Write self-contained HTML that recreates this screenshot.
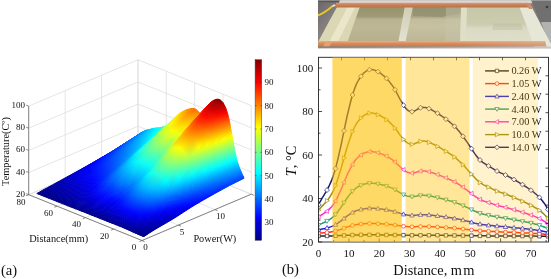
<!DOCTYPE html>
<html><head><meta charset="utf-8"><title>Figure</title>
<style>html,body{margin:0;padding:0;background:#fff;overflow:hidden}body{width:551px;height:279px;font-family:"Liberation Serif",serif}</style>
</head><body>
<svg width="551" height="279" viewBox="0 0 551 279" style="display:block;isolation:isolate;filter:blur(0.3px)"><g id="a3d">
<path d="M28.7 194.7L28.7 106.1M28.7 194.7L142 240.5M65.2 179.3L65.2 90.7M65.2 179.3L178.4 225.1M101.6 163.8L101.6 75.2M101.6 163.8L214.9 209.6M138 148.4L138 59.8M138 148.4L251.3 194.2M251.3 194.2L251.3 105.6M251.3 194.2L142 240.5M223 182.7L223 94.1M223 182.7L113.7 229.1M194.7 171.3L194.7 82.7M194.7 171.3L85.4 217.6M166.3 159.8L166.3 71.2M166.3 159.8L57 206.2M138 148.4L138 59.8M138 148.4L28.7 194.7M28.7 194.7L138 148.4M138 148.4L251.3 194.2M28.7 172.5L138 126.2M138 126.2L251.3 172M28.7 150.4L138 104.1M138 104.1L251.3 149.9M28.7 128.2L138 81.9M138 81.9L251.3 127.7M28.7 106.1L138 59.8M138 59.8L251.3 105.6" stroke="#dedede" stroke-width="0.8" fill="none"/>
<defs><linearGradient id="s99" gradientUnits="userSpaceOnUse" x1="37.7" y1="193.8" x2="137.8" y2="136.3"><stop offset="0.000" stop-color="#000084"/><stop offset="0.029" stop-color="#000089"/><stop offset="0.058" stop-color="#00008f"/><stop offset="0.106" stop-color="#000097"/><stop offset="0.155" stop-color="#00009e"/><stop offset="0.227" stop-color="#0000aa"/><stop offset="0.300" stop-color="#0000b6"/><stop offset="0.394" stop-color="#0000c6"/><stop offset="0.488" stop-color="#0000d5"/><stop offset="0.597" stop-color="#0000e9"/><stop offset="0.706" stop-color="#0000fb"/><stop offset="0.779" stop-color="#000bff"/><stop offset="0.853" stop-color="#001bff"/><stop offset="0.926" stop-color="#002aff"/><stop offset="1.000" stop-color="#0039ff"/></linearGradient><linearGradient id="s98" gradientUnits="userSpaceOnUse" x1="39.3" y1="194.5" x2="139.4" y2="134.3"><stop offset="0.000" stop-color="#000084"/><stop offset="0.029" stop-color="#00008a"/><stop offset="0.058" stop-color="#000091"/><stop offset="0.106" stop-color="#00009a"/><stop offset="0.155" stop-color="#0000a3"/><stop offset="0.227" stop-color="#0000b1"/><stop offset="0.300" stop-color="#0000c0"/><stop offset="0.394" stop-color="#0000d2"/><stop offset="0.488" stop-color="#0000e4"/><stop offset="0.597" stop-color="#0000fa"/><stop offset="0.705" stop-color="#0011ff"/><stop offset="0.779" stop-color="#0023ff"/><stop offset="0.853" stop-color="#0035ff"/><stop offset="0.926" stop-color="#0046ff"/><stop offset="1.000" stop-color="#0058ff"/></linearGradient><linearGradient id="s97" gradientUnits="userSpaceOnUse" x1="40.9" y1="195.1" x2="141" y2="132.9"><stop offset="0.000" stop-color="#000084"/><stop offset="0.029" stop-color="#00008b"/><stop offset="0.058" stop-color="#000093"/><stop offset="0.106" stop-color="#00009d"/><stop offset="0.155" stop-color="#0000a7"/><stop offset="0.227" stop-color="#0000b7"/><stop offset="0.300" stop-color="#0000c7"/><stop offset="0.394" stop-color="#0000db"/><stop offset="0.487" stop-color="#0000f0"/><stop offset="0.596" stop-color="#000aff"/><stop offset="0.705" stop-color="#0022ff"/><stop offset="0.779" stop-color="#0036ff"/><stop offset="0.853" stop-color="#0049ff"/><stop offset="0.926" stop-color="#005dff"/><stop offset="1.000" stop-color="#0071ff"/></linearGradient><linearGradient id="s96" gradientUnits="userSpaceOnUse" x1="42.5" y1="195.7" x2="142.6" y2="131.9"><stop offset="0.000" stop-color="#000085"/><stop offset="0.029" stop-color="#00008c"/><stop offset="0.058" stop-color="#000094"/><stop offset="0.106" stop-color="#00009f"/><stop offset="0.155" stop-color="#0000aa"/><stop offset="0.227" stop-color="#0000bb"/><stop offset="0.300" stop-color="#0000cd"/><stop offset="0.393" stop-color="#0000e3"/><stop offset="0.487" stop-color="#0000f9"/><stop offset="0.596" stop-color="#0015ff"/><stop offset="0.705" stop-color="#0030ff"/><stop offset="0.779" stop-color="#0045ff"/><stop offset="0.852" stop-color="#005aff"/><stop offset="0.926" stop-color="#0070ff"/><stop offset="1.000" stop-color="#0085ff"/></linearGradient><linearGradient id="s95" gradientUnits="userSpaceOnUse" x1="44.1" y1="196.4" x2="144.2" y2="131.1"><stop offset="0.000" stop-color="#000085"/><stop offset="0.029" stop-color="#00008d"/><stop offset="0.058" stop-color="#000096"/><stop offset="0.106" stop-color="#0000a1"/><stop offset="0.155" stop-color="#0000ac"/><stop offset="0.227" stop-color="#0000bf"/><stop offset="0.300" stop-color="#0000d2"/><stop offset="0.393" stop-color="#0000ea"/><stop offset="0.487" stop-color="#0002ff"/><stop offset="0.596" stop-color="#001fff"/><stop offset="0.705" stop-color="#003cff"/><stop offset="0.779" stop-color="#0052ff"/><stop offset="0.852" stop-color="#0069ff"/><stop offset="0.926" stop-color="#007fff"/><stop offset="1.000" stop-color="#0095ff"/></linearGradient><linearGradient id="s94" gradientUnits="userSpaceOnUse" x1="45.7" y1="197" x2="145.8" y2="130.5"><stop offset="0.000" stop-color="#000085"/><stop offset="0.029" stop-color="#00008d"/><stop offset="0.058" stop-color="#000097"/><stop offset="0.107" stop-color="#0000a3"/><stop offset="0.155" stop-color="#0000af"/><stop offset="0.227" stop-color="#0000c3"/><stop offset="0.300" stop-color="#0000d7"/><stop offset="0.393" stop-color="#0000f0"/><stop offset="0.487" stop-color="#000aff"/><stop offset="0.596" stop-color="#0028ff"/><stop offset="0.705" stop-color="#0047ff"/><stop offset="0.779" stop-color="#005eff"/><stop offset="0.852" stop-color="#0076ff"/><stop offset="0.926" stop-color="#008dff"/><stop offset="1.000" stop-color="#00a4ff"/></linearGradient><linearGradient id="s93" gradientUnits="userSpaceOnUse" x1="47.3" y1="197.6" x2="147.5" y2="130"><stop offset="0.000" stop-color="#000085"/><stop offset="0.029" stop-color="#00008e"/><stop offset="0.058" stop-color="#000098"/><stop offset="0.107" stop-color="#0000a5"/><stop offset="0.155" stop-color="#0000b1"/><stop offset="0.227" stop-color="#0000c6"/><stop offset="0.300" stop-color="#0000db"/><stop offset="0.393" stop-color="#0000f5"/><stop offset="0.487" stop-color="#0011ff"/><stop offset="0.596" stop-color="#0031ff"/><stop offset="0.705" stop-color="#0051ff"/><stop offset="0.779" stop-color="#0069ff"/><stop offset="0.853" stop-color="#0082ff"/><stop offset="0.926" stop-color="#009aff"/><stop offset="1.000" stop-color="#00b2ff"/></linearGradient><linearGradient id="s92" gradientUnits="userSpaceOnUse" x1="49" y1="198.3" x2="149.1" y2="129.5"><stop offset="0.000" stop-color="#000085"/><stop offset="0.029" stop-color="#00008e"/><stop offset="0.058" stop-color="#000099"/><stop offset="0.107" stop-color="#0000a6"/><stop offset="0.155" stop-color="#0000b3"/><stop offset="0.227" stop-color="#0000c9"/><stop offset="0.300" stop-color="#0000df"/><stop offset="0.393" stop-color="#0000fb"/><stop offset="0.487" stop-color="#0017ff"/><stop offset="0.596" stop-color="#0039ff"/><stop offset="0.705" stop-color="#005aff"/><stop offset="0.779" stop-color="#0074ff"/><stop offset="0.853" stop-color="#008dff"/><stop offset="0.926" stop-color="#00a7ff"/><stop offset="1.000" stop-color="#00c0ff"/></linearGradient><linearGradient id="s91" gradientUnits="userSpaceOnUse" x1="50.6" y1="198.9" x2="150.7" y2="129.1"><stop offset="0.000" stop-color="#000085"/><stop offset="0.029" stop-color="#00008f"/><stop offset="0.058" stop-color="#00009a"/><stop offset="0.107" stop-color="#0000a8"/><stop offset="0.155" stop-color="#0000b6"/><stop offset="0.227" stop-color="#0000cc"/><stop offset="0.300" stop-color="#0000e3"/><stop offset="0.393" stop-color="#0001ff"/><stop offset="0.487" stop-color="#001eff"/><stop offset="0.596" stop-color="#0041ff"/><stop offset="0.705" stop-color="#0064ff"/><stop offset="0.779" stop-color="#007eff"/><stop offset="0.853" stop-color="#0098ff"/><stop offset="0.926" stop-color="#00b2ff"/><stop offset="1.000" stop-color="#00ccff"/></linearGradient><linearGradient id="s90" gradientUnits="userSpaceOnUse" x1="52.2" y1="199.6" x2="152.3" y2="128.7"><stop offset="0.000" stop-color="#000085"/><stop offset="0.029" stop-color="#00008f"/><stop offset="0.058" stop-color="#00009b"/><stop offset="0.107" stop-color="#0000aa"/><stop offset="0.155" stop-color="#0000b8"/><stop offset="0.227" stop-color="#0000cf"/><stop offset="0.300" stop-color="#0000e7"/><stop offset="0.393" stop-color="#0006ff"/><stop offset="0.487" stop-color="#0024ff"/><stop offset="0.596" stop-color="#0049ff"/><stop offset="0.705" stop-color="#006dff"/><stop offset="0.779" stop-color="#0088ff"/><stop offset="0.853" stop-color="#00a3ff"/><stop offset="0.926" stop-color="#00beff"/><stop offset="1.000" stop-color="#00d8ff"/></linearGradient><linearGradient id="s89" gradientUnits="userSpaceOnUse" x1="53.8" y1="200.2" x2="153.9" y2="128.4"><stop offset="0.000" stop-color="#000086"/><stop offset="0.029" stop-color="#000090"/><stop offset="0.058" stop-color="#00009c"/><stop offset="0.107" stop-color="#0000ab"/><stop offset="0.155" stop-color="#0000ba"/><stop offset="0.227" stop-color="#0000d2"/><stop offset="0.300" stop-color="#0000eb"/><stop offset="0.393" stop-color="#000bff"/><stop offset="0.487" stop-color="#002aff"/><stop offset="0.596" stop-color="#0050ff"/><stop offset="0.705" stop-color="#0076ff"/><stop offset="0.779" stop-color="#0092ff"/><stop offset="0.853" stop-color="#00adff"/><stop offset="0.927" stop-color="#00c9ff"/><stop offset="1.000" stop-color="#00e4ff"/></linearGradient><linearGradient id="s88" gradientUnits="userSpaceOnUse" x1="55.4" y1="200.9" x2="155.5" y2="128.1"><stop offset="0.000" stop-color="#000086"/><stop offset="0.029" stop-color="#000090"/><stop offset="0.058" stop-color="#00009d"/><stop offset="0.107" stop-color="#0000ad"/><stop offset="0.155" stop-color="#0000bc"/><stop offset="0.227" stop-color="#0000d5"/><stop offset="0.300" stop-color="#0000ef"/><stop offset="0.394" stop-color="#0010ff"/><stop offset="0.487" stop-color="#0030ff"/><stop offset="0.597" stop-color="#0057ff"/><stop offset="0.705" stop-color="#007eff"/><stop offset="0.779" stop-color="#009bff"/><stop offset="0.853" stop-color="#00b8ff"/><stop offset="0.927" stop-color="#00d4ff"/><stop offset="1.000" stop-color="#00f0ff"/></linearGradient><linearGradient id="s87" gradientUnits="userSpaceOnUse" x1="57" y1="201.5" x2="157.1" y2="127.9"><stop offset="0.000" stop-color="#000086"/><stop offset="0.029" stop-color="#000091"/><stop offset="0.058" stop-color="#00009e"/><stop offset="0.107" stop-color="#0000ae"/><stop offset="0.155" stop-color="#0000bd"/><stop offset="0.227" stop-color="#0000d7"/><stop offset="0.300" stop-color="#0000f2"/><stop offset="0.394" stop-color="#0014ff"/><stop offset="0.487" stop-color="#0035ff"/><stop offset="0.597" stop-color="#005eff"/><stop offset="0.706" stop-color="#0086ff"/><stop offset="0.779" stop-color="#00a3ff"/><stop offset="0.853" stop-color="#00c1ff"/><stop offset="0.927" stop-color="#00deff"/><stop offset="1.000" stop-color="#00faff"/></linearGradient><linearGradient id="s86" gradientUnits="userSpaceOnUse" x1="58.6" y1="202.1" x2="158.8" y2="127.7"><stop offset="0.000" stop-color="#000086"/><stop offset="0.029" stop-color="#000091"/><stop offset="0.059" stop-color="#00009e"/><stop offset="0.107" stop-color="#0000af"/><stop offset="0.155" stop-color="#0000bf"/><stop offset="0.227" stop-color="#0000da"/><stop offset="0.300" stop-color="#0000f5"/><stop offset="0.394" stop-color="#0018ff"/><stop offset="0.488" stop-color="#003aff"/><stop offset="0.597" stop-color="#0064ff"/><stop offset="0.706" stop-color="#008dff"/><stop offset="0.780" stop-color="#00abff"/><stop offset="0.853" stop-color="#00c9ff"/><stop offset="0.927" stop-color="#00e7ff"/><stop offset="1.000" stop-color="#04fffb"/></linearGradient><linearGradient id="s85" gradientUnits="userSpaceOnUse" x1="60.3" y1="202.8" x2="160.4" y2="127.6"><stop offset="0.000" stop-color="#000086"/><stop offset="0.029" stop-color="#000092"/><stop offset="0.059" stop-color="#00009f"/><stop offset="0.107" stop-color="#0000b0"/><stop offset="0.155" stop-color="#0000c1"/><stop offset="0.227" stop-color="#0000dc"/><stop offset="0.300" stop-color="#0000f9"/><stop offset="0.394" stop-color="#001cff"/><stop offset="0.488" stop-color="#0040ff"/><stop offset="0.597" stop-color="#006bff"/><stop offset="0.706" stop-color="#0095ff"/><stop offset="0.780" stop-color="#00b4ff"/><stop offset="0.853" stop-color="#00d2ff"/><stop offset="0.927" stop-color="#00f0ff"/><stop offset="1.000" stop-color="#0efff1"/></linearGradient><linearGradient id="s84" gradientUnits="userSpaceOnUse" x1="61.9" y1="203.4" x2="162" y2="127.2"><stop offset="0.000" stop-color="#000086"/><stop offset="0.029" stop-color="#000092"/><stop offset="0.059" stop-color="#0000a0"/><stop offset="0.107" stop-color="#0000b2"/><stop offset="0.155" stop-color="#0000c3"/><stop offset="0.227" stop-color="#0000df"/><stop offset="0.300" stop-color="#0000fc"/><stop offset="0.394" stop-color="#0022ff"/><stop offset="0.488" stop-color="#0046ff"/><stop offset="0.597" stop-color="#0073ff"/><stop offset="0.706" stop-color="#009eff"/><stop offset="0.780" stop-color="#00beff"/><stop offset="0.854" stop-color="#00ddff"/><stop offset="0.927" stop-color="#00fbff"/><stop offset="1.000" stop-color="#1affe5"/></linearGradient><linearGradient id="s83" gradientUnits="userSpaceOnUse" x1="63.5" y1="204.1" x2="163.6" y2="126.8"><stop offset="0.000" stop-color="#000086"/><stop offset="0.029" stop-color="#000093"/><stop offset="0.059" stop-color="#0000a1"/><stop offset="0.107" stop-color="#0000b4"/><stop offset="0.155" stop-color="#0000c5"/><stop offset="0.228" stop-color="#0000e3"/><stop offset="0.300" stop-color="#0002ff"/><stop offset="0.394" stop-color="#0027ff"/><stop offset="0.488" stop-color="#004dff"/><stop offset="0.598" stop-color="#007bff"/><stop offset="0.707" stop-color="#00a8ff"/><stop offset="0.780" stop-color="#00c8ff"/><stop offset="0.854" stop-color="#00e8ff"/><stop offset="0.927" stop-color="#09fff6"/><stop offset="1.000" stop-color="#27ffd8"/></linearGradient><linearGradient id="s82" gradientUnits="userSpaceOnUse" x1="65.1" y1="204.7" x2="165.2" y2="126.3"><stop offset="0.000" stop-color="#000086"/><stop offset="0.029" stop-color="#000093"/><stop offset="0.059" stop-color="#0000a2"/><stop offset="0.107" stop-color="#0000b5"/><stop offset="0.155" stop-color="#0000c8"/><stop offset="0.228" stop-color="#0000e6"/><stop offset="0.300" stop-color="#0006ff"/><stop offset="0.394" stop-color="#002dff"/><stop offset="0.488" stop-color="#0053ff"/><stop offset="0.598" stop-color="#0083ff"/><stop offset="0.707" stop-color="#00b2ff"/><stop offset="0.781" stop-color="#00d3ff"/><stop offset="0.854" stop-color="#00f4ff"/><stop offset="0.927" stop-color="#15ffea"/><stop offset="1.000" stop-color="#34ffcb"/></linearGradient><linearGradient id="s81" gradientUnits="userSpaceOnUse" x1="66.7" y1="205.4" x2="166.8" y2="125.9"><stop offset="0.000" stop-color="#000087"/><stop offset="0.029" stop-color="#000094"/><stop offset="0.059" stop-color="#0000a3"/><stop offset="0.107" stop-color="#0000b7"/><stop offset="0.155" stop-color="#0000ca"/><stop offset="0.228" stop-color="#0000e9"/><stop offset="0.301" stop-color="#000aff"/><stop offset="0.394" stop-color="#0032ff"/><stop offset="0.488" stop-color="#005aff"/><stop offset="0.598" stop-color="#008cff"/><stop offset="0.707" stop-color="#00bcff"/><stop offset="0.781" stop-color="#00deff"/><stop offset="0.854" stop-color="#00ffff"/><stop offset="0.927" stop-color="#21ffde"/><stop offset="1.000" stop-color="#41ffbe"/></linearGradient><linearGradient id="s80" gradientUnits="userSpaceOnUse" x1="68.3" y1="206" x2="168.4" y2="125.1"><stop offset="0.000" stop-color="#000087"/><stop offset="0.029" stop-color="#000095"/><stop offset="0.059" stop-color="#0000a5"/><stop offset="0.107" stop-color="#0000b9"/><stop offset="0.155" stop-color="#0000cd"/><stop offset="0.228" stop-color="#0000ee"/><stop offset="0.301" stop-color="#0010ff"/><stop offset="0.395" stop-color="#0039ff"/><stop offset="0.489" stop-color="#0063ff"/><stop offset="0.598" stop-color="#0097ff"/><stop offset="0.708" stop-color="#00c9ff"/><stop offset="0.781" stop-color="#00ecff"/><stop offset="0.854" stop-color="#0ffff0"/><stop offset="0.927" stop-color="#31ffce"/><stop offset="1.000" stop-color="#52ffad"/></linearGradient><linearGradient id="s79" gradientUnits="userSpaceOnUse" x1="69.9" y1="206.6" x2="170.1" y2="123.9"><stop offset="0.000" stop-color="#000087"/><stop offset="0.029" stop-color="#000096"/><stop offset="0.059" stop-color="#0000a6"/><stop offset="0.107" stop-color="#0000bc"/><stop offset="0.155" stop-color="#0000d1"/><stop offset="0.228" stop-color="#0000f3"/><stop offset="0.301" stop-color="#0017ff"/><stop offset="0.395" stop-color="#0043ff"/><stop offset="0.489" stop-color="#006fff"/><stop offset="0.599" stop-color="#00a5ff"/><stop offset="0.708" stop-color="#00daff"/><stop offset="0.781" stop-color="#00ffff"/><stop offset="0.855" stop-color="#24ffdb"/><stop offset="0.928" stop-color="#47ffb8"/><stop offset="1.000" stop-color="#69ff96"/></linearGradient><linearGradient id="s78" gradientUnits="userSpaceOnUse" x1="71.6" y1="207.2" x2="171.7" y2="122.1"><stop offset="0.000" stop-color="#000087"/><stop offset="0.029" stop-color="#000097"/><stop offset="0.059" stop-color="#0000a9"/><stop offset="0.108" stop-color="#0000c0"/><stop offset="0.155" stop-color="#0000d6"/><stop offset="0.228" stop-color="#0000fa"/><stop offset="0.301" stop-color="#0021ff"/><stop offset="0.395" stop-color="#004fff"/><stop offset="0.489" stop-color="#007eff"/><stop offset="0.599" stop-color="#00b7ff"/><stop offset="0.708" stop-color="#00f0ff"/><stop offset="0.782" stop-color="#17ffe8"/><stop offset="0.855" stop-color="#3dffc2"/><stop offset="0.928" stop-color="#62ff9d"/><stop offset="1.000" stop-color="#86ff79"/></linearGradient><linearGradient id="s77" gradientUnits="userSpaceOnUse" x1="73.2" y1="207.9" x2="173.3" y2="120.1"><stop offset="0.000" stop-color="#000088"/><stop offset="0.029" stop-color="#000098"/><stop offset="0.059" stop-color="#0000ab"/><stop offset="0.108" stop-color="#0000c4"/><stop offset="0.156" stop-color="#0000db"/><stop offset="0.228" stop-color="#0003ff"/><stop offset="0.301" stop-color="#002bff"/><stop offset="0.395" stop-color="#005cff"/><stop offset="0.489" stop-color="#008eff"/><stop offset="0.599" stop-color="#00cbff"/><stop offset="0.709" stop-color="#08fff7"/><stop offset="0.782" stop-color="#30ffcf"/><stop offset="0.855" stop-color="#58ffa7"/><stop offset="0.928" stop-color="#7fff80"/><stop offset="1.000" stop-color="#a5ff5a"/></linearGradient><linearGradient id="s76" gradientUnits="userSpaceOnUse" x1="74.8" y1="208.5" x2="174.9" y2="118.2"><stop offset="0.000" stop-color="#000088"/><stop offset="0.029" stop-color="#000099"/><stop offset="0.060" stop-color="#0000ae"/><stop offset="0.108" stop-color="#0000c8"/><stop offset="0.156" stop-color="#0000e0"/><stop offset="0.228" stop-color="#000bff"/><stop offset="0.301" stop-color="#0035ff"/><stop offset="0.395" stop-color="#0069ff"/><stop offset="0.489" stop-color="#009eff"/><stop offset="0.600" stop-color="#00dfff"/><stop offset="0.709" stop-color="#1fffe0"/><stop offset="0.783" stop-color="#4affb5"/><stop offset="0.856" stop-color="#74ff8b"/><stop offset="0.928" stop-color="#9dff62"/><stop offset="1.000" stop-color="#c4ff3b"/></linearGradient><linearGradient id="s75" gradientUnits="userSpaceOnUse" x1="76.4" y1="209.1" x2="176.5" y2="116.3"><stop offset="0.000" stop-color="#000088"/><stop offset="0.029" stop-color="#00009b"/><stop offset="0.060" stop-color="#0000b0"/><stop offset="0.108" stop-color="#0000cb"/><stop offset="0.156" stop-color="#0000e6"/><stop offset="0.228" stop-color="#0012ff"/><stop offset="0.302" stop-color="#003eff"/><stop offset="0.396" stop-color="#0076ff"/><stop offset="0.490" stop-color="#00adff"/><stop offset="0.600" stop-color="#00f2ff"/><stop offset="0.710" stop-color="#36ffc9"/><stop offset="0.783" stop-color="#62ff9d"/><stop offset="0.856" stop-color="#8eff71"/><stop offset="0.928" stop-color="#b9ff46"/><stop offset="1.000" stop-color="#e2ff1d"/></linearGradient><linearGradient id="s74" gradientUnits="userSpaceOnUse" x1="78" y1="209.8" x2="178.1" y2="114.7"><stop offset="0.000" stop-color="#000089"/><stop offset="0.029" stop-color="#00009c"/><stop offset="0.060" stop-color="#0000b2"/><stop offset="0.108" stop-color="#0000cf"/><stop offset="0.156" stop-color="#0000ea"/><stop offset="0.229" stop-color="#0019ff"/><stop offset="0.302" stop-color="#0047ff"/><stop offset="0.396" stop-color="#0081ff"/><stop offset="0.490" stop-color="#00bbff"/><stop offset="0.601" stop-color="#04fffb"/><stop offset="0.711" stop-color="#4affb5"/><stop offset="0.784" stop-color="#79ff86"/><stop offset="0.856" stop-color="#a6ff59"/><stop offset="0.929" stop-color="#d2ff2d"/><stop offset="1.000" stop-color="#fdff02"/></linearGradient><linearGradient id="s73" gradientUnits="userSpaceOnUse" x1="79.6" y1="210.4" x2="179.7" y2="113.4"><stop offset="0.000" stop-color="#000089"/><stop offset="0.029" stop-color="#00009d"/><stop offset="0.060" stop-color="#0000b4"/><stop offset="0.108" stop-color="#0000d2"/><stop offset="0.156" stop-color="#0000ef"/><stop offset="0.229" stop-color="#001fff"/><stop offset="0.302" stop-color="#004fff"/><stop offset="0.396" stop-color="#008cff"/><stop offset="0.490" stop-color="#00c8ff"/><stop offset="0.601" stop-color="#14ffeb"/><stop offset="0.711" stop-color="#5dffa2"/><stop offset="0.784" stop-color="#8dff72"/><stop offset="0.857" stop-color="#bcff43"/><stop offset="0.929" stop-color="#e9ff16"/><stop offset="1.000" stop-color="#ffe900"/></linearGradient><linearGradient id="s72" gradientUnits="userSpaceOnUse" x1="81.2" y1="211" x2="181.4" y2="112.2"><stop offset="0.000" stop-color="#000089"/><stop offset="0.029" stop-color="#00009e"/><stop offset="0.060" stop-color="#0000b6"/><stop offset="0.108" stop-color="#0000d5"/><stop offset="0.156" stop-color="#0000f2"/><stop offset="0.229" stop-color="#0024ff"/><stop offset="0.302" stop-color="#0057ff"/><stop offset="0.397" stop-color="#0095ff"/><stop offset="0.491" stop-color="#00d4ff"/><stop offset="0.602" stop-color="#22ffdd"/><stop offset="0.712" stop-color="#6dff92"/><stop offset="0.785" stop-color="#9fff60"/><stop offset="0.857" stop-color="#cfff30"/><stop offset="0.929" stop-color="#fdff02"/><stop offset="1.000" stop-color="#ffd400"/></linearGradient><linearGradient id="s71" gradientUnits="userSpaceOnUse" x1="82.9" y1="211.7" x2="183" y2="111.4"><stop offset="0.000" stop-color="#000089"/><stop offset="0.029" stop-color="#00009f"/><stop offset="0.060" stop-color="#0000b7"/><stop offset="0.109" stop-color="#0000d7"/><stop offset="0.156" stop-color="#0000f6"/><stop offset="0.229" stop-color="#0029ff"/><stop offset="0.303" stop-color="#005dff"/><stop offset="0.397" stop-color="#009dff"/><stop offset="0.491" stop-color="#00deff"/><stop offset="0.602" stop-color="#2effd1"/><stop offset="0.713" stop-color="#7cff83"/><stop offset="0.785" stop-color="#aeff51"/><stop offset="0.858" stop-color="#dfff20"/><stop offset="0.929" stop-color="#fff000"/><stop offset="1.000" stop-color="#ffc200"/></linearGradient><linearGradient id="s70" gradientUnits="userSpaceOnUse" x1="84.5" y1="212.3" x2="184.6" y2="110.7"><stop offset="0.000" stop-color="#000089"/><stop offset="0.029" stop-color="#00009f"/><stop offset="0.060" stop-color="#0000b9"/><stop offset="0.109" stop-color="#0000d9"/><stop offset="0.156" stop-color="#0000f9"/><stop offset="0.229" stop-color="#002eff"/><stop offset="0.303" stop-color="#0063ff"/><stop offset="0.397" stop-color="#00a5ff"/><stop offset="0.492" stop-color="#00e7ff"/><stop offset="0.603" stop-color="#3affc5"/><stop offset="0.713" stop-color="#89ff76"/><stop offset="0.786" stop-color="#bcff43"/><stop offset="0.858" stop-color="#eeff11"/><stop offset="0.929" stop-color="#ffe000"/><stop offset="1.000" stop-color="#ffb200"/></linearGradient><linearGradient id="s69" gradientUnits="userSpaceOnUse" x1="86.1" y1="212.9" x2="186.2" y2="110"><stop offset="0.000" stop-color="#00008a"/><stop offset="0.030" stop-color="#0000a0"/><stop offset="0.061" stop-color="#0000ba"/><stop offset="0.109" stop-color="#0000dc"/><stop offset="0.157" stop-color="#0000fc"/><stop offset="0.230" stop-color="#0032ff"/><stop offset="0.303" stop-color="#0068ff"/><stop offset="0.398" stop-color="#00acff"/><stop offset="0.492" stop-color="#00efff"/><stop offset="0.603" stop-color="#44ffbb"/><stop offset="0.714" stop-color="#96ff69"/><stop offset="0.787" stop-color="#caff35"/><stop offset="0.859" stop-color="#fcff03"/><stop offset="0.930" stop-color="#ffd100"/><stop offset="1.000" stop-color="#ffa300"/></linearGradient><linearGradient id="s68" gradientUnits="userSpaceOnUse" x1="87.7" y1="213.6" x2="187.8" y2="109.5"><stop offset="0.000" stop-color="#00008a"/><stop offset="0.030" stop-color="#0000a1"/><stop offset="0.061" stop-color="#0000bb"/><stop offset="0.109" stop-color="#0000de"/><stop offset="0.157" stop-color="#0000fe"/><stop offset="0.230" stop-color="#0036ff"/><stop offset="0.304" stop-color="#006dff"/><stop offset="0.398" stop-color="#00b2ff"/><stop offset="0.493" stop-color="#00f8ff"/><stop offset="0.604" stop-color="#4effb1"/><stop offset="0.715" stop-color="#a2ff5d"/><stop offset="0.787" stop-color="#d6ff29"/><stop offset="0.859" stop-color="#fff400"/><stop offset="0.930" stop-color="#ffc300"/><stop offset="1.000" stop-color="#ff9500"/></linearGradient><linearGradient id="s67" gradientUnits="userSpaceOnUse" x1="89.3" y1="214.2" x2="189.4" y2="109"><stop offset="0.000" stop-color="#00008a"/><stop offset="0.030" stop-color="#0000a1"/><stop offset="0.061" stop-color="#0000bd"/><stop offset="0.109" stop-color="#0000df"/><stop offset="0.157" stop-color="#0002ff"/><stop offset="0.230" stop-color="#0039ff"/><stop offset="0.304" stop-color="#0072ff"/><stop offset="0.398" stop-color="#00b8ff"/><stop offset="0.493" stop-color="#00ffff"/><stop offset="0.605" stop-color="#58ffa7"/><stop offset="0.715" stop-color="#adff52"/><stop offset="0.788" stop-color="#e2ff1d"/><stop offset="0.859" stop-color="#ffe800"/><stop offset="0.930" stop-color="#ffb700"/><stop offset="1.000" stop-color="#ff8700"/></linearGradient><linearGradient id="s66" gradientUnits="userSpaceOnUse" x1="90.9" y1="214.8" x2="191" y2="108.7"><stop offset="0.000" stop-color="#00008a"/><stop offset="0.030" stop-color="#0000a2"/><stop offset="0.061" stop-color="#0000be"/><stop offset="0.109" stop-color="#0000e1"/><stop offset="0.157" stop-color="#0004ff"/><stop offset="0.230" stop-color="#003dff"/><stop offset="0.304" stop-color="#0076ff"/><stop offset="0.399" stop-color="#00beff"/><stop offset="0.494" stop-color="#07fff8"/><stop offset="0.605" stop-color="#60ff9f"/><stop offset="0.716" stop-color="#b7ff48"/><stop offset="0.788" stop-color="#edff12"/><stop offset="0.860" stop-color="#ffdd00"/><stop offset="0.931" stop-color="#ffab00"/><stop offset="1.000" stop-color="#ff7c00"/></linearGradient><linearGradient id="s65" gradientUnits="userSpaceOnUse" x1="92.5" y1="215.5" x2="192.7" y2="108.6"><stop offset="0.000" stop-color="#00008a"/><stop offset="0.030" stop-color="#0000a3"/><stop offset="0.061" stop-color="#0000bf"/><stop offset="0.109" stop-color="#0000e3"/><stop offset="0.157" stop-color="#0006ff"/><stop offset="0.231" stop-color="#0040ff"/><stop offset="0.305" stop-color="#007aff"/><stop offset="0.399" stop-color="#00c3ff"/><stop offset="0.494" stop-color="#0dfff2"/><stop offset="0.606" stop-color="#67ff98"/><stop offset="0.717" stop-color="#c0ff3f"/><stop offset="0.789" stop-color="#f6ff09"/><stop offset="0.860" stop-color="#ffd400"/><stop offset="0.931" stop-color="#ffa200"/><stop offset="1.000" stop-color="#ff7200"/></linearGradient><linearGradient id="s64" gradientUnits="userSpaceOnUse" x1="94.2" y1="216.1" x2="194.3" y2="108.7"><stop offset="0.000" stop-color="#00008a"/><stop offset="0.030" stop-color="#0000a3"/><stop offset="0.061" stop-color="#0000bf"/><stop offset="0.109" stop-color="#0000e4"/><stop offset="0.157" stop-color="#0007ff"/><stop offset="0.231" stop-color="#0041ff"/><stop offset="0.305" stop-color="#007cff"/><stop offset="0.400" stop-color="#00c6ff"/><stop offset="0.495" stop-color="#11ffee"/><stop offset="0.607" stop-color="#6cff93"/><stop offset="0.718" stop-color="#c5ff3a"/><stop offset="0.790" stop-color="#fcff03"/><stop offset="0.861" stop-color="#ffce00"/><stop offset="0.931" stop-color="#ff9c00"/><stop offset="1.000" stop-color="#ff6d00"/></linearGradient><linearGradient id="s63" gradientUnits="userSpaceOnUse" x1="95.8" y1="216.8" x2="195.9" y2="109.4"><stop offset="0.000" stop-color="#00008a"/><stop offset="0.030" stop-color="#0000a3"/><stop offset="0.061" stop-color="#0000bf"/><stop offset="0.110" stop-color="#0000e4"/><stop offset="0.157" stop-color="#0008ff"/><stop offset="0.231" stop-color="#0041ff"/><stop offset="0.305" stop-color="#007dff"/><stop offset="0.400" stop-color="#00c6ff"/><stop offset="0.495" stop-color="#11ffee"/><stop offset="0.607" stop-color="#6cff93"/><stop offset="0.718" stop-color="#c5ff3a"/><stop offset="0.790" stop-color="#fcff03"/><stop offset="0.861" stop-color="#ffce00"/><stop offset="0.931" stop-color="#ff9c00"/><stop offset="1.000" stop-color="#ff6d00"/></linearGradient><linearGradient id="s62" gradientUnits="userSpaceOnUse" x1="97.4" y1="217.4" x2="197.5" y2="110.7"><stop offset="0.000" stop-color="#00008a"/><stop offset="0.030" stop-color="#0000a3"/><stop offset="0.061" stop-color="#0000bf"/><stop offset="0.109" stop-color="#0000e3"/><stop offset="0.157" stop-color="#0006ff"/><stop offset="0.231" stop-color="#0040ff"/><stop offset="0.305" stop-color="#007aff"/><stop offset="0.400" stop-color="#00c3ff"/><stop offset="0.495" stop-color="#0dfff2"/><stop offset="0.607" stop-color="#68ff97"/><stop offset="0.718" stop-color="#c0ff3f"/><stop offset="0.790" stop-color="#f5ff0a"/><stop offset="0.861" stop-color="#ffd500"/><stop offset="0.931" stop-color="#ffa300"/><stop offset="1.000" stop-color="#ff7500"/></linearGradient><linearGradient id="s61" gradientUnits="userSpaceOnUse" x1="99" y1="218.1" x2="199.1" y2="112.3"><stop offset="0.000" stop-color="#00008a"/><stop offset="0.030" stop-color="#0000a2"/><stop offset="0.061" stop-color="#0000be"/><stop offset="0.109" stop-color="#0000e1"/><stop offset="0.157" stop-color="#0004ff"/><stop offset="0.231" stop-color="#003dff"/><stop offset="0.305" stop-color="#0077ff"/><stop offset="0.400" stop-color="#00bfff"/><stop offset="0.495" stop-color="#08fff7"/><stop offset="0.607" stop-color="#61ff9e"/><stop offset="0.718" stop-color="#b8ff47"/><stop offset="0.790" stop-color="#edff12"/><stop offset="0.861" stop-color="#ffde00"/><stop offset="0.931" stop-color="#ffae00"/><stop offset="1.000" stop-color="#ff8000"/></linearGradient><linearGradient id="s60" gradientUnits="userSpaceOnUse" x1="100.6" y1="218.8" x2="200.7" y2="113.3"><stop offset="0.000" stop-color="#00008a"/><stop offset="0.030" stop-color="#0000a2"/><stop offset="0.061" stop-color="#0000bd"/><stop offset="0.109" stop-color="#0000e1"/><stop offset="0.157" stop-color="#0004ff"/><stop offset="0.231" stop-color="#003cff"/><stop offset="0.305" stop-color="#0075ff"/><stop offset="0.400" stop-color="#00bdff"/><stop offset="0.495" stop-color="#06fff9"/><stop offset="0.607" stop-color="#5effa1"/><stop offset="0.718" stop-color="#b5ff4a"/><stop offset="0.790" stop-color="#eaff15"/><stop offset="0.861" stop-color="#ffe200"/><stop offset="0.931" stop-color="#ffb100"/><stop offset="1.000" stop-color="#ff8400"/></linearGradient><linearGradient id="s59" gradientUnits="userSpaceOnUse" x1="101.9" y1="219.3" x2="202.1" y2="113.4"><stop offset="0.000" stop-color="#00008a"/><stop offset="0.030" stop-color="#0000a2"/><stop offset="0.061" stop-color="#0000be"/><stop offset="0.109" stop-color="#0000e1"/><stop offset="0.157" stop-color="#0005ff"/><stop offset="0.231" stop-color="#003dff"/><stop offset="0.305" stop-color="#0077ff"/><stop offset="0.400" stop-color="#00bfff"/><stop offset="0.495" stop-color="#09fff6"/><stop offset="0.607" stop-color="#62ff9d"/><stop offset="0.718" stop-color="#b9ff46"/><stop offset="0.790" stop-color="#eeff11"/><stop offset="0.861" stop-color="#ffdd00"/><stop offset="0.931" stop-color="#ffac00"/><stop offset="1.000" stop-color="#ff7e00"/></linearGradient><linearGradient id="s58" gradientUnits="userSpaceOnUse" x1="103" y1="219.7" x2="203.1" y2="112.8"><stop offset="0.000" stop-color="#00008a"/><stop offset="0.030" stop-color="#0000a3"/><stop offset="0.061" stop-color="#0000bf"/><stop offset="0.110" stop-color="#0000e3"/><stop offset="0.157" stop-color="#0007ff"/><stop offset="0.231" stop-color="#0040ff"/><stop offset="0.305" stop-color="#007bff"/><stop offset="0.400" stop-color="#00c4ff"/><stop offset="0.495" stop-color="#0ffff0"/><stop offset="0.607" stop-color="#69ff96"/><stop offset="0.718" stop-color="#c2ff3d"/><stop offset="0.790" stop-color="#f8ff07"/><stop offset="0.861" stop-color="#ffd200"/><stop offset="0.931" stop-color="#ffa100"/><stop offset="1.000" stop-color="#ff7200"/></linearGradient><linearGradient id="s57" gradientUnits="userSpaceOnUse" x1="104.1" y1="220.1" x2="204.2" y2="111.8"><stop offset="0.000" stop-color="#00008a"/><stop offset="0.030" stop-color="#0000a3"/><stop offset="0.061" stop-color="#0000c0"/><stop offset="0.110" stop-color="#0000e5"/><stop offset="0.157" stop-color="#000aff"/><stop offset="0.231" stop-color="#0044ff"/><stop offset="0.305" stop-color="#0081ff"/><stop offset="0.400" stop-color="#00cbff"/><stop offset="0.495" stop-color="#17ffe8"/><stop offset="0.607" stop-color="#74ff8b"/><stop offset="0.718" stop-color="#ceff31"/><stop offset="0.790" stop-color="#fff800"/><stop offset="0.861" stop-color="#ffc300"/><stop offset="0.931" stop-color="#ff9100"/><stop offset="1.000" stop-color="#ff6100"/></linearGradient><linearGradient id="s56" gradientUnits="userSpaceOnUse" x1="105.1" y1="220.5" x2="205.3" y2="110.3"><stop offset="0.000" stop-color="#00008b"/><stop offset="0.030" stop-color="#0000a4"/><stop offset="0.061" stop-color="#0000c2"/><stop offset="0.110" stop-color="#0000e8"/><stop offset="0.157" stop-color="#000dff"/><stop offset="0.231" stop-color="#004aff"/><stop offset="0.305" stop-color="#0088ff"/><stop offset="0.400" stop-color="#00d4ff"/><stop offset="0.495" stop-color="#23ffdc"/><stop offset="0.607" stop-color="#82ff7d"/><stop offset="0.718" stop-color="#dfff20"/><stop offset="0.790" stop-color="#ffe600"/><stop offset="0.861" stop-color="#ffb000"/><stop offset="0.931" stop-color="#ff7c00"/><stop offset="1.000" stop-color="#ff4a00"/></linearGradient><linearGradient id="s55" gradientUnits="userSpaceOnUse" x1="106.2" y1="220.9" x2="206.3" y2="108.6"><stop offset="0.000" stop-color="#00008b"/><stop offset="0.030" stop-color="#0000a5"/><stop offset="0.061" stop-color="#0000c4"/><stop offset="0.110" stop-color="#0000eb"/><stop offset="0.157" stop-color="#0012ff"/><stop offset="0.231" stop-color="#0050ff"/><stop offset="0.305" stop-color="#0090ff"/><stop offset="0.400" stop-color="#00dfff"/><stop offset="0.495" stop-color="#30ffcf"/><stop offset="0.607" stop-color="#92ff6d"/><stop offset="0.718" stop-color="#f2ff0d"/><stop offset="0.790" stop-color="#ffd200"/><stop offset="0.861" stop-color="#ff9a00"/><stop offset="0.931" stop-color="#ff6400"/><stop offset="1.000" stop-color="#ff3100"/></linearGradient><linearGradient id="s54" gradientUnits="userSpaceOnUse" x1="107.3" y1="221.4" x2="207.4" y2="106.9"><stop offset="0.000" stop-color="#00008b"/><stop offset="0.030" stop-color="#0000a6"/><stop offset="0.061" stop-color="#0000c6"/><stop offset="0.110" stop-color="#0000ee"/><stop offset="0.158" stop-color="#0016ff"/><stop offset="0.231" stop-color="#0056ff"/><stop offset="0.305" stop-color="#0098ff"/><stop offset="0.400" stop-color="#00eaff"/><stop offset="0.495" stop-color="#3dffc2"/><stop offset="0.607" stop-color="#a2ff5d"/><stop offset="0.719" stop-color="#fff900"/><stop offset="0.791" stop-color="#ffbd00"/><stop offset="0.862" stop-color="#ff8300"/><stop offset="0.931" stop-color="#ff4b00"/><stop offset="1.000" stop-color="#ff1700"/></linearGradient><linearGradient id="s53" gradientUnits="userSpaceOnUse" x1="108.3" y1="221.8" x2="208.4" y2="105.2"><stop offset="0.000" stop-color="#00008b"/><stop offset="0.030" stop-color="#0000a7"/><stop offset="0.062" stop-color="#0000c8"/><stop offset="0.110" stop-color="#0000f1"/><stop offset="0.158" stop-color="#001aff"/><stop offset="0.231" stop-color="#005cff"/><stop offset="0.305" stop-color="#00a0ff"/><stop offset="0.400" stop-color="#00f4ff"/><stop offset="0.495" stop-color="#49ffb6"/><stop offset="0.608" stop-color="#b2ff4d"/><stop offset="0.719" stop-color="#ffe700"/><stop offset="0.791" stop-color="#ffa900"/><stop offset="0.862" stop-color="#ff6d00"/><stop offset="0.932" stop-color="#ff3400"/><stop offset="1.000" stop-color="#fd0000"/></linearGradient><linearGradient id="s52" gradientUnits="userSpaceOnUse" x1="109.4" y1="222.2" x2="209.5" y2="103.8"><stop offset="0.000" stop-color="#00008c"/><stop offset="0.030" stop-color="#0000a8"/><stop offset="0.062" stop-color="#0000ca"/><stop offset="0.110" stop-color="#0000f4"/><stop offset="0.158" stop-color="#001eff"/><stop offset="0.231" stop-color="#0062ff"/><stop offset="0.305" stop-color="#00a7ff"/><stop offset="0.400" stop-color="#00fdff"/><stop offset="0.495" stop-color="#55ffaa"/><stop offset="0.608" stop-color="#bfff40"/><stop offset="0.719" stop-color="#ffd700"/><stop offset="0.791" stop-color="#ff9700"/><stop offset="0.862" stop-color="#ff5a00"/><stop offset="0.932" stop-color="#ff2000"/><stop offset="1.000" stop-color="#e80000"/></linearGradient><linearGradient id="s51" gradientUnits="userSpaceOnUse" x1="110.4" y1="222.6" x2="210.6" y2="102.6"><stop offset="0.000" stop-color="#00008c"/><stop offset="0.030" stop-color="#0000a9"/><stop offset="0.062" stop-color="#0000cb"/><stop offset="0.110" stop-color="#0000f6"/><stop offset="0.158" stop-color="#0021ff"/><stop offset="0.231" stop-color="#0066ff"/><stop offset="0.305" stop-color="#00adff"/><stop offset="0.400" stop-color="#06fff9"/><stop offset="0.495" stop-color="#5effa1"/><stop offset="0.608" stop-color="#cbff34"/><stop offset="0.719" stop-color="#ffc900"/><stop offset="0.791" stop-color="#ff8800"/><stop offset="0.862" stop-color="#ff4900"/><stop offset="0.932" stop-color="#ff0e00"/><stop offset="1.000" stop-color="#d50000"/></linearGradient><linearGradient id="s50" gradientUnits="userSpaceOnUse" x1="111.5" y1="223" x2="211.6" y2="101.7"><stop offset="0.000" stop-color="#00008c"/><stop offset="0.030" stop-color="#0000aa"/><stop offset="0.062" stop-color="#0000cc"/><stop offset="0.110" stop-color="#0000f9"/><stop offset="0.158" stop-color="#0024ff"/><stop offset="0.231" stop-color="#006aff"/><stop offset="0.306" stop-color="#00b2ff"/><stop offset="0.400" stop-color="#0dfff2"/><stop offset="0.495" stop-color="#67ff98"/><stop offset="0.608" stop-color="#d5ff2a"/><stop offset="0.720" stop-color="#ffbd00"/><stop offset="0.791" stop-color="#ff7b00"/><stop offset="0.862" stop-color="#ff3b00"/><stop offset="0.932" stop-color="#fe0000"/><stop offset="1.000" stop-color="#c40000"/></linearGradient><linearGradient id="s49" gradientUnits="userSpaceOnUse" x1="112.6" y1="223.4" x2="212.7" y2="100.9"><stop offset="0.000" stop-color="#00008c"/><stop offset="0.030" stop-color="#0000aa"/><stop offset="0.062" stop-color="#0000cd"/><stop offset="0.110" stop-color="#0000fa"/><stop offset="0.158" stop-color="#0026ff"/><stop offset="0.231" stop-color="#006eff"/><stop offset="0.306" stop-color="#00b7ff"/><stop offset="0.400" stop-color="#13ffec"/><stop offset="0.496" stop-color="#6eff91"/><stop offset="0.608" stop-color="#deff21"/><stop offset="0.720" stop-color="#ffb200"/><stop offset="0.792" stop-color="#ff6f00"/><stop offset="0.862" stop-color="#ff2f00"/><stop offset="0.932" stop-color="#f00000"/><stop offset="1.000" stop-color="#b60000"/></linearGradient><linearGradient id="s48" gradientUnits="userSpaceOnUse" x1="113.6" y1="223.8" x2="213.8" y2="100.3"><stop offset="0.000" stop-color="#00008c"/><stop offset="0.030" stop-color="#0000ab"/><stop offset="0.062" stop-color="#0000ce"/><stop offset="0.110" stop-color="#0000fc"/><stop offset="0.158" stop-color="#0029ff"/><stop offset="0.231" stop-color="#0071ff"/><stop offset="0.306" stop-color="#00bbff"/><stop offset="0.401" stop-color="#18ffe7"/><stop offset="0.496" stop-color="#74ff8b"/><stop offset="0.608" stop-color="#e6ff19"/><stop offset="0.720" stop-color="#ffa900"/><stop offset="0.792" stop-color="#ff6500"/><stop offset="0.862" stop-color="#ff2300"/><stop offset="0.932" stop-color="#e40000"/><stop offset="1.000" stop-color="#a90000"/></linearGradient><linearGradient id="s47" gradientUnits="userSpaceOnUse" x1="114.7" y1="224.3" x2="214.8" y2="99.8"><stop offset="0.000" stop-color="#00008c"/><stop offset="0.030" stop-color="#0000ab"/><stop offset="0.062" stop-color="#0000cf"/><stop offset="0.110" stop-color="#0000fd"/><stop offset="0.158" stop-color="#002aff"/><stop offset="0.231" stop-color="#0074ff"/><stop offset="0.306" stop-color="#00beff"/><stop offset="0.401" stop-color="#1cffe3"/><stop offset="0.496" stop-color="#7aff85"/><stop offset="0.608" stop-color="#edff12"/><stop offset="0.720" stop-color="#ffa100"/><stop offset="0.792" stop-color="#ff5c00"/><stop offset="0.862" stop-color="#ff1a00"/><stop offset="0.932" stop-color="#da0000"/><stop offset="1.000" stop-color="#9e0000"/></linearGradient><linearGradient id="s46" gradientUnits="userSpaceOnUse" x1="115.8" y1="224.7" x2="215.9" y2="99.5"><stop offset="0.000" stop-color="#00008d"/><stop offset="0.030" stop-color="#0000ac"/><stop offset="0.062" stop-color="#0000d0"/><stop offset="0.110" stop-color="#0000fe"/><stop offset="0.158" stop-color="#002cff"/><stop offset="0.231" stop-color="#0076ff"/><stop offset="0.306" stop-color="#00c1ff"/><stop offset="0.401" stop-color="#20ffdf"/><stop offset="0.496" stop-color="#7fff80"/><stop offset="0.608" stop-color="#f3ff0c"/><stop offset="0.720" stop-color="#ff9a00"/><stop offset="0.792" stop-color="#ff5400"/><stop offset="0.863" stop-color="#ff1200"/><stop offset="0.932" stop-color="#d10000"/><stop offset="1.000" stop-color="#950000"/></linearGradient><linearGradient id="s45" gradientUnits="userSpaceOnUse" x1="116.8" y1="225.1" x2="216.9" y2="99.3"><stop offset="0.000" stop-color="#00008d"/><stop offset="0.030" stop-color="#0000ac"/><stop offset="0.062" stop-color="#0000d1"/><stop offset="0.110" stop-color="#0000ff"/><stop offset="0.158" stop-color="#002dff"/><stop offset="0.231" stop-color="#0078ff"/><stop offset="0.306" stop-color="#00c4ff"/><stop offset="0.401" stop-color="#23ffdc"/><stop offset="0.496" stop-color="#82ff7d"/><stop offset="0.609" stop-color="#f8ff07"/><stop offset="0.720" stop-color="#ff9400"/><stop offset="0.792" stop-color="#ff4e00"/><stop offset="0.863" stop-color="#ff0b00"/><stop offset="0.932" stop-color="#ca0000"/><stop offset="1.000" stop-color="#8e0000"/></linearGradient><linearGradient id="s44" gradientUnits="userSpaceOnUse" x1="117.9" y1="225.5" x2="218" y2="99.2"><stop offset="0.000" stop-color="#00008d"/><stop offset="0.030" stop-color="#0000ac"/><stop offset="0.062" stop-color="#0000d1"/><stop offset="0.110" stop-color="#0001ff"/><stop offset="0.158" stop-color="#002eff"/><stop offset="0.231" stop-color="#0079ff"/><stop offset="0.306" stop-color="#00c5ff"/><stop offset="0.401" stop-color="#26ffd9"/><stop offset="0.496" stop-color="#85ff7a"/><stop offset="0.609" stop-color="#fbff04"/><stop offset="0.720" stop-color="#ff9000"/><stop offset="0.792" stop-color="#ff4a00"/><stop offset="0.863" stop-color="#ff0600"/><stop offset="0.932" stop-color="#c50000"/><stop offset="1.000" stop-color="#880000"/></linearGradient><linearGradient id="s43" gradientUnits="userSpaceOnUse" x1="118.9" y1="225.9" x2="219.1" y2="99.4"><stop offset="0.000" stop-color="#00008d"/><stop offset="0.030" stop-color="#0000ad"/><stop offset="0.062" stop-color="#0000d1"/><stop offset="0.110" stop-color="#0001ff"/><stop offset="0.158" stop-color="#002fff"/><stop offset="0.232" stop-color="#007aff"/><stop offset="0.306" stop-color="#00c6ff"/><stop offset="0.401" stop-color="#27ffd8"/><stop offset="0.496" stop-color="#87ff78"/><stop offset="0.609" stop-color="#fdff02"/><stop offset="0.720" stop-color="#ff8e00"/><stop offset="0.792" stop-color="#ff4800"/><stop offset="0.863" stop-color="#ff0400"/><stop offset="0.932" stop-color="#c30000"/><stop offset="1.000" stop-color="#860000"/></linearGradient><linearGradient id="s42" gradientUnits="userSpaceOnUse" x1="120" y1="226.4" x2="220.1" y2="99.9"><stop offset="0.000" stop-color="#00008d"/><stop offset="0.030" stop-color="#0000ad"/><stop offset="0.062" stop-color="#0000d1"/><stop offset="0.110" stop-color="#0001ff"/><stop offset="0.158" stop-color="#002fff"/><stop offset="0.232" stop-color="#007aff"/><stop offset="0.306" stop-color="#00c6ff"/><stop offset="0.401" stop-color="#26ffd9"/><stop offset="0.496" stop-color="#86ff79"/><stop offset="0.609" stop-color="#fcff03"/><stop offset="0.720" stop-color="#ff8f00"/><stop offset="0.792" stop-color="#ff4800"/><stop offset="0.863" stop-color="#ff0500"/><stop offset="0.932" stop-color="#c30000"/><stop offset="1.000" stop-color="#860000"/></linearGradient><linearGradient id="s41" gradientUnits="userSpaceOnUse" x1="121.1" y1="226.8" x2="221.2" y2="100.7"><stop offset="0.000" stop-color="#00008d"/><stop offset="0.030" stop-color="#0000ac"/><stop offset="0.062" stop-color="#0000d1"/><stop offset="0.110" stop-color="#0001ff"/><stop offset="0.158" stop-color="#002eff"/><stop offset="0.232" stop-color="#0078ff"/><stop offset="0.306" stop-color="#00c5ff"/><stop offset="0.401" stop-color="#25ffda"/><stop offset="0.496" stop-color="#84ff7b"/><stop offset="0.609" stop-color="#faff05"/><stop offset="0.720" stop-color="#ff9200"/><stop offset="0.792" stop-color="#ff4c00"/><stop offset="0.863" stop-color="#ff0900"/><stop offset="0.932" stop-color="#c70000"/><stop offset="1.000" stop-color="#8b0000"/></linearGradient><linearGradient id="s40" gradientUnits="userSpaceOnUse" x1="122.1" y1="227.2" x2="222.2" y2="101.9"><stop offset="0.000" stop-color="#00008d"/><stop offset="0.030" stop-color="#0000ac"/><stop offset="0.062" stop-color="#0000d0"/><stop offset="0.110" stop-color="#0000ff"/><stop offset="0.158" stop-color="#002cff"/><stop offset="0.232" stop-color="#0076ff"/><stop offset="0.306" stop-color="#00c2ff"/><stop offset="0.401" stop-color="#21ffde"/><stop offset="0.496" stop-color="#80ff7f"/><stop offset="0.609" stop-color="#f4ff0b"/><stop offset="0.720" stop-color="#ff9800"/><stop offset="0.792" stop-color="#ff5300"/><stop offset="0.863" stop-color="#ff1000"/><stop offset="0.932" stop-color="#cf0000"/><stop offset="1.000" stop-color="#930000"/></linearGradient><linearGradient id="s39" gradientUnits="userSpaceOnUse" x1="122.9" y1="227.6" x2="223" y2="102.9"><stop offset="0.000" stop-color="#00008c"/><stop offset="0.030" stop-color="#0000ac"/><stop offset="0.062" stop-color="#0000d0"/><stop offset="0.110" stop-color="#0000fe"/><stop offset="0.158" stop-color="#002bff"/><stop offset="0.231" stop-color="#0074ff"/><stop offset="0.306" stop-color="#00bfff"/><stop offset="0.401" stop-color="#1effe1"/><stop offset="0.496" stop-color="#7bff84"/><stop offset="0.609" stop-color="#efff10"/><stop offset="0.720" stop-color="#ff9f00"/><stop offset="0.792" stop-color="#ff5a00"/><stop offset="0.863" stop-color="#ff1800"/><stop offset="0.932" stop-color="#d80000"/><stop offset="1.000" stop-color="#9c0000"/></linearGradient><linearGradient id="s38" gradientUnits="userSpaceOnUse" x1="123.5" y1="227.8" x2="223.6" y2="103.8"><stop offset="0.000" stop-color="#00008c"/><stop offset="0.030" stop-color="#0000ab"/><stop offset="0.062" stop-color="#0000cf"/><stop offset="0.110" stop-color="#0000fd"/><stop offset="0.158" stop-color="#002aff"/><stop offset="0.231" stop-color="#0072ff"/><stop offset="0.306" stop-color="#00bdff"/><stop offset="0.401" stop-color="#1affe5"/><stop offset="0.496" stop-color="#78ff87"/><stop offset="0.609" stop-color="#eaff15"/><stop offset="0.720" stop-color="#ffa400"/><stop offset="0.792" stop-color="#ff6000"/><stop offset="0.863" stop-color="#ff1e00"/><stop offset="0.932" stop-color="#df0000"/><stop offset="1.000" stop-color="#a40000"/></linearGradient><linearGradient id="s37" gradientUnits="userSpaceOnUse" x1="124" y1="228" x2="224.1" y2="104.7"><stop offset="0.000" stop-color="#00008c"/><stop offset="0.030" stop-color="#0000ab"/><stop offset="0.062" stop-color="#0000ce"/><stop offset="0.110" stop-color="#0000fc"/><stop offset="0.158" stop-color="#0028ff"/><stop offset="0.231" stop-color="#0070ff"/><stop offset="0.306" stop-color="#00baff"/><stop offset="0.401" stop-color="#17ffe8"/><stop offset="0.496" stop-color="#73ff8c"/><stop offset="0.608" stop-color="#e5ff1a"/><stop offset="0.720" stop-color="#ffaa00"/><stop offset="0.792" stop-color="#ff6700"/><stop offset="0.862" stop-color="#ff2600"/><stop offset="0.932" stop-color="#e70000"/><stop offset="1.000" stop-color="#ac0000"/></linearGradient><linearGradient id="s36" gradientUnits="userSpaceOnUse" x1="124.5" y1="228.2" x2="224.6" y2="105.8"><stop offset="0.000" stop-color="#00008c"/><stop offset="0.030" stop-color="#0000ab"/><stop offset="0.062" stop-color="#0000ce"/><stop offset="0.110" stop-color="#0000fb"/><stop offset="0.158" stop-color="#0027ff"/><stop offset="0.231" stop-color="#006eff"/><stop offset="0.306" stop-color="#00b7ff"/><stop offset="0.401" stop-color="#13ffec"/><stop offset="0.496" stop-color="#6eff91"/><stop offset="0.608" stop-color="#dfff20"/><stop offset="0.720" stop-color="#ffb100"/><stop offset="0.792" stop-color="#ff6f00"/><stop offset="0.862" stop-color="#ff2e00"/><stop offset="0.932" stop-color="#f00000"/><stop offset="1.000" stop-color="#b60000"/></linearGradient><linearGradient id="s35" gradientUnits="userSpaceOnUse" x1="125" y1="228.5" x2="225.2" y2="106.9"><stop offset="0.000" stop-color="#00008c"/><stop offset="0.030" stop-color="#0000aa"/><stop offset="0.062" stop-color="#0000cd"/><stop offset="0.110" stop-color="#0000f9"/><stop offset="0.158" stop-color="#0025ff"/><stop offset="0.231" stop-color="#006bff"/><stop offset="0.306" stop-color="#00b3ff"/><stop offset="0.401" stop-color="#0efff1"/><stop offset="0.496" stop-color="#69ff96"/><stop offset="0.608" stop-color="#d8ff27"/><stop offset="0.720" stop-color="#ffba00"/><stop offset="0.792" stop-color="#ff7700"/><stop offset="0.862" stop-color="#ff3800"/><stop offset="0.932" stop-color="#fa0000"/><stop offset="1.000" stop-color="#c10000"/></linearGradient><linearGradient id="s34" gradientUnits="userSpaceOnUse" x1="125.6" y1="228.7" x2="225.7" y2="108.2"><stop offset="0.000" stop-color="#00008c"/><stop offset="0.030" stop-color="#0000aa"/><stop offset="0.062" stop-color="#0000cc"/><stop offset="0.110" stop-color="#0000f8"/><stop offset="0.158" stop-color="#0023ff"/><stop offset="0.231" stop-color="#0068ff"/><stop offset="0.306" stop-color="#00b0ff"/><stop offset="0.401" stop-color="#09fff6"/><stop offset="0.496" stop-color="#63ff9c"/><stop offset="0.608" stop-color="#d0ff2f"/><stop offset="0.720" stop-color="#ffc300"/><stop offset="0.792" stop-color="#ff8100"/><stop offset="0.862" stop-color="#ff4300"/><stop offset="0.932" stop-color="#ff0700"/><stop offset="1.000" stop-color="#cd0000"/></linearGradient><linearGradient id="s33" gradientUnits="userSpaceOnUse" x1="126.1" y1="228.9" x2="226.2" y2="109.6"><stop offset="0.000" stop-color="#00008c"/><stop offset="0.030" stop-color="#0000a9"/><stop offset="0.062" stop-color="#0000cb"/><stop offset="0.110" stop-color="#0000f6"/><stop offset="0.158" stop-color="#0020ff"/><stop offset="0.231" stop-color="#0065ff"/><stop offset="0.306" stop-color="#00abff"/><stop offset="0.401" stop-color="#04fffb"/><stop offset="0.496" stop-color="#5cffa3"/><stop offset="0.608" stop-color="#c8ff37"/><stop offset="0.720" stop-color="#ffcd00"/><stop offset="0.791" stop-color="#ff8d00"/><stop offset="0.862" stop-color="#ff4f00"/><stop offset="0.932" stop-color="#ff1400"/><stop offset="1.000" stop-color="#dc0000"/></linearGradient><linearGradient id="s32" gradientUnits="userSpaceOnUse" x1="126.6" y1="229.1" x2="226.8" y2="111.1"><stop offset="0.000" stop-color="#00008c"/><stop offset="0.030" stop-color="#0000a8"/><stop offset="0.062" stop-color="#0000ca"/><stop offset="0.110" stop-color="#0000f4"/><stop offset="0.158" stop-color="#001eff"/><stop offset="0.231" stop-color="#0061ff"/><stop offset="0.306" stop-color="#00a6ff"/><stop offset="0.400" stop-color="#00fcff"/><stop offset="0.496" stop-color="#54ffab"/><stop offset="0.608" stop-color="#beff41"/><stop offset="0.719" stop-color="#ffd900"/><stop offset="0.791" stop-color="#ff9a00"/><stop offset="0.862" stop-color="#ff5d00"/><stop offset="0.932" stop-color="#ff2300"/><stop offset="1.000" stop-color="#eb0000"/></linearGradient><linearGradient id="s31" gradientUnits="userSpaceOnUse" x1="127.2" y1="229.4" x2="227.3" y2="112.8"><stop offset="0.000" stop-color="#00008c"/><stop offset="0.030" stop-color="#0000a8"/><stop offset="0.062" stop-color="#0000c8"/><stop offset="0.110" stop-color="#0000f2"/><stop offset="0.158" stop-color="#001bff"/><stop offset="0.231" stop-color="#005dff"/><stop offset="0.305" stop-color="#00a0ff"/><stop offset="0.400" stop-color="#00f5ff"/><stop offset="0.496" stop-color="#4bffb4"/><stop offset="0.608" stop-color="#b3ff4c"/><stop offset="0.719" stop-color="#ffe600"/><stop offset="0.791" stop-color="#ffa800"/><stop offset="0.862" stop-color="#ff6d00"/><stop offset="0.932" stop-color="#ff3400"/><stop offset="1.000" stop-color="#fd0000"/></linearGradient><linearGradient id="s30" gradientUnits="userSpaceOnUse" x1="127.7" y1="229.6" x2="227.8" y2="114.7"><stop offset="0.000" stop-color="#00008b"/><stop offset="0.030" stop-color="#0000a7"/><stop offset="0.062" stop-color="#0000c7"/><stop offset="0.110" stop-color="#0000ef"/><stop offset="0.158" stop-color="#0017ff"/><stop offset="0.231" stop-color="#0058ff"/><stop offset="0.305" stop-color="#009aff"/><stop offset="0.400" stop-color="#00ecff"/><stop offset="0.496" stop-color="#40ffbf"/><stop offset="0.608" stop-color="#a6ff59"/><stop offset="0.719" stop-color="#fff500"/><stop offset="0.791" stop-color="#ffb800"/><stop offset="0.862" stop-color="#ff7e00"/><stop offset="0.932" stop-color="#ff4700"/><stop offset="1.000" stop-color="#ff1200"/></linearGradient><linearGradient id="s29" gradientUnits="userSpaceOnUse" x1="128.2" y1="229.8" x2="228.4" y2="116.8"><stop offset="0.000" stop-color="#00008b"/><stop offset="0.030" stop-color="#0000a6"/><stop offset="0.061" stop-color="#0000c5"/><stop offset="0.110" stop-color="#0000ed"/><stop offset="0.158" stop-color="#0014ff"/><stop offset="0.231" stop-color="#0053ff"/><stop offset="0.305" stop-color="#0093ff"/><stop offset="0.400" stop-color="#00e3ff"/><stop offset="0.496" stop-color="#35ffca"/><stop offset="0.608" stop-color="#98ff67"/><stop offset="0.719" stop-color="#f9ff06"/><stop offset="0.791" stop-color="#ffca00"/><stop offset="0.862" stop-color="#ff9200"/><stop offset="0.931" stop-color="#ff5c00"/><stop offset="1.000" stop-color="#ff2900"/></linearGradient><linearGradient id="s28" gradientUnits="userSpaceOnUse" x1="128.8" y1="230.1" x2="228.9" y2="119.1"><stop offset="0.000" stop-color="#00008b"/><stop offset="0.030" stop-color="#0000a5"/><stop offset="0.061" stop-color="#0000c3"/><stop offset="0.110" stop-color="#0000ea"/><stop offset="0.158" stop-color="#0010ff"/><stop offset="0.231" stop-color="#004dff"/><stop offset="0.305" stop-color="#008bff"/><stop offset="0.400" stop-color="#00d9ff"/><stop offset="0.495" stop-color="#29ffd6"/><stop offset="0.608" stop-color="#89ff76"/><stop offset="0.719" stop-color="#e7ff18"/><stop offset="0.791" stop-color="#ffde00"/><stop offset="0.862" stop-color="#ffa700"/><stop offset="0.931" stop-color="#ff7300"/><stop offset="1.000" stop-color="#ff4100"/></linearGradient><linearGradient id="s27" gradientUnits="userSpaceOnUse" x1="129.3" y1="230.3" x2="229.4" y2="121.6"><stop offset="0.000" stop-color="#00008b"/><stop offset="0.030" stop-color="#0000a4"/><stop offset="0.061" stop-color="#0000c1"/><stop offset="0.110" stop-color="#0000e6"/><stop offset="0.158" stop-color="#000bff"/><stop offset="0.231" stop-color="#0046ff"/><stop offset="0.305" stop-color="#0083ff"/><stop offset="0.400" stop-color="#00ceff"/><stop offset="0.495" stop-color="#1bffe4"/><stop offset="0.607" stop-color="#79ff86"/><stop offset="0.719" stop-color="#d3ff2c"/><stop offset="0.790" stop-color="#fff300"/><stop offset="0.861" stop-color="#ffbe00"/><stop offset="0.931" stop-color="#ff8c00"/><stop offset="1.000" stop-color="#ff5c00"/></linearGradient><linearGradient id="s26" gradientUnits="userSpaceOnUse" x1="129.8" y1="230.6" x2="229.9" y2="124.2"><stop offset="0.000" stop-color="#00008a"/><stop offset="0.030" stop-color="#0000a3"/><stop offset="0.061" stop-color="#0000bf"/><stop offset="0.110" stop-color="#0000e3"/><stop offset="0.158" stop-color="#0006ff"/><stop offset="0.231" stop-color="#003fff"/><stop offset="0.305" stop-color="#007aff"/><stop offset="0.400" stop-color="#00c3ff"/><stop offset="0.495" stop-color="#0dfff2"/><stop offset="0.607" stop-color="#67ff98"/><stop offset="0.718" stop-color="#beff41"/><stop offset="0.790" stop-color="#f4ff0b"/><stop offset="0.861" stop-color="#ffd700"/><stop offset="0.931" stop-color="#ffa600"/><stop offset="1.000" stop-color="#ff7800"/></linearGradient><linearGradient id="s25" gradientUnits="userSpaceOnUse" x1="130.4" y1="230.8" x2="230.5" y2="126.9"><stop offset="0.000" stop-color="#00008a"/><stop offset="0.030" stop-color="#0000a1"/><stop offset="0.061" stop-color="#0000bc"/><stop offset="0.110" stop-color="#0000df"/><stop offset="0.158" stop-color="#0001ff"/><stop offset="0.231" stop-color="#0038ff"/><stop offset="0.305" stop-color="#0070ff"/><stop offset="0.400" stop-color="#00b6ff"/><stop offset="0.495" stop-color="#00fdff"/><stop offset="0.607" stop-color="#54ffab"/><stop offset="0.718" stop-color="#a8ff57"/><stop offset="0.790" stop-color="#dcff23"/><stop offset="0.861" stop-color="#fff100"/><stop offset="0.931" stop-color="#ffc300"/><stop offset="1.000" stop-color="#ff9600"/></linearGradient><linearGradient id="s24" gradientUnits="userSpaceOnUse" x1="130.9" y1="231" x2="231" y2="129.7"><stop offset="0.000" stop-color="#00008a"/><stop offset="0.030" stop-color="#0000a0"/><stop offset="0.061" stop-color="#0000ba"/><stop offset="0.110" stop-color="#0000db"/><stop offset="0.158" stop-color="#0000fb"/><stop offset="0.231" stop-color="#0031ff"/><stop offset="0.305" stop-color="#0066ff"/><stop offset="0.400" stop-color="#00aaff"/><stop offset="0.495" stop-color="#00edff"/><stop offset="0.607" stop-color="#41ffbe"/><stop offset="0.718" stop-color="#92ff6d"/><stop offset="0.790" stop-color="#c3ff3c"/><stop offset="0.861" stop-color="#f2ff0d"/><stop offset="0.931" stop-color="#ffe000"/><stop offset="1.000" stop-color="#ffb600"/></linearGradient><linearGradient id="s23" gradientUnits="userSpaceOnUse" x1="131.4" y1="231.3" x2="231.5" y2="132.6"><stop offset="0.000" stop-color="#000089"/><stop offset="0.030" stop-color="#00009f"/><stop offset="0.061" stop-color="#0000b8"/><stop offset="0.109" stop-color="#0000d7"/><stop offset="0.158" stop-color="#0000f6"/><stop offset="0.231" stop-color="#0029ff"/><stop offset="0.305" stop-color="#005cff"/><stop offset="0.400" stop-color="#009dff"/><stop offset="0.495" stop-color="#00ddff"/><stop offset="0.607" stop-color="#2dffd2"/><stop offset="0.717" stop-color="#7aff85"/><stop offset="0.789" stop-color="#a9ff56"/><stop offset="0.861" stop-color="#d6ff29"/><stop offset="0.931" stop-color="#fffe00"/><stop offset="1.000" stop-color="#ffd600"/></linearGradient><linearGradient id="s22" gradientUnits="userSpaceOnUse" x1="131.9" y1="231.5" x2="232.1" y2="135.6"><stop offset="0.000" stop-color="#000089"/><stop offset="0.030" stop-color="#00009e"/><stop offset="0.061" stop-color="#0000b5"/><stop offset="0.109" stop-color="#0000d3"/><stop offset="0.157" stop-color="#0000f0"/><stop offset="0.231" stop-color="#0021ff"/><stop offset="0.305" stop-color="#0052ff"/><stop offset="0.400" stop-color="#008fff"/><stop offset="0.495" stop-color="#00cdff"/><stop offset="0.606" stop-color="#19ffe6"/><stop offset="0.717" stop-color="#62ff9d"/><stop offset="0.789" stop-color="#8fff70"/><stop offset="0.860" stop-color="#b9ff46"/><stop offset="0.931" stop-color="#e2ff1d"/><stop offset="1.000" stop-color="#fff600"/></linearGradient><linearGradient id="s21" gradientUnits="userSpaceOnUse" x1="132.5" y1="231.8" x2="232.6" y2="138.6"><stop offset="0.000" stop-color="#000089"/><stop offset="0.030" stop-color="#00009c"/><stop offset="0.060" stop-color="#0000b3"/><stop offset="0.109" stop-color="#0000cf"/><stop offset="0.157" stop-color="#0000eb"/><stop offset="0.231" stop-color="#0019ff"/><stop offset="0.304" stop-color="#0047ff"/><stop offset="0.400" stop-color="#0082ff"/><stop offset="0.495" stop-color="#00bdff"/><stop offset="0.606" stop-color="#05fffa"/><stop offset="0.717" stop-color="#4affb5"/><stop offset="0.789" stop-color="#74ff8b"/><stop offset="0.860" stop-color="#9cff63"/><stop offset="0.931" stop-color="#c3ff3c"/><stop offset="1.000" stop-color="#e7ff18"/></linearGradient><linearGradient id="s20" gradientUnits="userSpaceOnUse" x1="133" y1="232" x2="233.1" y2="141.5"><stop offset="0.000" stop-color="#000088"/><stop offset="0.030" stop-color="#00009b"/><stop offset="0.060" stop-color="#0000b0"/><stop offset="0.109" stop-color="#0000cb"/><stop offset="0.157" stop-color="#0000e5"/><stop offset="0.231" stop-color="#0011ff"/><stop offset="0.304" stop-color="#003dff"/><stop offset="0.400" stop-color="#0074ff"/><stop offset="0.495" stop-color="#00acff"/><stop offset="0.606" stop-color="#00efff"/><stop offset="0.716" stop-color="#32ffcd"/><stop offset="0.789" stop-color="#5affa5"/><stop offset="0.860" stop-color="#80ff7f"/><stop offset="0.930" stop-color="#a4ff5b"/><stop offset="1.000" stop-color="#c6ff39"/></linearGradient><linearGradient id="s19" gradientUnits="userSpaceOnUse" x1="133.5" y1="232.2" x2="233.7" y2="144.5"><stop offset="0.000" stop-color="#000088"/><stop offset="0.030" stop-color="#00009a"/><stop offset="0.060" stop-color="#0000ae"/><stop offset="0.109" stop-color="#0000c7"/><stop offset="0.157" stop-color="#0000e0"/><stop offset="0.231" stop-color="#0009ff"/><stop offset="0.304" stop-color="#0033ff"/><stop offset="0.399" stop-color="#0067ff"/><stop offset="0.495" stop-color="#009cff"/><stop offset="0.606" stop-color="#00dbff"/><stop offset="0.716" stop-color="#1affe5"/><stop offset="0.788" stop-color="#40ffbf"/><stop offset="0.860" stop-color="#63ff9c"/><stop offset="0.930" stop-color="#86ff79"/><stop offset="1.000" stop-color="#a6ff59"/></linearGradient><linearGradient id="s18" gradientUnits="userSpaceOnUse" x1="134.1" y1="232.5" x2="234.2" y2="147.4"><stop offset="0.000" stop-color="#000088"/><stop offset="0.030" stop-color="#000098"/><stop offset="0.060" stop-color="#0000ab"/><stop offset="0.109" stop-color="#0000c4"/><stop offset="0.157" stop-color="#0000db"/><stop offset="0.231" stop-color="#0002ff"/><stop offset="0.304" stop-color="#0029ff"/><stop offset="0.399" stop-color="#005aff"/><stop offset="0.495" stop-color="#008cff"/><stop offset="0.606" stop-color="#00c8ff"/><stop offset="0.716" stop-color="#03fffc"/><stop offset="0.788" stop-color="#26ffd9"/><stop offset="0.859" stop-color="#48ffb7"/><stop offset="0.930" stop-color="#68ff97"/><stop offset="1.000" stop-color="#86ff79"/></linearGradient><linearGradient id="s17" gradientUnits="userSpaceOnUse" x1="134.6" y1="232.7" x2="234.7" y2="150.2"><stop offset="0.000" stop-color="#000088"/><stop offset="0.029" stop-color="#000097"/><stop offset="0.060" stop-color="#0000a9"/><stop offset="0.109" stop-color="#0000c0"/><stop offset="0.157" stop-color="#0000d6"/><stop offset="0.231" stop-color="#0000fa"/><stop offset="0.304" stop-color="#001fff"/><stop offset="0.399" stop-color="#004eff"/><stop offset="0.495" stop-color="#007dff"/><stop offset="0.605" stop-color="#00b5ff"/><stop offset="0.716" stop-color="#00ecff"/><stop offset="0.788" stop-color="#0efff1"/><stop offset="0.859" stop-color="#2dffd2"/><stop offset="0.930" stop-color="#4bffb4"/><stop offset="1.000" stop-color="#67ff98"/></linearGradient><linearGradient id="s16" gradientUnits="userSpaceOnUse" x1="135.1" y1="233" x2="235.3" y2="152.8"><stop offset="0.000" stop-color="#000087"/><stop offset="0.029" stop-color="#000096"/><stop offset="0.060" stop-color="#0000a7"/><stop offset="0.109" stop-color="#0000bc"/><stop offset="0.157" stop-color="#0000d1"/><stop offset="0.230" stop-color="#0000f3"/><stop offset="0.304" stop-color="#0016ff"/><stop offset="0.399" stop-color="#0042ff"/><stop offset="0.495" stop-color="#006fff"/><stop offset="0.605" stop-color="#00a3ff"/><stop offset="0.715" stop-color="#00d7ff"/><stop offset="0.788" stop-color="#00f6ff"/><stop offset="0.859" stop-color="#14ffeb"/><stop offset="0.930" stop-color="#30ffcf"/><stop offset="1.000" stop-color="#4affb5"/></linearGradient><linearGradient id="s15" gradientUnits="userSpaceOnUse" x1="135.7" y1="233.2" x2="235.8" y2="155.3"><stop offset="0.000" stop-color="#000087"/><stop offset="0.029" stop-color="#000095"/><stop offset="0.060" stop-color="#0000a5"/><stop offset="0.109" stop-color="#0000b9"/><stop offset="0.157" stop-color="#0000cd"/><stop offset="0.230" stop-color="#0000ec"/><stop offset="0.304" stop-color="#000dff"/><stop offset="0.399" stop-color="#0037ff"/><stop offset="0.495" stop-color="#0061ff"/><stop offset="0.605" stop-color="#0093ff"/><stop offset="0.715" stop-color="#00c3ff"/><stop offset="0.787" stop-color="#00e0ff"/><stop offset="0.859" stop-color="#00fcff"/><stop offset="0.930" stop-color="#17ffe8"/><stop offset="1.000" stop-color="#2fffd0"/></linearGradient><linearGradient id="s14" gradientUnits="userSpaceOnUse" x1="136.2" y1="233.4" x2="236.3" y2="157.6"><stop offset="0.000" stop-color="#000087"/><stop offset="0.029" stop-color="#000094"/><stop offset="0.060" stop-color="#0000a3"/><stop offset="0.109" stop-color="#0000b6"/><stop offset="0.157" stop-color="#0000c9"/><stop offset="0.230" stop-color="#0000e6"/><stop offset="0.304" stop-color="#0006ff"/><stop offset="0.399" stop-color="#002dff"/><stop offset="0.495" stop-color="#0055ff"/><stop offset="0.605" stop-color="#0084ff"/><stop offset="0.715" stop-color="#00b1ff"/><stop offset="0.787" stop-color="#00ccff"/><stop offset="0.859" stop-color="#00e6ff"/><stop offset="0.930" stop-color="#00ffff"/><stop offset="1.000" stop-color="#16ffe9"/></linearGradient><linearGradient id="s13" gradientUnits="userSpaceOnUse" x1="136.7" y1="233.7" x2="236.8" y2="159.7"><stop offset="0.000" stop-color="#000087"/><stop offset="0.029" stop-color="#000093"/><stop offset="0.060" stop-color="#0000a1"/><stop offset="0.109" stop-color="#0000b4"/><stop offset="0.157" stop-color="#0000c5"/><stop offset="0.230" stop-color="#0000e1"/><stop offset="0.304" stop-color="#0000fe"/><stop offset="0.399" stop-color="#0024ff"/><stop offset="0.495" stop-color="#004aff"/><stop offset="0.605" stop-color="#0076ff"/><stop offset="0.715" stop-color="#00a1ff"/><stop offset="0.787" stop-color="#00bbff"/><stop offset="0.859" stop-color="#00d3ff"/><stop offset="0.930" stop-color="#00eaff"/><stop offset="1.000" stop-color="#00ffff"/></linearGradient><linearGradient id="s12" gradientUnits="userSpaceOnUse" x1="137.3" y1="233.9" x2="237.4" y2="161.6"><stop offset="0.000" stop-color="#000086"/><stop offset="0.029" stop-color="#000092"/><stop offset="0.059" stop-color="#0000a0"/><stop offset="0.109" stop-color="#0000b1"/><stop offset="0.157" stop-color="#0000c2"/><stop offset="0.230" stop-color="#0000dc"/><stop offset="0.304" stop-color="#0000f7"/><stop offset="0.399" stop-color="#001cff"/><stop offset="0.495" stop-color="#0041ff"/><stop offset="0.605" stop-color="#006aff"/><stop offset="0.715" stop-color="#0092ff"/><stop offset="0.787" stop-color="#00abff"/><stop offset="0.859" stop-color="#00c1ff"/><stop offset="0.930" stop-color="#00d7ff"/><stop offset="1.000" stop-color="#00ebff"/></linearGradient><linearGradient id="s11" gradientUnits="userSpaceOnUse" x1="137.8" y1="234.1" x2="237.9" y2="163.4"><stop offset="0.000" stop-color="#000086"/><stop offset="0.029" stop-color="#000092"/><stop offset="0.059" stop-color="#00009f"/><stop offset="0.109" stop-color="#0000af"/><stop offset="0.157" stop-color="#0000bf"/><stop offset="0.230" stop-color="#0000d8"/><stop offset="0.304" stop-color="#0000f2"/><stop offset="0.399" stop-color="#0015ff"/><stop offset="0.495" stop-color="#0038ff"/><stop offset="0.605" stop-color="#005fff"/><stop offset="0.715" stop-color="#0085ff"/><stop offset="0.787" stop-color="#009cff"/><stop offset="0.859" stop-color="#00b2ff"/><stop offset="0.930" stop-color="#00c6ff"/><stop offset="1.000" stop-color="#00d8ff"/></linearGradient><linearGradient id="s10" gradientUnits="userSpaceOnUse" x1="138.3" y1="234.3" x2="238.4" y2="165"><stop offset="0.000" stop-color="#000086"/><stop offset="0.029" stop-color="#000091"/><stop offset="0.059" stop-color="#00009e"/><stop offset="0.109" stop-color="#0000ae"/><stop offset="0.157" stop-color="#0000bd"/><stop offset="0.230" stop-color="#0000d4"/><stop offset="0.304" stop-color="#0000ed"/><stop offset="0.399" stop-color="#000fff"/><stop offset="0.495" stop-color="#0030ff"/><stop offset="0.605" stop-color="#0056ff"/><stop offset="0.715" stop-color="#007aff"/><stop offset="0.787" stop-color="#008fff"/><stop offset="0.858" stop-color="#00a3ff"/><stop offset="0.930" stop-color="#00b6ff"/><stop offset="1.000" stop-color="#00c8ff"/></linearGradient><linearGradient id="s9" gradientUnits="userSpaceOnUse" x1="138.9" y1="234.5" x2="239" y2="166.5"><stop offset="0.000" stop-color="#000086"/><stop offset="0.029" stop-color="#000091"/><stop offset="0.059" stop-color="#00009d"/><stop offset="0.109" stop-color="#0000ac"/><stop offset="0.158" stop-color="#0000ba"/><stop offset="0.231" stop-color="#0000d1"/><stop offset="0.304" stop-color="#0000e8"/><stop offset="0.399" stop-color="#0009ff"/><stop offset="0.495" stop-color="#0029ff"/><stop offset="0.605" stop-color="#004dff"/><stop offset="0.715" stop-color="#006fff"/><stop offset="0.787" stop-color="#0083ff"/><stop offset="0.858" stop-color="#0097ff"/><stop offset="0.930" stop-color="#00a8ff"/><stop offset="1.000" stop-color="#00b9ff"/></linearGradient><linearGradient id="s8" gradientUnits="userSpaceOnUse" x1="139.4" y1="234.8" x2="239.5" y2="167.9"><stop offset="0.000" stop-color="#000086"/><stop offset="0.029" stop-color="#000090"/><stop offset="0.059" stop-color="#00009c"/><stop offset="0.109" stop-color="#0000ab"/><stop offset="0.158" stop-color="#0000b8"/><stop offset="0.231" stop-color="#0000ce"/><stop offset="0.304" stop-color="#0000e4"/><stop offset="0.400" stop-color="#0004ff"/><stop offset="0.495" stop-color="#0023ff"/><stop offset="0.605" stop-color="#0045ff"/><stop offset="0.715" stop-color="#0065ff"/><stop offset="0.787" stop-color="#0079ff"/><stop offset="0.859" stop-color="#008bff"/><stop offset="0.930" stop-color="#009bff"/><stop offset="1.000" stop-color="#00abff"/></linearGradient><linearGradient id="s7" gradientUnits="userSpaceOnUse" x1="139.9" y1="235" x2="240" y2="169.2"><stop offset="0.000" stop-color="#000086"/><stop offset="0.029" stop-color="#000090"/><stop offset="0.059" stop-color="#00009b"/><stop offset="0.109" stop-color="#0000a9"/><stop offset="0.158" stop-color="#0000b7"/><stop offset="0.231" stop-color="#0000cb"/><stop offset="0.304" stop-color="#0000e0"/><stop offset="0.400" stop-color="#0000fe"/><stop offset="0.496" stop-color="#001dff"/><stop offset="0.606" stop-color="#003eff"/><stop offset="0.715" stop-color="#005cff"/><stop offset="0.787" stop-color="#006fff"/><stop offset="0.859" stop-color="#0080ff"/><stop offset="0.930" stop-color="#008fff"/><stop offset="1.000" stop-color="#009eff"/></linearGradient><linearGradient id="s6" gradientUnits="userSpaceOnUse" x1="140.4" y1="235.2" x2="240.6" y2="170.4"><stop offset="0.000" stop-color="#000086"/><stop offset="0.029" stop-color="#000090"/><stop offset="0.059" stop-color="#00009a"/><stop offset="0.109" stop-color="#0000a8"/><stop offset="0.158" stop-color="#0000b5"/><stop offset="0.231" stop-color="#0000c9"/><stop offset="0.304" stop-color="#0000dd"/><stop offset="0.400" stop-color="#0000fa"/><stop offset="0.496" stop-color="#0018ff"/><stop offset="0.606" stop-color="#0037ff"/><stop offset="0.715" stop-color="#0054ff"/><stop offset="0.787" stop-color="#0066ff"/><stop offset="0.859" stop-color="#0076ff"/><stop offset="0.930" stop-color="#0084ff"/><stop offset="1.000" stop-color="#0091ff"/></linearGradient><linearGradient id="s5" gradientUnits="userSpaceOnUse" x1="141" y1="235.4" x2="241.1" y2="171.6"><stop offset="0.000" stop-color="#000086"/><stop offset="0.029" stop-color="#00008f"/><stop offset="0.059" stop-color="#00009a"/><stop offset="0.109" stop-color="#0000a7"/><stop offset="0.158" stop-color="#0000b3"/><stop offset="0.231" stop-color="#0000c6"/><stop offset="0.304" stop-color="#0000d9"/><stop offset="0.400" stop-color="#0000f6"/><stop offset="0.496" stop-color="#0013ff"/><stop offset="0.606" stop-color="#0031ff"/><stop offset="0.715" stop-color="#004dff"/><stop offset="0.787" stop-color="#005dff"/><stop offset="0.859" stop-color="#006cff"/><stop offset="0.930" stop-color="#0079ff"/><stop offset="1.000" stop-color="#0086ff"/></linearGradient><linearGradient id="s4" gradientUnits="userSpaceOnUse" x1="141.5" y1="235.6" x2="241.6" y2="172.8"><stop offset="0.000" stop-color="#000086"/><stop offset="0.030" stop-color="#00008f"/><stop offset="0.059" stop-color="#000099"/><stop offset="0.109" stop-color="#0000a6"/><stop offset="0.158" stop-color="#0000b2"/><stop offset="0.231" stop-color="#0000c4"/><stop offset="0.304" stop-color="#0000d6"/><stop offset="0.400" stop-color="#0000f2"/><stop offset="0.497" stop-color="#000fff"/><stop offset="0.606" stop-color="#002bff"/><stop offset="0.716" stop-color="#0045ff"/><stop offset="0.787" stop-color="#0054ff"/><stop offset="0.859" stop-color="#0062ff"/><stop offset="0.930" stop-color="#006fff"/><stop offset="1.000" stop-color="#007aff"/></linearGradient><linearGradient id="s3" gradientUnits="userSpaceOnUse" x1="142" y1="235.9" x2="242.2" y2="174"><stop offset="0.000" stop-color="#000086"/><stop offset="0.030" stop-color="#00008f"/><stop offset="0.059" stop-color="#000098"/><stop offset="0.109" stop-color="#0000a5"/><stop offset="0.158" stop-color="#0000b1"/><stop offset="0.231" stop-color="#0000c2"/><stop offset="0.304" stop-color="#0000d3"/><stop offset="0.401" stop-color="#0000ee"/><stop offset="0.497" stop-color="#000aff"/><stop offset="0.607" stop-color="#0025ff"/><stop offset="0.716" stop-color="#003eff"/><stop offset="0.788" stop-color="#004cff"/><stop offset="0.859" stop-color="#0059ff"/><stop offset="0.930" stop-color="#0065ff"/><stop offset="1.000" stop-color="#006fff"/></linearGradient><linearGradient id="s2" gradientUnits="userSpaceOnUse" x1="142.6" y1="236.1" x2="242.7" y2="175.2"><stop offset="0.000" stop-color="#000086"/><stop offset="0.030" stop-color="#00008f"/><stop offset="0.059" stop-color="#000098"/><stop offset="0.109" stop-color="#0000a4"/><stop offset="0.158" stop-color="#0000af"/><stop offset="0.231" stop-color="#0000bf"/><stop offset="0.304" stop-color="#0000d0"/><stop offset="0.401" stop-color="#0000ea"/><stop offset="0.498" stop-color="#0006ff"/><stop offset="0.607" stop-color="#001fff"/><stop offset="0.716" stop-color="#0036ff"/><stop offset="0.788" stop-color="#0044ff"/><stop offset="0.859" stop-color="#0050ff"/><stop offset="0.930" stop-color="#005aff"/><stop offset="1.000" stop-color="#0063ff"/></linearGradient><linearGradient id="s1" gradientUnits="userSpaceOnUse" x1="143.1" y1="236.3" x2="243.2" y2="176.4"><stop offset="0.000" stop-color="#000086"/><stop offset="0.030" stop-color="#00008e"/><stop offset="0.059" stop-color="#000097"/><stop offset="0.109" stop-color="#0000a3"/><stop offset="0.159" stop-color="#0000ae"/><stop offset="0.231" stop-color="#0000bd"/><stop offset="0.304" stop-color="#0000cd"/><stop offset="0.401" stop-color="#0000e6"/><stop offset="0.498" stop-color="#0001ff"/><stop offset="0.608" stop-color="#0019ff"/><stop offset="0.716" stop-color="#002fff"/><stop offset="0.788" stop-color="#003bff"/><stop offset="0.859" stop-color="#0046ff"/><stop offset="0.930" stop-color="#004fff"/><stop offset="1.000" stop-color="#0057ff"/></linearGradient><linearGradient id="s0" gradientUnits="userSpaceOnUse" x1="143.6" y1="236.5" x2="243.8" y2="177.7"><stop offset="0.000" stop-color="#000086"/><stop offset="0.030" stop-color="#00008e"/><stop offset="0.059" stop-color="#000097"/><stop offset="0.109" stop-color="#0000a2"/><stop offset="0.159" stop-color="#0000ad"/><stop offset="0.232" stop-color="#0000bb"/><stop offset="0.304" stop-color="#0000c9"/><stop offset="0.401" stop-color="#0000e2"/><stop offset="0.498" stop-color="#0000fb"/><stop offset="0.608" stop-color="#0013ff"/><stop offset="0.717" stop-color="#0027ff"/><stop offset="0.788" stop-color="#0032ff"/><stop offset="0.859" stop-color="#003cff"/><stop offset="0.930" stop-color="#0044ff"/><stop offset="1.000" stop-color="#004aff"/></linearGradient></defs>
<g stroke-width="1" stroke-linejoin="round">
<path d="M38.5 194.1L41.3 192.4L44.2 190.7L49.1 187.9L54.1 185.1L61.3 180.9L68.6 176.7L78.1 171.3L87.6 165.8L98.5 159.4L109.4 153.1L116.7 148.6L124 144.1L131.3 139.6L138.6 135.1L137 137.4L129.7 141.6L122.4 145.9L115.1 150.1L107.8 154.4L96.9 160.4L86 166.5L76.5 171.7L67 176.9L59.7 180.9L52.4 184.9L47.5 187.6L42.6 190.2L39.7 191.9L36.8 193.5z" fill="url(#s99)" stroke="url(#s99)"/>
<path d="M40.1 194.8L43 193L45.8 191.2L50.7 188.3L55.7 185.4L63 181.1L70.2 176.7L79.7 171L89.2 165.4L100.1 158.7L111 152.2L118.3 147.5L125.6 142.8L132.9 138.2L140.2 133.5L138.6 135.1L131.3 139.6L124 144.1L116.7 148.6L109.4 153.1L98.5 159.4L87.6 165.8L78.1 171.3L68.6 176.7L61.3 180.9L54.1 185.1L49.1 187.9L44.2 190.7L41.3 192.4L38.5 194.1z" fill="url(#s98)" stroke="url(#s98)"/>
<path d="M41.7 195.4L44.6 193.6L47.4 191.7L52.4 188.7L57.3 185.8L64.6 181.3L71.9 176.8L81.3 171L90.8 165.2L101.7 158.3L112.7 151.5L120 146.7L127.2 141.9L134.5 137.1L141.8 132.3L140.2 133.5L132.9 138.2L125.6 142.8L118.3 147.5L111 152.2L100.1 158.7L89.2 165.4L79.7 171L70.2 176.7L63 181.1L55.7 185.4L50.7 188.3L45.8 191.2L43 193L40.1 194.8z" fill="url(#s97)" stroke="url(#s97)"/>
<path d="M43.3 196L46.2 194.2L49.1 192.2L54 189.2L58.9 186.2L66.2 181.6L73.5 177L82.9 171L92.4 165.1L103.3 158.1L114.3 151.1L121.6 146.2L128.9 141.3L136.1 136.4L143.4 131.5L141.8 132.3L134.5 137.1L127.2 141.9L120 146.7L112.7 151.5L101.7 158.3L90.8 165.2L81.3 171L71.9 176.8L64.6 181.3L57.3 185.8L52.4 188.7L47.4 191.7L44.6 193.6L41.7 195.4z" fill="url(#s96)" stroke="url(#s96)"/>
<path d="M44.9 196.7L47.8 194.8L50.7 192.8L55.6 189.7L60.5 186.6L67.8 181.9L75.1 177.2L84.6 171.2L94 165.1L105 157.9L115.9 150.9L123.2 145.8L130.5 140.8L137.8 135.8L145 130.8L143.4 131.5L136.1 136.4L128.9 141.3L121.6 146.2L114.3 151.1L103.3 158.1L92.4 165.1L82.9 171L73.5 177L66.2 181.6L58.9 186.2L54 189.2L49.1 192.2L46.2 194.2L43.3 196z" fill="url(#s95)" stroke="url(#s95)"/>
<path d="M46.5 197.3L49.4 195.4L52.3 193.3L57.2 190.2L62.1 187.1L69.4 182.3L76.7 177.5L86.2 171.3L95.6 165.2L106.6 157.9L117.5 150.6L124.8 145.5L132.1 140.4L139.4 135.3L146.7 130.2L145 130.8L137.8 135.8L130.5 140.8L123.2 145.8L115.9 150.9L105 157.9L94 165.1L84.6 171.2L75.1 177.2L67.8 181.9L60.5 186.6L55.6 189.7L50.7 192.8L47.8 194.8L44.9 196.7z" fill="url(#s94)" stroke="url(#s94)"/>
<path d="M48.1 198L51 196L53.9 193.9L58.8 190.7L63.7 187.6L71 182.7L78.3 177.8L87.8 171.5L97.3 165.2L108.2 157.8L119.1 150.5L126.4 145.3L133.7 140.1L141 134.9L148.3 129.7L146.7 130.2L139.4 135.3L132.1 140.4L124.8 145.5L117.5 150.6L106.6 157.9L95.6 165.2L86.2 171.3L76.7 177.5L69.4 182.3L62.1 187.1L57.2 190.2L52.3 193.3L49.4 195.4L46.5 197.3z" fill="url(#s93)" stroke="url(#s93)"/>
<path d="M49.8 198.6L52.6 196.6L55.5 194.5L60.4 191.2L65.4 188L72.6 183.1L79.9 178.1L89.4 171.7L98.9 165.3L109.8 157.8L120.7 150.3L128 145.1L135.3 139.8L142.6 134.5L149.9 129.3L148.3 129.7L141 134.9L133.7 140.1L126.4 145.3L119.1 150.5L108.2 157.8L97.3 165.2L87.8 171.5L78.3 177.8L71 182.7L63.7 187.6L58.8 190.7L53.9 193.9L51 196L48.1 198z" fill="url(#s92)" stroke="url(#s92)"/>
<path d="M51.4 199.2L54.3 197.2L57.1 195L62 191.7L67 188.5L74.3 183.5L81.5 178.4L91 172L100.5 165.5L111.4 157.8L122.3 150.2L129.6 144.9L136.9 139.5L144.2 134.2L151.5 128.9L149.9 129.3L142.6 134.5L135.3 139.8L128 145.1L120.7 150.3L109.8 157.8L98.9 165.3L89.4 171.7L79.9 178.1L72.6 183.1L65.4 188L60.4 191.2L55.5 194.5L52.6 196.6L49.8 198.6z" fill="url(#s91)" stroke="url(#s91)"/>
<path d="M53 199.9L55.9 197.8L58.7 195.6L63.7 192.3L68.6 189L75.9 183.9L83.2 178.7L92.6 172.2L102.1 165.6L113 157.8L124 150.1L131.2 144.7L138.5 139.3L145.8 133.9L153.1 128.6L151.5 128.9L144.2 134.2L136.9 139.5L129.6 144.9L122.3 150.2L111.4 157.8L100.5 165.5L91 172L81.5 178.4L74.3 183.5L67 188.5L62 191.7L57.1 195L54.3 197.2L51.4 199.2z" fill="url(#s90)" stroke="url(#s90)"/>
<path d="M54.6 200.5L57.5 198.4L60.4 196.2L65.3 192.8L70.2 189.5L77.5 184.3L84.8 179.1L94.2 172.4L103.7 165.7L114.6 157.8L125.6 150L132.9 144.5L140.2 139.1L147.4 133.6L154.7 128.2L153.1 128.6L145.8 133.9L138.5 139.3L131.2 144.7L124 150.1L113 157.8L102.1 165.6L92.6 172.2L83.2 178.7L75.9 183.9L68.6 189L63.7 192.3L58.7 195.6L55.9 197.8L53 199.9z" fill="url(#s89)" stroke="url(#s89)"/>
<path d="M56.2 201.2L59.1 199L62 196.8L66.9 193.3L71.8 190L79.1 184.7L86.4 179.4L95.9 172.7L105.3 165.9L116.3 157.9L127.2 150L134.5 144.4L141.8 138.9L149.1 133.4L156.3 128L154.7 128.2L147.4 133.6L140.2 139.1L132.9 144.5L125.6 150L114.6 157.8L103.7 165.7L94.2 172.4L84.8 179.1L77.5 184.3L70.2 189.5L65.3 192.8L60.4 196.2L57.5 198.4L54.6 200.5z" fill="url(#s88)" stroke="url(#s88)"/>
<path d="M57.8 201.8L60.7 199.7L63.6 197.4L68.5 193.9L73.4 190.5L80.7 185.2L88 179.8L97.5 173L106.9 166.1L117.9 158L128.8 150L136.1 144.4L143.4 138.8L150.7 133.3L158 127.8L156.3 128L149.1 133.4L141.8 138.9L134.5 144.4L127.2 150L116.3 157.9L105.3 165.9L95.9 172.7L86.4 179.4L79.1 184.7L71.8 190L66.9 193.3L62 196.8L59.1 199L56.2 201.2z" fill="url(#s87)" stroke="url(#s87)"/>
<path d="M59.4 202.5L62.3 200.3L65.2 197.9L70.1 194.4L75 191L82.3 185.6L89.6 180.2L99.1 173.3L108.6 166.4L119.5 158.2L130.4 150L137.7 144.4L145 138.8L152.3 133.2L159.6 127.7L158 127.8L150.7 133.3L143.4 138.8L136.1 144.4L128.8 150L117.9 158L106.9 166.1L97.5 173L88 179.8L80.7 185.2L73.4 190.5L68.5 193.9L63.6 197.4L60.7 199.7L57.8 201.8z" fill="url(#s86)" stroke="url(#s86)"/>
<path d="M61.1 203.1L63.9 200.9L66.8 198.5L71.7 195L76.7 191.5L83.9 186L91.2 180.6L100.7 173.6L110.2 166.6L121.1 158.2L132 150L139.3 144.3L146.6 138.6L153.9 133L161.2 127.4L159.6 127.7L152.3 133.2L145 138.8L137.7 144.4L130.4 150L119.5 158.2L108.6 166.4L99.1 173.3L89.6 180.2L82.3 185.6L75 191L70.1 194.4L65.2 197.9L62.3 200.3L59.4 202.5z" fill="url(#s85)" stroke="url(#s85)"/>
<path d="M62.7 203.7L65.6 201.5L68.4 199.1L73.3 195.5L78.3 191.9L85.6 186.4L92.8 180.9L102.3 173.8L111.8 166.6L122.7 158.2L133.6 149.8L140.9 144.1L148.2 138.3L155.5 132.6L162.8 127L161.2 127.4L153.9 133L146.6 138.6L139.3 144.3L132 150L121.1 158.2L110.2 166.6L100.7 173.6L91.2 180.6L83.9 186L76.7 191.5L71.7 195L66.8 198.5L63.9 200.9L61.1 203.1z" fill="url(#s84)" stroke="url(#s84)"/>
<path d="M64.3 204.4L67.2 202.1L70 199.7L75 196L79.9 192.4L87.2 186.8L94.5 181.1L103.9 173.9L113.4 166.7L124.3 158.1L135.3 149.6L142.5 143.8L149.8 138L157.1 132.2L164.4 126.5L162.8 127L155.5 132.6L148.2 138.3L140.9 144.1L133.6 149.8L122.7 158.2L111.8 166.6L102.3 173.8L92.8 180.9L85.6 186.4L78.3 191.9L73.3 195.5L68.4 199.1L65.6 201.5L62.7 203.7z" fill="url(#s83)" stroke="url(#s83)"/>
<path d="M65.9 205L68.8 202.7L71.7 200.2L76.6 196.5L81.5 192.9L88.8 187.2L96.1 181.4L105.5 174.1L115 166.8L125.9 158.1L136.9 149.5L144.2 143.6L151.5 137.7L158.7 131.9L166 126.2L164.4 126.5L157.1 132.2L149.8 138L142.5 143.8L135.3 149.6L124.3 158.1L113.4 166.7L103.9 173.9L94.5 181.1L87.2 186.8L79.9 192.4L75 196L70 199.7L67.2 202.1L64.3 204.4z" fill="url(#s82)" stroke="url(#s82)"/>
<path d="M67.5 205.7L70.4 203.3L73.3 200.8L78.2 197L83.1 193.3L90.4 187.5L97.7 181.7L107.2 174.3L116.6 166.8L127.6 158L138.5 149.2L145.8 143.3L153.1 137.3L160.4 131.4L167.6 125.6L166 126.2L158.7 131.9L151.5 137.7L144.2 143.6L136.9 149.5L125.9 158.1L115 166.8L105.5 174.1L96.1 181.4L88.8 187.2L81.5 192.9L76.6 196.5L71.7 200.2L68.8 202.7L65.9 205z" fill="url(#s81)" stroke="url(#s81)"/>
<path d="M69.1 206.3L72 203.9L74.9 201.3L79.8 197.5L84.7 193.7L92 187.8L99.3 181.8L108.8 174.2L118.2 166.6L129.2 157.6L140.1 148.6L147.4 142.6L154.7 136.5L162 130.5L169.3 124.6L167.6 125.6L160.4 131.4L153.1 137.3L145.8 143.3L138.5 149.2L127.6 158L116.6 166.8L107.2 174.3L97.7 181.7L90.4 187.5L83.1 193.3L78.2 197L73.3 200.8L70.4 203.3L67.5 205.7z" fill="url(#s80)" stroke="url(#s80)"/>
<path d="M70.7 206.9L73.6 204.5L76.5 201.8L81.4 197.8L86.3 193.9L93.6 187.9L100.9 181.8L110.4 174L119.9 166.1L130.8 156.8L141.7 147.6L149 141.4L156.3 135.2L163.6 129.1L170.9 123.1L169.3 124.6L162 130.5L154.7 136.5L147.4 142.6L140.1 148.6L129.2 157.6L118.2 166.6L108.8 174.2L99.3 181.8L92 187.8L84.7 193.7L79.8 197.5L74.9 201.3L72 203.9L69.1 206.3z" fill="url(#s79)" stroke="url(#s79)"/>
<path d="M72.4 207.6L75.2 205L78.1 202.2L83 198.1L88 194.2L95.2 187.9L102.5 181.6L112 173.5L121.5 165.5L132.4 155.8L143.3 146.3L150.6 139.9L157.9 133.6L165.2 127.3L172.5 121.1L170.9 123.1L163.6 129.1L156.3 135.2L149 141.4L141.7 147.6L130.8 156.8L119.9 166.1L110.4 174L100.9 181.8L93.6 187.9L86.3 193.9L81.4 197.8L76.5 201.8L73.6 204.5L70.7 206.9z" fill="url(#s78)" stroke="url(#s78)"/>
<path d="M74 208.2L76.9 205.5L79.7 202.7L84.6 198.5L89.6 194.4L96.9 187.9L104.1 181.4L113.6 173.1L123.1 164.8L134 154.8L144.9 145L152.2 138.4L159.5 131.9L166.8 125.5L174.1 119.1L172.5 121.1L165.2 127.3L157.9 133.6L150.6 139.9L143.3 146.3L132.4 155.8L121.5 165.5L112 173.5L102.5 181.6L95.2 187.9L88 194.2L83 198.1L78.1 202.2L75.2 205L72.4 207.6z" fill="url(#s77)" stroke="url(#s77)"/>
<path d="M75.6 208.8L78.5 206.1L81.3 203.1L86.3 198.8L91.2 194.6L98.5 187.9L105.8 181.2L115.2 172.6L124.7 164.1L135.6 153.8L146.6 143.7L153.8 137L161.1 130.3L168.4 123.7L175.7 117.2L174.1 119.1L166.8 125.5L159.5 131.9L152.2 138.4L144.9 145L134 154.8L123.1 164.8L113.6 173.1L104.1 181.4L96.9 187.9L89.6 194.4L84.6 198.5L79.7 202.7L76.9 205.5L74 208.2z" fill="url(#s76)" stroke="url(#s76)"/>
<path d="M77.2 209.4L80.1 206.6L83 203.6L87.9 199.1L92.8 194.8L100.1 188L107.4 181.1L116.8 172.3L126.3 163.5L137.2 152.9L148.2 142.6L155.5 135.6L162.8 128.8L170 122.1L177.3 115.5L175.7 117.2L168.4 123.7L161.1 130.3L153.8 137L146.6 143.7L135.6 153.8L124.7 164.1L115.2 172.6L105.8 181.2L98.5 187.9L91.2 194.6L86.3 198.8L81.3 203.1L78.5 206.1L75.6 208.8z" fill="url(#s75)" stroke="url(#s75)"/>
<path d="M78.8 210.1L81.7 207.2L84.6 204.1L89.5 199.5L94.4 195.1L101.7 188.1L109 181L118.5 172L127.9 163L138.9 152.2L149.8 141.6L157.1 134.5L164.4 127.5L171.7 120.7L178.9 114L177.3 115.5L170 122.1L162.8 128.8L155.5 135.6L148.2 142.6L137.2 152.9L126.3 163.5L116.8 172.3L107.4 181.1L100.1 188L92.8 194.8L87.9 199.1L83 203.6L80.1 206.6L77.2 209.4z" fill="url(#s74)" stroke="url(#s74)"/>
<path d="M80.4 210.7L83.3 207.8L86.2 204.5L91.1 199.9L96 195.4L103.3 188.2L110.6 181L120.1 171.8L129.5 162.6L140.5 151.6L151.4 140.7L158.7 133.6L166 126.5L173.3 119.5L180.6 112.7L178.9 114L171.7 120.7L164.4 127.5L157.1 134.5L149.8 141.6L138.9 152.2L127.9 163L118.5 172L109 181L101.7 188.1L94.4 195.1L89.5 199.5L84.6 204.1L81.7 207.2L78.8 210.1z" fill="url(#s73)" stroke="url(#s73)"/>
<path d="M82 211.3L84.9 208.3L87.8 205.1L92.7 200.3L97.6 195.7L104.9 188.5L112.2 181.1L121.7 171.8L131.2 162.4L142.1 151.2L153 140.1L160.3 132.8L167.6 125.7L174.9 118.6L182.2 111.8L180.6 112.7L173.3 119.5L166 126.5L158.7 133.6L151.4 140.7L140.5 151.6L129.5 162.6L120.1 171.8L110.6 181L103.3 188.2L96 195.4L91.1 199.9L86.2 204.5L83.3 207.8L80.4 210.7z" fill="url(#s72)" stroke="url(#s72)"/>
<path d="M83.7 212L86.5 208.9L89.4 205.6L94.3 200.8L99.3 196.1L106.5 188.7L113.8 181.2L123.3 171.8L132.8 162.2L143.7 150.8L154.6 139.6L161.9 132.2L169.2 125L176.5 117.9L183.8 111L182.2 111.8L174.9 118.6L167.6 125.7L160.3 132.8L153 140.1L142.1 151.2L131.2 162.4L121.7 171.8L112.2 181.1L104.9 188.5L97.6 195.7L92.7 200.3L87.8 205.1L84.9 208.3L82 211.3z" fill="url(#s71)" stroke="url(#s71)"/>
<path d="M85.3 212.6L88.2 209.5L91 206.1L95.9 201.3L100.9 196.5L108.2 189L115.4 181.4L124.9 171.8L134.4 162.2L145.3 150.6L156.2 139.2L163.5 131.7L170.8 124.4L178.1 117.3L185.4 110.3L183.8 111L176.5 117.9L169.2 125L161.9 132.2L154.6 139.6L143.7 150.8L132.8 162.2L123.3 171.8L113.8 181.2L106.5 188.7L99.3 196.1L94.3 200.8L89.4 205.6L86.5 208.9L83.7 212z" fill="url(#s70)" stroke="url(#s70)"/>
<path d="M86.9 213.2L89.8 210.1L92.6 206.7L97.6 201.8L102.5 196.9L109.8 189.3L117.1 181.6L126.5 171.9L136 162.1L146.9 150.4L157.9 138.8L165.1 131.3L172.4 123.9L179.7 116.7L187 109.7L185.4 110.3L178.1 117.3L170.8 124.4L163.5 131.7L156.2 139.2L145.3 150.6L134.4 162.2L124.9 171.8L115.4 181.4L108.2 189L100.9 196.5L95.9 201.3L91 206.1L88.2 209.5L85.3 212.6z" fill="url(#s69)" stroke="url(#s69)"/>
<path d="M88.5 213.9L91.4 210.7L94.3 207.2L99.2 202.2L104.1 197.4L111.4 189.7L118.7 181.9L128.1 172L137.6 162.1L148.5 150.2L159.5 138.5L166.8 130.9L174.1 123.5L181.3 116.3L188.6 109.2L187 109.7L179.7 116.7L172.4 123.9L165.1 131.3L157.9 138.8L146.9 150.4L136 162.1L126.5 171.9L117.1 181.6L109.8 189.3L102.5 196.9L97.6 201.8L92.6 206.7L89.8 210.1L86.9 213.2z" fill="url(#s68)" stroke="url(#s68)"/>
<path d="M90.1 214.5L93 211.3L95.9 207.8L100.8 202.7L105.7 197.8L113 190L120.3 182.1L129.8 172.1L139.2 162.1L150.2 150.1L161.1 138.2L168.4 130.6L175.7 123.2L183 115.9L190.2 108.8L188.6 109.2L181.3 116.3L174.1 123.5L166.8 130.9L159.5 138.5L148.5 150.2L137.6 162.1L128.1 172L118.7 181.9L111.4 189.7L104.1 197.4L99.2 202.2L94.3 207.2L91.4 210.7L88.5 213.9z" fill="url(#s67)" stroke="url(#s67)"/>
<path d="M91.7 215.2L94.6 211.9L97.5 208.4L102.4 203.3L107.3 198.3L114.6 190.4L121.9 182.4L131.4 172.4L140.8 162.2L151.8 150.1L162.7 138.1L170 130.4L177.3 123L184.6 115.7L191.9 108.6L190.2 108.8L183 115.9L175.7 123.2L168.4 130.6L161.1 138.2L150.2 150.1L139.2 162.1L129.8 172.1L120.3 182.1L113 190L105.7 197.8L100.8 202.7L95.9 207.8L93 211.3L90.1 214.5z" fill="url(#s66)" stroke="url(#s66)"/>
<path d="M93.3 215.8L96.2 212.5L99.1 208.9L104 203.8L108.9 198.8L116.2 190.9L123.5 182.8L133 172.6L142.5 162.4L153.4 150.2L164.3 138.1L171.6 130.4L178.9 122.9L186.2 115.6L193.5 108.6L191.9 108.6L184.6 115.7L177.3 123L170 130.4L162.7 138.1L151.8 150.1L140.8 162.2L131.4 172.4L121.9 182.4L114.6 190.4L107.3 198.3L102.4 203.3L97.5 208.4L94.6 211.9L91.7 215.2z" fill="url(#s65)" stroke="url(#s65)"/>
<path d="M95 216.5L97.8 213.2L100.7 209.6L105.6 204.4L110.6 199.4L117.8 191.4L125.1 183.3L134.6 173.1L144.1 162.9L155 150.6L165.9 138.4L173.2 130.8L180.5 123.3L187.8 116L195.1 108.9L193.5 108.6L186.2 115.6L178.9 122.9L171.6 130.4L164.3 138.1L153.4 150.2L142.5 162.4L133 172.6L123.5 182.8L116.2 190.9L108.9 198.8L104 203.8L99.1 208.9L96.2 212.5L93.3 215.8z" fill="url(#s64)" stroke="url(#s64)"/>
<path d="M96.6 217.1L99.5 213.8L102.3 210.2L107.2 205.1L112.2 200.1L119.5 192.2L126.7 184.1L136.2 173.9L145.7 163.7L156.6 151.4L167.5 139.3L174.8 131.7L182.1 124.2L189.4 117L196.7 109.9L195.1 108.9L187.8 116L180.5 123.3L173.2 130.8L165.9 138.4L155 150.6L144.1 162.9L134.6 173.1L125.1 183.3L117.8 191.4L110.6 199.4L105.6 204.4L100.7 209.6L97.8 213.2L95 216.5z" fill="url(#s63)" stroke="url(#s63)"/>
<path d="M98.2 217.8L101.1 214.5L103.9 211L108.9 205.9L113.8 200.9L121.1 193L128.4 185.1L137.8 175L147.3 164.9L158.2 152.7L169.2 140.7L176.4 133.1L183.7 125.7L191 118.5L198.3 111.6L196.7 109.9L189.4 117L182.1 124.2L174.8 131.7L167.5 139.3L156.6 151.4L145.7 163.7L136.2 173.9L126.7 184.1L119.5 192.2L112.2 200.1L107.2 205.1L102.3 210.2L99.5 213.8L96.6 217.1z" fill="url(#s62)" stroke="url(#s62)"/>
<path d="M99.8 218.4L102.7 215.2L105.6 211.7L110.5 206.6L115.4 201.7L122.7 193.9L130 186L139.4 176L148.9 165.9L159.8 153.9L170.8 142L178.1 134.5L185.3 127.1L192.6 120L199.9 113L198.3 111.6L191 118.5L183.7 125.7L176.4 133.1L169.2 140.7L158.2 152.7L147.3 164.9L137.8 175L128.4 185.1L121.1 193L113.8 200.9L108.9 205.9L103.9 211L101.1 214.5L98.2 217.8z" fill="url(#s61)" stroke="url(#s61)"/>
<path d="M101.4 219.1L104.3 215.9L107.2 212.3L112.1 207.3L117 202.3L124.3 194.5L131.6 186.6L141.1 176.6L150.5 166.5L161.5 154.4L172.4 142.5L179.7 135L187 127.6L194.3 120.5L201.5 113.5L199.9 113L192.6 120L185.3 127.1L178.1 134.5L170.8 142L159.8 153.9L148.9 165.9L139.4 176L130 186L122.7 193.9L115.4 201.7L110.5 206.6L105.6 211.7L102.7 215.2L99.8 218.4z" fill="url(#s60)" stroke="url(#s60)"/>
<path d="M102.5 219.5L105.4 216.3L108.2 212.7L113.2 207.6L118.1 202.6L125.4 194.8L132.6 186.8L142.1 176.7L151.6 166.5L162.5 154.4L173.5 142.4L180.7 134.8L188 127.4L195.3 120.2L202.6 113.2L201.5 113.5L194.3 120.5L187 127.6L179.7 135L172.4 142.5L161.5 154.4L150.5 166.5L141.1 176.6L131.6 186.6L124.3 194.5L117 202.3L112.1 207.3L107.2 212.3L104.3 215.9L101.4 219.1z" fill="url(#s59)" stroke="url(#s59)"/>
<path d="M103.5 219.9L106.4 216.6L109.3 213L114.2 207.9L119.1 202.9L126.4 194.9L133.7 186.8L143.2 176.6L152.7 166.3L163.6 154L174.5 141.9L181.8 134.2L189.1 126.7L196.4 119.4L203.7 112.4L202.6 113.2L195.3 120.2L188 127.4L180.7 134.8L173.5 142.4L162.5 154.4L151.6 166.5L142.1 176.7L132.6 186.8L125.4 194.8L118.1 202.6L113.2 207.6L108.2 212.7L105.4 216.3L102.5 219.5z" fill="url(#s58)" stroke="url(#s58)"/>
<path d="M104.6 220.3L107.5 217L110.4 213.3L115.3 208.1L120.2 203L127.5 194.9L134.8 186.7L144.2 176.3L153.7 165.9L164.6 153.4L175.6 141.1L182.9 133.3L190.2 125.7L197.4 118.3L204.7 111.1L203.7 112.4L196.4 119.4L189.1 126.7L181.8 134.2L174.5 141.9L163.6 154L152.7 166.3L143.2 176.6L133.7 186.8L126.4 194.9L119.1 202.9L114.2 207.9L109.3 213L106.4 216.6L103.5 219.9z" fill="url(#s57)" stroke="url(#s57)"/>
<path d="M105.7 220.7L108.5 217.3L111.4 213.6L116.3 208.3L121.3 203.1L128.5 194.8L135.8 186.5L145.3 175.9L154.8 165.3L165.7 152.5L176.6 140L183.9 132.1L191.2 124.3L198.5 116.8L205.8 109.5L204.7 111.1L197.4 118.3L190.2 125.7L182.9 133.3L175.6 141.1L164.6 153.4L153.7 165.9L144.2 176.3L134.8 186.7L127.5 194.9L120.2 203L115.3 208.1L110.4 213.3L107.5 217L104.6 220.3z" fill="url(#s56)" stroke="url(#s56)"/>
<path d="M106.7 221.2L109.6 217.7L112.5 213.8L117.4 208.4L122.3 203.1L129.6 194.7L136.9 186.2L146.4 175.4L155.8 164.6L166.8 151.6L177.7 138.8L185 130.7L192.3 122.8L199.6 115.1L206.8 107.7L205.8 109.5L198.5 116.8L191.2 124.3L183.9 132.1L176.6 140L165.7 152.5L154.8 165.3L145.3 175.9L135.8 186.5L128.5 194.8L121.3 203.1L116.3 208.3L111.4 213.6L108.5 217.3L105.7 220.7z" fill="url(#s55)" stroke="url(#s55)"/>
<path d="M107.8 221.6L110.7 218L113.5 214.1L118.5 208.6L123.4 203.2L130.7 194.6L138 185.9L147.4 174.9L156.9 163.9L167.8 150.7L178.8 137.6L186 129.4L193.3 121.3L200.6 113.5L207.9 106L206.8 107.7L199.6 115.1L192.3 122.8L185 130.7L177.7 138.8L166.8 151.6L155.8 164.6L146.4 175.4L136.9 186.2L129.6 194.7L122.3 203.1L117.4 208.4L112.5 213.8L109.6 217.7L106.7 221.2z" fill="url(#s54)" stroke="url(#s54)"/>
<path d="M108.8 222L111.7 218.4L114.6 214.4L119.5 208.8L124.4 203.3L131.7 194.6L139 185.7L148.5 174.6L158 163.4L168.9 149.9L179.8 136.6L187.1 128.2L194.4 120L201.7 112.1L209 104.4L207.9 106L200.6 113.5L193.3 121.3L186 129.4L178.8 137.6L167.8 150.7L156.9 163.9L147.4 174.9L138 185.9L130.7 194.6L123.4 203.2L118.5 208.6L113.5 214.1L110.7 218L107.8 221.6z" fill="url(#s53)" stroke="url(#s53)"/>
<path d="M109.9 222.4L112.8 218.7L115.7 214.7L120.6 209L125.5 203.4L132.8 194.6L140.1 185.6L149.6 174.3L159 162.9L170 149.2L180.9 135.7L188.2 127.3L195.5 119L202.7 110.9L210 103.2L209 104.4L201.7 112.1L194.4 120L187.1 128.2L179.8 136.6L168.9 149.9L158 163.4L148.5 174.6L139 185.7L131.7 194.6L124.4 203.3L119.5 208.8L114.6 214.4L111.7 218.4L108.8 222z" fill="url(#s52)" stroke="url(#s52)"/>
<path d="M111 222.8L113.9 219.1L116.7 215L121.6 209.2L126.6 203.6L133.9 194.7L141.1 185.6L150.6 174.1L160.1 162.6L171 148.7L181.9 135.1L189.2 126.5L196.5 118.1L203.8 110L211.1 102.1L210 103.2L202.7 110.9L195.5 119L188.2 127.3L180.9 135.7L170 149.2L159 162.9L149.6 174.3L140.1 185.6L132.8 194.6L125.5 203.4L120.6 209L115.7 214.7L112.8 218.7L109.9 222.4z" fill="url(#s51)" stroke="url(#s51)"/>
<path d="M112 223.2L114.9 219.5L117.8 215.3L122.7 209.5L127.6 203.8L134.9 194.8L142.2 185.6L151.7 174L161.1 162.4L172.1 148.4L183 134.6L190.3 125.9L197.6 117.4L204.9 109.2L212.2 101.3L211.1 102.1L203.8 110L196.5 118.1L189.2 126.5L181.9 135.1L171 148.7L160.1 162.6L150.6 174.1L141.1 185.6L133.9 194.7L126.6 203.6L121.6 209.2L116.7 215L113.9 219.1L111 222.8z" fill="url(#s50)" stroke="url(#s50)"/>
<path d="M113.1 223.6L116 219.8L118.9 215.7L123.8 209.8L128.7 204.1L136 194.9L143.3 185.7L152.7 174L162.2 162.2L173.1 148.1L184.1 134.2L191.4 125.4L198.6 116.9L205.9 108.6L213.2 100.6L212.2 101.3L204.9 109.2L197.6 117.4L190.3 125.9L183 134.6L172.1 148.4L161.1 162.4L151.7 174L142.2 185.6L134.9 194.8L127.6 203.8L122.7 209.5L117.8 215.3L114.9 219.5L112 223.2z" fill="url(#s49)" stroke="url(#s49)"/>
<path d="M114.2 224L117 220.2L119.9 216L124.8 210.1L129.8 204.3L137 195.1L144.3 185.8L153.8 174L163.3 162.2L174.2 147.9L185.1 133.9L192.4 125L199.7 116.4L207 108.1L214.3 100L213.2 100.6L205.9 108.6L198.6 116.9L191.4 125.4L184.1 134.2L173.1 148.1L162.2 162.2L152.7 174L143.3 185.7L136 194.9L128.7 204.1L123.8 209.8L118.9 215.7L116 219.8L113.1 223.6z" fill="url(#s48)" stroke="url(#s48)"/>
<path d="M115.2 224.5L118.1 220.6L121 216.4L125.9 210.4L130.8 204.6L138.1 195.3L145.4 185.9L154.9 174.1L164.3 162.1L175.3 147.8L186.2 133.7L193.5 124.8L200.8 116.1L208.1 107.7L215.3 99.6L214.3 100L207 108.1L199.7 116.4L192.4 125L185.1 133.9L174.2 147.9L163.3 162.2L153.8 174L144.3 185.8L137 195.1L129.8 204.3L124.8 210.1L119.9 216L117 220.2L114.2 224z" fill="url(#s47)" stroke="url(#s47)"/>
<path d="M116.3 224.9L119.2 221L122 216.7L127 210.8L131.9 204.9L139.2 195.6L146.5 186.1L155.9 174.2L165.4 162.2L176.3 147.8L187.3 133.6L194.5 124.6L201.8 115.9L209.1 107.5L216.4 99.3L215.3 99.6L208.1 107.7L200.8 116.1L193.5 124.8L186.2 133.7L175.3 147.8L164.3 162.1L154.9 174.1L145.4 185.9L138.1 195.3L130.8 204.6L125.9 210.4L121 216.4L118.1 220.6L115.2 224.5z" fill="url(#s46)" stroke="url(#s46)"/>
<path d="M117.3 225.3L120.2 221.4L123.1 217.1L128 211.1L132.9 205.2L140.2 195.9L147.5 186.4L157 174.4L166.5 162.4L177.4 147.9L188.3 133.6L195.6 124.6L202.9 115.9L210.2 107.4L217.5 99.2L216.4 99.3L209.1 107.5L201.8 115.9L194.5 124.6L187.3 133.6L176.3 147.8L165.4 162.2L155.9 174.2L146.5 186.1L139.2 195.6L131.9 204.9L127 210.8L122 216.7L119.2 221L116.3 224.9z" fill="url(#s45)" stroke="url(#s45)"/>
<path d="M118.4 225.7L121.3 221.8L124.2 217.5L129.1 211.5L134 205.6L141.3 196.2L148.6 186.7L158 174.7L167.5 162.6L178.5 148.1L189.4 133.8L196.7 124.8L204 116L211.2 107.5L218.5 99.3L217.5 99.2L210.2 107.4L202.9 115.9L195.6 124.6L188.3 133.6L177.4 147.9L166.5 162.4L157 174.4L147.5 186.4L140.2 195.9L132.9 205.2L128 211.1L123.1 217.1L120.2 221.4L117.3 225.3z" fill="url(#s44)" stroke="url(#s44)"/>
<path d="M119.5 226.2L122.3 222.3L125.2 218L130.1 211.9L135.1 206L142.3 196.6L149.6 187.1L159.1 175.1L168.6 163L179.5 148.4L190.4 134.1L197.7 125.1L205 116.3L212.3 107.8L219.6 99.6L218.5 99.3L211.2 107.5L204 116L196.7 124.8L189.4 133.8L178.5 148.1L167.5 162.6L158 174.7L148.6 186.7L141.3 196.2L134 205.6L129.1 211.5L124.2 217.5L121.3 221.8L118.4 225.7z" fill="url(#s43)" stroke="url(#s43)"/>
<path d="M120.5 226.6L123.4 222.7L126.3 218.4L131.2 212.4L136.1 206.5L143.4 197.1L150.7 187.6L160.2 175.6L169.6 163.5L180.6 149L191.5 134.7L198.8 125.7L206.1 116.9L213.4 108.4L220.7 100.2L219.6 99.6L212.3 107.8L205 116.3L197.7 125.1L190.4 134.1L179.5 148.4L168.6 163L159.1 175.1L149.6 187.1L142.3 196.6L135.1 206L130.1 211.9L125.2 218L122.3 222.3L119.5 226.2z" fill="url(#s42)" stroke="url(#s42)"/>
<path d="M121.6 227L124.5 223.2L127.3 218.9L132.3 212.9L137.2 207L144.5 197.7L151.8 188.2L161.2 176.2L170.7 164.2L181.6 149.7L192.6 135.5L199.9 126.6L207.1 117.8L214.4 109.4L221.7 101.2L220.7 100.2L213.4 108.4L206.1 116.9L198.8 125.7L191.5 134.7L180.6 149L169.6 163.5L160.2 175.6L150.7 187.6L143.4 197.1L136.1 206.5L131.2 212.4L126.3 218.4L123.4 222.7L120.5 226.6z" fill="url(#s41)" stroke="url(#s41)"/>
<path d="M122.7 227.5L125.5 223.6L128.4 219.4L133.3 213.4L138.2 207.6L145.5 198.3L152.8 188.9L162.3 177L171.8 165.1L182.7 150.7L193.6 136.6L200.9 127.7L208.2 119.1L215.5 110.7L222.8 102.5L221.7 101.2L214.4 109.4L207.1 117.8L199.9 126.6L192.6 135.5L181.6 149.7L170.7 164.2L161.2 176.2L151.8 188.2L144.5 197.7L137.2 207L132.3 212.9L127.3 218.9L124.5 223.2L121.6 227z" fill="url(#s40)" stroke="url(#s40)"/>
<path d="M123.2 227.7L126.1 223.9L128.9 219.6L133.9 213.7L138.8 207.9L146.1 198.7L153.4 189.3L162.8 177.5L172.3 165.6L183.2 151.3L194.2 137.2L201.4 128.4L208.7 119.8L216 111.4L223.3 103.3L222.8 102.5L215.5 110.7L208.2 119.1L200.9 127.7L193.6 136.6L182.7 150.7L171.8 165.1L162.3 177L152.8 188.9L145.5 198.3L138.2 207.6L133.3 213.4L128.4 219.4L125.5 223.6L122.7 227.5z" fill="url(#s39)" stroke="url(#s39)"/>
<path d="M123.7 227.9L126.6 224.1L129.5 219.9L134.4 214L139.3 208.2L146.6 199L153.9 189.7L163.4 178L172.8 166.2L183.8 151.9L194.7 138L202 129.2L209.3 120.6L216.6 112.3L223.8 104.2L223.3 103.3L216 111.4L208.7 119.8L201.4 128.4L194.2 137.2L183.2 151.3L172.3 165.6L162.8 177.5L153.4 189.3L146.1 198.7L138.8 207.9L133.9 213.7L128.9 219.6L126.1 223.9L123.2 227.7z" fill="url(#s38)" stroke="url(#s38)"/>
<path d="M124.2 228.1L127.1 224.3L130 220.2L134.9 214.3L139.8 208.6L147.1 199.4L154.4 190.2L163.9 178.5L173.4 166.8L184.3 152.6L195.2 138.7L202.5 130L209.8 121.5L217.1 113.2L224.4 105.2L223.8 104.2L216.6 112.3L209.3 120.6L202 129.2L194.7 138L183.8 151.9L172.8 166.2L163.4 178L153.9 189.7L146.6 199L139.3 208.2L134.4 214L129.5 219.9L126.6 224.1L123.7 227.9z" fill="url(#s37)" stroke="url(#s37)"/>
<path d="M124.8 228.4L127.7 224.6L130.5 220.4L135.5 214.6L140.4 208.9L147.7 199.9L154.9 190.7L164.4 179.1L173.9 167.4L184.8 153.4L195.8 139.6L203 130.9L210.3 122.4L217.6 114.2L224.9 106.3L224.4 105.2L217.1 113.2L209.8 121.5L202.5 130L195.2 138.7L184.3 152.6L173.4 166.8L163.9 178.5L154.4 190.2L147.1 199.4L139.8 208.6L134.9 214.3L130 220.2L127.1 224.3L124.2 228.1z" fill="url(#s36)" stroke="url(#s36)"/>
<path d="M125.3 228.6L128.2 224.9L131.1 220.7L136 214.9L140.9 209.3L148.2 200.3L155.5 191.2L165 179.7L174.4 168.1L185.4 154.2L196.3 140.5L203.6 131.9L210.9 123.5L218.1 115.4L225.4 107.5L224.9 106.3L217.6 114.2L210.3 122.4L203 130.9L195.8 139.6L184.8 153.4L173.9 167.4L164.4 179.1L154.9 190.7L147.7 199.9L140.4 208.9L135.5 214.6L130.5 220.4L127.7 224.6L124.8 228.4z" fill="url(#s35)" stroke="url(#s35)"/>
<path d="M125.8 228.8L128.7 225.1L131.6 221L136.5 215.3L141.4 209.7L148.7 200.8L156 191.8L165.5 180.4L175 168.9L185.9 155.1L196.8 141.6L204.1 133L211.4 124.7L218.7 116.6L226 108.8L225.4 107.5L218.1 115.4L210.9 123.5L203.6 131.9L196.3 140.5L185.4 154.2L174.4 168.1L165 179.7L155.5 191.2L148.2 200.3L140.9 209.3L136 214.9L131.1 220.7L128.2 224.9L125.3 228.6z" fill="url(#s34)" stroke="url(#s34)"/>
<path d="M126.4 229L129.2 225.4L132.1 221.4L137 215.7L142 210.1L149.3 201.3L156.5 192.4L166 181.1L175.5 169.7L186.4 156.1L197.3 142.7L204.6 134.2L211.9 126L219.2 118L226.5 110.3L226 108.8L218.7 116.6L211.4 124.7L204.1 133L196.8 141.6L185.9 155.1L175 168.9L165.5 180.4L156 191.8L148.7 200.8L141.4 209.7L136.5 215.3L131.6 221L128.7 225.1L125.8 228.8z" fill="url(#s33)" stroke="url(#s33)"/>
<path d="M126.9 229.3L129.8 225.7L132.7 221.7L137.6 216.1L142.5 210.6L149.8 201.9L157.1 193.1L166.5 181.9L176 170.7L186.9 157.2L197.9 143.9L205.2 135.6L212.5 127.5L219.7 119.6L227 111.9L226.5 110.3L219.2 118L211.9 126L204.6 134.2L197.3 142.7L186.4 156.1L175.5 169.7L166 181.1L156.5 192.4L149.3 201.3L142 210.1L137 215.7L132.1 221.4L129.2 225.4L126.4 229z" fill="url(#s32)" stroke="url(#s32)"/>
<path d="M127.4 229.5L130.3 225.9L133.2 222L138.1 216.5L143 211.1L150.3 202.5L157.6 193.8L167.1 182.7L176.5 171.7L187.5 158.4L198.4 145.3L205.7 137.1L213 129.1L220.3 121.3L227.6 113.7L227 111.9L219.7 119.6L212.5 127.5L205.2 135.6L197.9 143.9L186.9 157.2L176 170.7L166.5 181.9L157.1 193.1L149.8 201.9L142.5 210.6L137.6 216.1L132.7 221.7L129.8 225.7L126.9 229.3z" fill="url(#s31)" stroke="url(#s31)"/>
<path d="M128 229.7L130.8 226.2L133.7 222.4L138.6 216.9L143.6 211.6L150.8 203.1L158.1 194.6L167.6 183.7L177.1 172.8L188 159.7L198.9 146.8L206.2 138.7L213.5 130.8L220.8 123.1L228.1 115.7L227.6 113.7L220.3 121.3L213 129.1L205.7 137.1L198.4 145.3L187.5 158.4L176.5 171.7L167.1 182.7L157.6 193.8L150.3 202.5L143 211.1L138.1 216.5L133.2 222L130.3 225.9L127.4 229.5z" fill="url(#s30)" stroke="url(#s30)"/>
<path d="M128.5 230L131.4 226.5L134.3 222.7L139.2 217.4L144.1 212.1L151.4 203.8L158.7 195.4L168.1 184.7L177.6 174L188.5 161.2L199.5 148.5L206.8 140.5L214 132.8L221.3 125.2L228.6 117.9L228.1 115.7L220.8 123.1L213.5 130.8L206.2 138.7L198.9 146.8L188 159.7L177.1 172.8L167.6 183.7L158.1 194.6L150.8 203.1L143.6 211.6L138.6 216.9L133.7 222.4L130.8 226.2L128 229.7z" fill="url(#s29)" stroke="url(#s29)"/>
<path d="M129 230.2L131.9 226.8L134.8 223.1L139.7 217.8L144.6 212.7L151.9 204.5L159.2 196.3L168.7 185.8L178.1 175.3L189.1 162.7L200 150.3L207.3 142.5L214.6 134.9L221.9 127.5L229.2 120.3L228.6 117.9L221.3 125.2L214 132.8L206.8 140.5L199.5 148.5L188.5 161.2L177.6 174L168.1 184.7L158.7 195.4L151.4 203.8L144.1 212.1L139.2 217.4L134.3 222.7L131.4 226.5L128.5 230z" fill="url(#s28)" stroke="url(#s28)"/>
<path d="M129.6 230.4L132.4 227.1L135.3 223.5L140.2 218.3L145.2 213.3L152.4 205.3L159.7 197.3L169.2 187L178.7 176.7L189.6 164.4L200.5 152.2L207.8 144.6L215.1 137.1L222.4 129.9L229.7 122.8L229.2 120.3L221.9 127.5L214.6 134.9L207.3 142.5L200 150.3L189.1 162.7L178.1 175.3L168.7 185.8L159.2 196.3L151.9 204.5L144.6 212.7L139.7 217.8L134.8 223.1L131.9 226.8L129 230.2z" fill="url(#s27)" stroke="url(#s27)"/>
<path d="M130.1 230.7L133 227.4L135.8 223.9L140.8 218.9L145.7 213.9L153 206.1L160.3 198.2L169.7 188.2L179.2 178.1L190.1 166.1L201.1 154.3L208.4 146.8L215.6 139.5L222.9 132.4L230.2 125.5L229.7 122.8L222.4 129.9L215.1 137.1L207.8 144.6L200.5 152.2L189.6 164.4L178.7 176.7L169.2 187L159.7 197.3L152.4 205.3L145.2 213.3L140.2 218.3L135.3 223.5L132.4 227.1L129.6 230.4z" fill="url(#s26)" stroke="url(#s26)"/>
<path d="M130.6 230.9L133.5 227.8L136.4 224.3L141.3 219.4L146.2 214.6L153.5 207L160.8 199.3L170.3 189.5L179.7 179.6L190.7 167.9L201.6 156.4L208.9 149.1L216.2 141.9L223.5 135L230.7 128.3L230.2 125.5L222.9 132.4L215.6 139.5L208.4 146.8L201.1 154.3L190.1 166.1L179.2 178.1L169.7 188.2L160.3 198.2L153 206.1L145.7 213.9L140.8 218.9L135.8 223.9L133 227.4L130.1 230.7z" fill="url(#s25)" stroke="url(#s25)"/>
<path d="M131.2 231.2L134 228.1L136.9 224.7L141.8 219.9L146.7 215.2L154 207.8L161.3 200.3L170.8 190.8L180.3 181.2L191.2 169.8L202.1 158.5L209.4 151.4L216.7 144.5L224 137.7L231.3 131.2L230.7 128.3L223.5 135L216.2 141.9L208.9 149.1L201.6 156.4L190.7 167.9L179.7 179.6L170.3 189.5L160.8 199.3L153.5 207L146.2 214.6L141.3 219.4L136.4 224.3L133.5 227.8L130.6 230.9z" fill="url(#s24)" stroke="url(#s24)"/>
<path d="M131.7 231.4L134.6 228.4L137.4 225.2L142.4 220.5L147.3 215.9L154.6 208.7L161.8 201.4L171.3 192.1L180.8 182.8L191.7 171.7L202.7 160.7L209.9 153.8L217.2 147.1L224.5 140.5L231.8 134.1L231.3 131.2L224 137.7L216.7 144.5L209.4 151.4L202.1 158.5L191.2 169.8L180.3 181.2L170.8 190.8L161.3 200.3L154 207.8L146.7 215.2L141.8 219.9L136.9 224.7L134 228.1L131.2 231.2z" fill="url(#s23)" stroke="url(#s23)"/>
<path d="M132.2 231.6L135.1 228.7L138 225.6L142.9 221L147.8 216.6L155.1 209.6L162.4 202.5L171.9 193.4L181.3 184.4L192.3 173.6L203.2 163L210.5 156.3L217.8 149.7L225 143.3L232.3 137.1L231.8 134.1L224.5 140.5L217.2 147.1L209.9 153.8L202.7 160.7L191.7 171.7L180.8 182.8L171.3 192.1L161.8 201.4L154.6 208.7L147.3 215.9L142.4 220.5L137.4 225.2L134.6 228.4L131.7 231.4z" fill="url(#s22)" stroke="url(#s22)"/>
<path d="M132.7 231.9L135.6 229.1L138.5 226L143.4 221.6L148.3 217.2L155.6 210.5L162.9 203.6L172.4 194.8L181.9 186L192.8 175.5L203.7 165.2L211 158.7L218.3 152.3L225.6 146.1L232.9 140.1L232.3 137.1L225 143.3L217.8 149.7L210.5 156.3L203.2 163L192.3 173.6L181.3 184.4L171.9 193.4L162.4 202.5L155.1 209.6L147.8 216.6L142.9 221L138 225.6L135.1 228.7L132.2 231.6z" fill="url(#s21)" stroke="url(#s21)"/>
<path d="M133.3 232.1L136.2 229.4L139 226.4L144 222.1L148.9 217.9L156.2 211.3L163.4 204.7L172.9 196.1L182.4 187.6L193.3 177.4L204.2 167.5L211.5 161.1L218.8 154.9L226.1 148.9L233.4 143L232.9 140.1L225.6 146.1L218.3 152.3L211 158.7L203.7 165.2L192.8 175.5L181.9 186L172.4 194.8L162.9 203.6L155.6 210.5L148.3 217.2L143.4 221.6L138.5 226L135.6 229.1L132.7 231.9z" fill="url(#s20)" stroke="url(#s20)"/>
<path d="M133.8 232.4L136.7 229.7L139.6 226.9L144.5 222.7L149.4 218.6L156.7 212.2L164 205.7L173.4 197.5L182.9 189.1L193.9 179.3L204.8 169.7L212.1 163.5L219.4 157.5L226.6 151.6L233.9 146L233.4 143L226.1 148.9L218.8 154.9L211.5 161.1L204.2 167.5L193.3 177.4L182.4 187.6L172.9 196.1L163.4 204.7L156.2 211.3L148.9 217.9L144 222.1L139 226.4L136.2 229.4L133.3 232.1z" fill="url(#s19)" stroke="url(#s19)"/>
<path d="M134.3 232.6L137.2 230L140.1 227.3L145 223.2L149.9 219.2L157.2 213L164.5 206.8L174 198.7L183.5 190.6L194.4 181.1L205.3 171.8L212.6 165.8L219.9 160L227.2 154.3L234.5 148.8L233.9 146L226.6 151.6L219.4 157.5L212.1 163.5L204.8 169.7L193.9 179.3L182.9 189.1L173.4 197.5L164 205.7L156.7 212.2L149.4 218.6L144.5 222.7L139.6 226.9L136.7 229.7L133.8 232.4z" fill="url(#s18)" stroke="url(#s18)"/>
<path d="M134.9 232.8L137.7 230.3L140.6 227.7L145.5 223.7L150.5 219.8L157.7 213.8L165 207.8L174.5 200L184 192.1L194.9 182.9L205.8 173.8L213.1 168L220.4 162.4L227.7 156.9L235 151.5L234.5 148.8L227.2 154.3L219.9 160L212.6 165.8L205.3 171.8L194.4 181.1L183.5 190.6L174 198.7L164.5 206.8L157.2 213L149.9 219.2L145 223.2L140.1 227.3L137.2 230L134.3 232.6z" fill="url(#s17)" stroke="url(#s17)"/>
<path d="M135.4 233.1L138.3 230.7L141.2 228.1L146.1 224.2L151 220.4L158.3 214.6L165.6 208.8L175 201.1L184.5 193.5L195.4 184.6L206.4 175.8L213.7 170.1L220.9 164.7L228.2 159.3L235.5 154.1L235 151.5L227.7 156.9L220.4 162.4L213.1 168L205.8 173.8L194.9 182.9L184 192.1L174.5 200L165 207.8L157.7 213.8L150.5 219.8L145.5 223.7L140.6 227.7L137.7 230.3L134.9 232.8z" fill="url(#s16)" stroke="url(#s16)"/>
<path d="M135.9 233.3L138.8 231L141.7 228.4L146.6 224.7L151.5 221L158.8 215.4L166.1 209.6L175.6 202.2L185 194.8L196 186.1L206.9 177.6L214.2 172.1L221.5 166.8L228.8 161.6L236.1 156.5L235.5 154.1L228.2 159.3L220.9 164.7L213.7 170.1L206.4 175.8L195.4 184.6L184.5 193.5L175 201.1L165.6 208.8L158.3 214.6L151 220.4L146.1 224.2L141.2 228.1L138.3 230.7L135.4 233.1z" fill="url(#s15)" stroke="url(#s15)"/>
<path d="M136.5 233.5L139.3 231.2L142.2 228.8L147.1 225.1L152.1 221.5L159.3 216L166.6 210.5L176.1 203.2L185.6 196L196.5 187.5L207.4 179.2L214.7 173.9L222 168.7L229.3 163.6L236.6 158.7L236.1 156.5L228.8 161.6L221.5 166.8L214.2 172.1L206.9 177.6L196 186.1L185 194.8L175.6 202.2L166.1 209.6L158.8 215.4L151.5 221L146.6 224.7L141.7 228.4L138.8 231L135.9 233.3z" fill="url(#s14)" stroke="url(#s14)"/>
<path d="M137 233.8L139.9 231.5L142.7 229.1L147.7 225.5L152.6 222L159.9 216.7L167.2 211.2L176.6 204.1L186.1 197L197 188.8L208 180.7L215.3 175.5L222.5 170.5L229.8 165.5L237.1 160.7L236.6 158.7L229.3 163.6L222 168.7L214.7 173.9L207.4 179.2L196.5 187.5L185.6 196L176.1 203.2L166.6 210.5L159.3 216L152.1 221.5L147.1 225.1L142.2 228.8L139.3 231.2L136.5 233.5z" fill="url(#s13)" stroke="url(#s13)"/>
<path d="M137.5 234L140.4 231.8L143.3 229.5L148.2 225.9L153.1 222.5L160.4 217.3L167.7 212L177.2 205L186.6 198L197.6 190L208.5 182.1L215.8 177L223.1 172.1L230.4 167.2L237.6 162.5L237.1 160.7L229.8 165.5L222.5 170.5L215.3 175.5L208 180.7L197 188.8L186.1 197L176.6 204.1L167.2 211.2L159.9 216.7L152.6 222L147.7 225.5L142.7 229.1L139.9 231.5L137 233.8z" fill="url(#s12)" stroke="url(#s12)"/>
<path d="M138.1 234.2L140.9 232.1L143.8 229.8L148.7 226.3L153.6 222.9L160.9 217.8L168.2 212.6L177.7 205.8L187.2 198.9L198.1 191.1L209 183.3L216.3 178.4L223.6 173.5L230.9 168.8L238.2 164.2L237.6 162.5L230.4 167.2L223.1 172.1L215.8 177L208.5 182.1L197.6 190L186.6 198L177.2 205L167.7 212L160.4 217.3L153.1 222.5L148.2 225.9L143.3 229.5L140.4 231.8L137.5 234z" fill="url(#s11)" stroke="url(#s11)"/>
<path d="M138.6 234.4L141.5 232.3L144.3 230.1L149.3 226.7L154.2 223.4L161.5 218.3L168.8 213.2L178.2 206.5L187.7 199.7L198.6 192L209.6 184.5L216.8 179.6L224.1 174.9L231.4 170.3L238.7 165.7L238.2 164.2L230.9 168.8L223.6 173.5L216.3 178.4L209 183.3L198.1 191.1L187.2 198.9L177.7 205.8L168.2 212.6L160.9 217.8L153.6 222.9L148.7 226.3L143.8 229.8L140.9 232.1L138.1 234.2z" fill="url(#s10)" stroke="url(#s10)"/>
<path d="M139.1 234.7L142 232.6L144.9 230.4L149.8 227L154.7 223.8L162 218.8L169.3 213.8L178.8 207.2L188.2 200.5L199.2 193L210.1 185.5L217.4 180.8L224.7 176.1L232 171.6L239.2 167.2L238.7 165.7L231.4 170.3L224.1 174.9L216.8 179.6L209.6 184.5L198.6 192L187.7 199.7L178.2 206.5L168.8 213.2L161.5 218.3L154.2 223.4L149.3 226.7L144.3 230.1L141.5 232.3L138.6 234.4z" fill="url(#s9)" stroke="url(#s9)"/>
<path d="M139.6 234.9L142.5 232.8L145.4 230.7L150.3 227.3L155.2 224.1L162.5 219.3L169.8 214.4L179.3 207.8L188.8 201.2L199.7 193.8L210.6 186.5L217.9 181.9L225.2 177.3L232.5 172.9L239.8 168.5L239.2 167.2L232 171.6L224.7 176.1L217.4 180.8L210.1 185.5L199.2 193L188.2 200.5L178.8 207.2L169.3 213.8L162 218.8L154.7 223.8L149.8 227L144.9 230.4L142 232.6L139.1 234.7z" fill="url(#s8)" stroke="url(#s8)"/>
<path d="M140.2 235.1L143.1 233.1L145.9 230.9L150.9 227.7L155.8 224.5L163.1 219.7L170.3 214.9L179.8 208.4L189.3 201.9L200.2 194.6L211.2 187.4L218.4 182.9L225.7 178.4L233 174L240.3 169.8L239.8 168.5L232.5 172.9L225.2 177.3L217.9 181.9L210.6 186.5L199.7 193.8L188.8 201.2L179.3 207.8L169.8 214.4L162.5 219.3L155.2 224.1L150.3 227.3L145.4 230.7L142.5 232.8L139.6 234.9z" fill="url(#s7)" stroke="url(#s7)"/>
<path d="M140.7 235.3L143.6 233.3L146.5 231.2L151.4 228L156.3 224.8L163.6 220.1L170.9 215.4L180.3 209L189.8 202.5L200.8 195.4L211.7 188.3L219 183.8L226.3 179.4L233.5 175.2L240.8 171L240.3 169.8L233 174L225.7 178.4L218.4 182.9L211.2 187.4L200.2 194.6L189.3 201.9L179.8 208.4L170.3 214.9L163.1 219.7L155.8 224.5L150.9 227.7L145.9 230.9L143.1 233.1L140.2 235.1z" fill="url(#s6)" stroke="url(#s6)"/>
<path d="M141.2 235.5L144.1 233.5L147 231.5L151.9 228.3L156.8 225.2L164.1 220.5L171.4 215.9L180.9 209.5L190.4 203.1L201.3 196.1L212.2 189.2L219.5 184.8L226.8 180.5L234.1 176.3L241.4 172.2L240.8 171L233.5 175.2L226.3 179.4L219 183.8L211.7 188.3L200.8 195.4L189.8 202.5L180.3 209L170.9 215.4L163.6 220.1L156.3 224.8L151.4 228L146.5 231.2L143.6 233.3L140.7 235.3z" fill="url(#s5)" stroke="url(#s5)"/>
<path d="M141.8 235.7L144.6 233.8L147.5 231.7L152.4 228.6L157.4 225.5L164.7 220.9L171.9 216.4L181.4 210L190.9 203.7L201.8 196.8L212.7 190L220 185.7L227.3 181.5L234.6 177.4L241.9 173.4L241.4 172.2L234.1 176.3L226.8 180.5L219.5 184.8L212.2 189.2L201.3 196.1L190.4 203.1L180.9 209.5L171.4 215.9L164.1 220.5L156.8 225.2L151.9 228.3L147 231.5L144.1 233.5L141.2 235.5z" fill="url(#s4)" stroke="url(#s4)"/>
<path d="M142.3 236L145.2 234L148.1 232L153 228.9L157.9 225.8L165.2 221.3L172.5 216.8L181.9 210.6L191.4 204.3L202.3 197.5L213.3 190.8L220.6 186.6L227.9 182.5L235.1 178.4L242.4 174.6L241.9 173.4L234.6 177.4L227.3 181.5L220 185.7L212.7 190L201.8 196.8L190.9 203.7L181.4 210L171.9 216.4L164.7 220.9L157.4 225.5L152.4 228.6L147.5 231.7L144.6 233.8L141.8 235.7z" fill="url(#s3)" stroke="url(#s3)"/>
<path d="M142.8 236.2L145.7 234.2L148.6 232.3L153.5 229.1L158.4 226.1L165.7 221.7L173 217.3L182.5 211.1L191.9 204.9L202.9 198.2L213.8 191.7L221.1 187.5L228.4 183.5L235.7 179.6L243 175.8L242.4 174.6L235.1 178.4L227.9 182.5L220.6 186.6L213.3 190.8L202.3 197.5L191.4 204.3L181.9 210.6L172.5 216.8L165.2 221.3L157.9 225.8L153 228.9L148.1 232L145.2 234L142.3 236z" fill="url(#s2)" stroke="url(#s2)"/>
<path d="M143.4 236.4L146.2 234.5L149.1 232.5L154 229.4L159 226.5L166.2 222.2L173.5 217.8L183 211.7L192.5 205.5L203.4 199L214.3 192.6L221.6 188.5L228.9 184.5L236.2 180.7L243.5 177L243 175.8L235.7 179.6L228.4 183.5L221.1 187.5L213.8 191.7L202.9 198.2L191.9 204.9L182.5 211.1L173 217.3L165.7 221.7L158.4 226.1L153.5 229.1L148.6 232.3L145.7 234.2L142.8 236.2z" fill="url(#s1)" stroke="url(#s1)"/>
<path d="M143.9 236.6L146.8 234.7L149.7 232.8L154.6 229.7L159.5 226.8L166.8 222.6L174.1 218.3L183.5 212.2L193 206.1L203.9 199.7L214.9 193.5L222.2 189.5L229.4 185.6L236.7 181.9L244 178.3L243.5 177L236.2 180.7L228.9 184.5L221.6 188.5L214.3 192.6L203.4 199L192.5 205.5L183 211.7L173.5 217.8L166.2 222.2L159 226.5L154 229.4L149.1 232.5L146.2 234.5L143.4 236.4z" fill="url(#s0)" stroke="url(#s0)"/>
</g>
<path d="M28.7 194.7L28.7 106.1M28.7 194.7L142 240.5M142 240.5L251.3 194.2" stroke="#6a6a6a" stroke-width="0.8" fill="none"/>
<path d="M28.7 194.7L26.2 193.7M28.7 172.5L26.2 171.5M28.7 150.4L26.2 149.4M28.7 128.2L26.2 127.2M28.7 106.1L26.2 105.1M142 240.5L139.4 241.6M113.7 229.1L111.1 230.2M85.4 217.6L82.8 218.7M57 206.2L54.4 207.2M28.7 194.7L26.1 195.8M142 240.5L144.6 241.6M178.4 225.1L181 226.2M214.9 209.6L217.5 210.7M251.3 194.2L253.9 195.3" stroke="#6a6a6a" stroke-width="0.8" fill="none"/>
<g font-family='"Liberation Serif", serif' font-size="9" fill="#111">
<text x="25.1" y="196.7" text-anchor="end">20</text>
<text x="25.1" y="174.5" text-anchor="end">40</text>
<text x="25.1" y="152.4" text-anchor="end">60</text>
<text x="25.1" y="130.2" text-anchor="end">80</text>
<text x="25.1" y="108.1" text-anchor="end">100</text>
<text x="21" y="205" text-anchor="middle">80</text>
<text x="48.6" y="216" text-anchor="middle">60</text>
<text x="76.6" y="227.3" text-anchor="middle">40</text>
<text x="104.6" y="238.7" text-anchor="middle">20</text>
<text x="134" y="249.7" text-anchor="middle">0</text>
<text x="145.5" y="249.7" text-anchor="middle">0</text>
<text x="182" y="235" text-anchor="middle">5</text>
<text x="220.4" y="218.5" text-anchor="middle">10</text>
</g>
<g font-family='"Liberation Serif", serif' font-size="10.3" fill="#111">
<text x="29.2" y="241.9">Distance(mm)</text>
<text x="193.4" y="241.8">Power(W)</text>
<text transform="translate(9.3 151.5) rotate(-90)" text-anchor="middle">Temperature(C&#186;)</text>
</g>
<text x="1.0" y="274.5" font-family='"Liberation Serif", serif' font-size="14.6" fill="#111">(a)</text>
<defs><linearGradient id="jet" x1="0" y1="0" x2="0" y2="1"><stop offset="0.0000" stop-color="#800000"/><stop offset="0.0312" stop-color="#9f0000"/><stop offset="0.0625" stop-color="#bf0000"/><stop offset="0.0938" stop-color="#df0000"/><stop offset="0.1250" stop-color="#ff0000"/><stop offset="0.1562" stop-color="#ff2000"/><stop offset="0.1875" stop-color="#ff4000"/><stop offset="0.2188" stop-color="#ff6000"/><stop offset="0.2500" stop-color="#ff8000"/><stop offset="0.2812" stop-color="#ff9f00"/><stop offset="0.3125" stop-color="#ffbf00"/><stop offset="0.3438" stop-color="#ffdf00"/><stop offset="0.3750" stop-color="#ffff00"/><stop offset="0.4062" stop-color="#dfff20"/><stop offset="0.4375" stop-color="#bfff40"/><stop offset="0.4688" stop-color="#9fff60"/><stop offset="0.5000" stop-color="#80ff80"/><stop offset="0.5312" stop-color="#60ff9f"/><stop offset="0.5625" stop-color="#40ffbf"/><stop offset="0.5938" stop-color="#20ffdf"/><stop offset="0.6250" stop-color="#00ffff"/><stop offset="0.6562" stop-color="#00dfff"/><stop offset="0.6875" stop-color="#00bfff"/><stop offset="0.7188" stop-color="#009fff"/><stop offset="0.7500" stop-color="#0080ff"/><stop offset="0.7812" stop-color="#0060ff"/><stop offset="0.8125" stop-color="#0040ff"/><stop offset="0.8438" stop-color="#0020ff"/><stop offset="0.8750" stop-color="#0000ff"/><stop offset="0.9062" stop-color="#0000df"/><stop offset="0.9375" stop-color="#0000bf"/><stop offset="0.9688" stop-color="#00009f"/><stop offset="1.0000" stop-color="#000080"/></linearGradient></defs>
<rect x="255.1" y="59.7" width="6.6" height="180.6" fill="url(#jet)" stroke="#444" stroke-width="0.5"/>
<g font-family='"Liberation Serif", serif' font-size="9" fill="#111">
<text x="264.6" y="225.3">30</text>
<text x="264.6" y="202">40</text>
<text x="264.6" y="178.7">50</text>
<text x="264.6" y="155.3">60</text>
<text x="264.6" y="132">70</text>
<text x="264.6" y="108.7">80</text>
<text x="264.6" y="85.3">90</text>
</g>
<path d="M255.1 222.3h1.5M261.7 222.3h-1.5M255.1 199h1.5M261.7 199h-1.5M255.1 175.7h1.5M261.7 175.7h-1.5M255.1 152.3h1.5M261.7 152.3h-1.5M255.1 129h1.5M261.7 129h-1.5M255.1 105.7h1.5M261.7 105.7h-1.5M255.1 82.3h1.5M261.7 82.3h-1.5" stroke="#333" stroke-width="0.5" fill="none"/>
</g>
<g id="b">
<rect x="318.5" y="57.3" width="230.0" height="184.7" fill="#fff"/>
<clipPath id="clipb"><rect x="318.5" y="57.3" width="230.0" height="184.7"/></clipPath>
<g clip-path="url(#clipb)">
<path d="M318.5 235.9L319.7 235.9L320.9 235.9L322.1 235.9L323.4 235.9L324.6 235.9L325.8 235.9L327 235.9L328.2 235.9L329.4 235.9L330.6 235.9L331.9 235.9L333.1 235.8L334.3 235.8L335.5 235.8L336.7 235.7L337.9 235.7L339.1 235.6L340.4 235.6L341.6 235.5L342.8 235.5L344 235.4L345.2 235.4L346.4 235.3L347.6 235.3L348.9 235.2L350.1 235.2L351.3 235.1L352.5 235.1L353.7 235L354.9 235L356.1 235L357.3 234.9L358.6 234.9L359.8 234.9L361 234.9L362.2 234.9L363.4 234.9L364.6 234.8L365.8 234.8L367.1 234.8L368.3 234.8L369.5 234.8L370.7 234.8L371.9 234.8L373.1 234.8L374.3 234.8L375.6 234.8L376.8 234.8L378 234.8L379.2 234.8L380.4 234.9L381.6 234.9L382.8 234.9L384.1 234.9L385.3 234.9L386.5 234.9L387.7 234.9L388.9 234.9L390.1 235L391.3 235L392.6 235L393.8 235L395 235L396.2 235.1L397.4 235.1L398.6 235.1L399.8 235.1L401.1 235.1L402.3 235.2L403.5 235.2L404.7 235.2L405.9 235.2L407.1 235.2L408.3 235.2L409.6 235.3L410.8 235.3L412 235.3L413.2 235.3L414.4 235.3L415.6 235.2L416.8 235.2L418 235.2L419.3 235.2L420.5 235.2L421.7 235.2L422.9 235.2L424.1 235.2L425.3 235.2L426.5 235.2L427.8 235.2L429 235.2L430.2 235.2L431.4 235.2L432.6 235.3L433.8 235.3L435 235.3L436.3 235.3L437.5 235.3L438.7 235.3L439.9 235.3L441.1 235.3L442.3 235.3L443.5 235.3L444.8 235.3L446 235.4L447.2 235.4L448.4 235.4L449.6 235.4L450.8 235.4L452 235.4L453.3 235.4L454.5 235.4L455.7 235.5L456.9 235.5L458.1 235.5L459.3 235.5L460.5 235.5L461.8 235.5L463 235.5L464.2 235.6L465.4 235.6L466.6 235.6L467.8 235.6L469 235.6L470.2 235.7L471.5 235.7L472.7 235.7L473.9 235.7L475.1 235.7L476.3 235.8L477.5 235.8L478.7 235.8L480 235.8L481.2 235.8L482.4 235.8L483.6 235.8L484.8 235.8L486 235.8L487.2 235.9L488.5 235.9L489.7 235.9L490.9 235.9L492.1 235.9L493.3 235.9L494.5 235.9L495.7 235.9L497 235.9L498.2 235.9L499.4 235.9L500.6 235.9L501.8 235.9L503 236L504.2 236L505.5 236L506.7 236L507.9 236L509.1 236L510.3 236L511.5 236L512.7 236L514 236L515.2 236L516.4 236L517.6 236L518.8 236L520 236L521.2 236.1L522.5 236.1L523.7 236.1L524.9 236.1L526.1 236.1L527.3 236.1L528.5 236.1L529.7 236.1L531 236.1L532.2 236.1L533.4 236.1L534.6 236.1L535.8 236.2L537 236.2L538.2 236.2L539.4 236.2L540.7 236.2L541.9 236.2L543.1 236.2L544.3 236.3L545.5 236.3L546.7 236.3L547.9 236.3" fill="none" stroke="#222222" stroke-width="1.5" stroke-linejoin="round"/>
<path d="M316.8 234.2h3.5v3.5h-3.5z" fill="#fff" stroke="#222222" stroke-width="0.7"/>
<path d="M325.3 234.2h3.5v3.5h-3.5z" fill="#fff" stroke="#222222" stroke-width="0.7"/>
<path d="M333.8 234h3.5v3.5h-3.5z" fill="#fff" stroke="#222222" stroke-width="0.7"/>
<path d="M342.3 233.7h3.5v3.5h-3.5z" fill="#fff" stroke="#222222" stroke-width="0.7"/>
<path d="M350.7 233.3h3.5v3.5h-3.5z" fill="#fff" stroke="#222222" stroke-width="0.7"/>
<path d="M359.2 233.1h3.5v3.5h-3.5z" fill="#fff" stroke="#222222" stroke-width="0.7"/>
<path d="M367.7 233.1h3.5v3.5h-3.5z" fill="#fff" stroke="#222222" stroke-width="0.7"/>
<path d="M376.2 233.1h3.5v3.5h-3.5z" fill="#fff" stroke="#222222" stroke-width="0.7"/>
<path d="M384.7 233.2h3.5v3.5h-3.5z" fill="#fff" stroke="#222222" stroke-width="0.7"/>
<path d="M393.2 233.3h3.5v3.5h-3.5z" fill="#fff" stroke="#222222" stroke-width="0.7"/>
<path d="M401.7 233.4h3.5v3.5h-3.5z" fill="#fff" stroke="#222222" stroke-width="0.7"/>
<path d="M410.2 233.5h3.5v3.5h-3.5z" fill="#fff" stroke="#222222" stroke-width="0.7"/>
<path d="M418.7 233.5h3.5v3.5h-3.5z" fill="#fff" stroke="#222222" stroke-width="0.7"/>
<path d="M427.2 233.5h3.5v3.5h-3.5z" fill="#fff" stroke="#222222" stroke-width="0.7"/>
<path d="M435.7 233.5h3.5v3.5h-3.5z" fill="#fff" stroke="#222222" stroke-width="0.7"/>
<path d="M444.2 233.6h3.5v3.5h-3.5z" fill="#fff" stroke="#222222" stroke-width="0.7"/>
<path d="M452.7 233.7h3.5v3.5h-3.5z" fill="#fff" stroke="#222222" stroke-width="0.7"/>
<path d="M461.2 233.8h3.5v3.5h-3.5z" fill="#fff" stroke="#222222" stroke-width="0.7"/>
<path d="M469.7 233.9h3.5v3.5h-3.5z" fill="#fff" stroke="#222222" stroke-width="0.7"/>
<path d="M478.2 234.1h3.5v3.5h-3.5z" fill="#fff" stroke="#222222" stroke-width="0.7"/>
<path d="M486.7 234.1h3.5v3.5h-3.5z" fill="#fff" stroke="#222222" stroke-width="0.7"/>
<path d="M495.2 234.2h3.5v3.5h-3.5z" fill="#fff" stroke="#222222" stroke-width="0.7"/>
<path d="M503.7 234.2h3.5v3.5h-3.5z" fill="#fff" stroke="#222222" stroke-width="0.7"/>
<path d="M512.2 234.3h3.5v3.5h-3.5z" fill="#fff" stroke="#222222" stroke-width="0.7"/>
<path d="M520.7 234.3h3.5v3.5h-3.5z" fill="#fff" stroke="#222222" stroke-width="0.7"/>
<path d="M529.2 234.4h3.5v3.5h-3.5z" fill="#fff" stroke="#222222" stroke-width="0.7"/>
<path d="M537.7 234.5h3.5v3.5h-3.5z" fill="#fff" stroke="#222222" stroke-width="0.7"/>
<path d="M546.2 234.6h3.5v3.5h-3.5z" fill="#fff" stroke="#222222" stroke-width="0.7"/>
<path d="M318.5 233.2L319.7 233.1L320.9 233L322.1 232.9L323.4 232.8L324.6 232.7L325.8 232.6L327 232.5L328.2 232.4L329.4 232.2L330.6 232L331.9 231.8L333.1 231.6L334.3 231.3L335.5 231L336.7 230.7L337.9 230.3L339.1 229.9L340.4 229.5L341.6 229.1L342.8 228.6L344 228.2L345.2 227.7L346.4 227.3L347.6 226.9L348.9 226.5L350.1 226.1L351.3 225.8L352.5 225.4L353.7 225.1L354.9 224.9L356.1 224.7L357.3 224.5L358.6 224.3L359.8 224.1L361 224L362.2 223.9L363.4 223.8L364.6 223.7L365.8 223.6L367.1 223.6L368.3 223.5L369.5 223.5L370.7 223.5L371.9 223.5L373.1 223.5L374.3 223.5L375.6 223.6L376.8 223.6L378 223.7L379.2 223.7L380.4 223.8L381.6 223.8L382.8 223.9L384.1 224L385.3 224.1L386.5 224.2L387.7 224.3L388.9 224.4L390.1 224.5L391.3 224.6L392.6 224.8L393.8 224.9L395 225.1L396.2 225.2L397.4 225.4L398.6 225.6L399.8 225.8L401.1 226L402.3 226.1L403.5 226.3L404.7 226.4L405.9 226.5L407.1 226.6L408.3 226.7L409.6 226.8L410.8 226.8L412 226.8L413.2 226.8L414.4 226.7L415.6 226.7L416.8 226.6L418 226.6L419.3 226.5L420.5 226.5L421.7 226.5L422.9 226.5L424.1 226.5L425.3 226.5L426.5 226.5L427.8 226.5L429 226.6L430.2 226.6L431.4 226.7L432.6 226.8L433.8 226.8L435 226.9L436.3 226.9L437.5 227L438.7 227.1L439.9 227.2L441.1 227.2L442.3 227.3L443.5 227.4L444.8 227.5L446 227.5L447.2 227.6L448.4 227.7L449.6 227.8L450.8 227.9L452 228L453.3 228L454.5 228.1L455.7 228.3L456.9 228.4L458.1 228.5L459.3 228.6L460.5 228.7L461.8 228.8L463 229L464.2 229.1L465.4 229.2L466.6 229.4L467.8 229.5L469 229.7L470.2 229.8L471.5 230L472.7 230.1L473.9 230.2L475.1 230.4L476.3 230.5L477.5 230.6L478.7 230.7L480 230.8L481.2 230.9L482.4 231L483.6 231.1L484.8 231.1L486 231.2L487.2 231.3L488.5 231.3L489.7 231.4L490.9 231.4L492.1 231.5L493.3 231.6L494.5 231.6L495.7 231.7L497 231.7L498.2 231.8L499.4 231.8L500.6 231.9L501.8 231.9L503 232L504.2 232L505.5 232.1L506.7 232.1L507.9 232.2L509.1 232.2L510.3 232.3L511.5 232.3L512.7 232.4L514 232.4L515.2 232.5L516.4 232.5L517.6 232.6L518.8 232.7L520 232.7L521.2 232.8L522.5 232.8L523.7 232.9L524.9 232.9L526.1 233L527.3 233.1L528.5 233.1L529.7 233.2L531 233.3L532.2 233.3L533.4 233.4L534.6 233.5L535.8 233.5L537 233.6L538.2 233.7L539.4 233.8L540.7 233.9L541.9 234L543.1 234.1L544.3 234.2L545.5 234.4L546.7 234.5L547.9 234.7" fill="none" stroke="#ff2a18" stroke-width="1.5" stroke-linejoin="round"/>
<circle cx="318.5" cy="233.2" r="1.9" fill="#fff" stroke="#ff2a18" stroke-width="0.7"/>
<circle cx="327" cy="232.5" r="1.9" fill="#fff" stroke="#ff2a18" stroke-width="0.7"/>
<circle cx="335.5" cy="231" r="1.9" fill="#fff" stroke="#ff2a18" stroke-width="0.7"/>
<circle cx="344" cy="228.2" r="1.9" fill="#fff" stroke="#ff2a18" stroke-width="0.7"/>
<circle cx="352.5" cy="225.4" r="1.9" fill="#fff" stroke="#ff2a18" stroke-width="0.7"/>
<circle cx="361" cy="224" r="1.9" fill="#fff" stroke="#ff2a18" stroke-width="0.7"/>
<circle cx="369.5" cy="223.5" r="1.9" fill="#fff" stroke="#ff2a18" stroke-width="0.7"/>
<circle cx="378" cy="223.7" r="1.9" fill="#fff" stroke="#ff2a18" stroke-width="0.7"/>
<circle cx="386.5" cy="224.2" r="1.9" fill="#fff" stroke="#ff2a18" stroke-width="0.7"/>
<circle cx="395" cy="225.1" r="1.9" fill="#fff" stroke="#ff2a18" stroke-width="0.7"/>
<circle cx="403.5" cy="226.3" r="1.9" fill="#fff" stroke="#ff2a18" stroke-width="0.7"/>
<circle cx="412" cy="226.8" r="1.9" fill="#fff" stroke="#ff2a18" stroke-width="0.7"/>
<circle cx="420.5" cy="226.5" r="1.9" fill="#fff" stroke="#ff2a18" stroke-width="0.7"/>
<circle cx="429" cy="226.6" r="1.9" fill="#fff" stroke="#ff2a18" stroke-width="0.7"/>
<circle cx="437.5" cy="227" r="1.9" fill="#fff" stroke="#ff2a18" stroke-width="0.7"/>
<circle cx="446" cy="227.5" r="1.9" fill="#fff" stroke="#ff2a18" stroke-width="0.7"/>
<circle cx="454.5" cy="228.1" r="1.9" fill="#fff" stroke="#ff2a18" stroke-width="0.7"/>
<circle cx="463" cy="229" r="1.9" fill="#fff" stroke="#ff2a18" stroke-width="0.7"/>
<circle cx="471.5" cy="230" r="1.9" fill="#fff" stroke="#ff2a18" stroke-width="0.7"/>
<circle cx="480" cy="230.8" r="1.9" fill="#fff" stroke="#ff2a18" stroke-width="0.7"/>
<circle cx="488.5" cy="231.3" r="1.9" fill="#fff" stroke="#ff2a18" stroke-width="0.7"/>
<circle cx="497" cy="231.7" r="1.9" fill="#fff" stroke="#ff2a18" stroke-width="0.7"/>
<circle cx="505.5" cy="232.1" r="1.9" fill="#fff" stroke="#ff2a18" stroke-width="0.7"/>
<circle cx="514" cy="232.4" r="1.9" fill="#fff" stroke="#ff2a18" stroke-width="0.7"/>
<circle cx="522.5" cy="232.8" r="1.9" fill="#fff" stroke="#ff2a18" stroke-width="0.7"/>
<circle cx="531" cy="233.3" r="1.9" fill="#fff" stroke="#ff2a18" stroke-width="0.7"/>
<circle cx="539.4" cy="233.8" r="1.9" fill="#fff" stroke="#ff2a18" stroke-width="0.7"/>
<circle cx="547.9" cy="234.7" r="1.9" fill="#fff" stroke="#ff2a18" stroke-width="0.7"/>
<path d="M318.5 229.7L319.7 229.4L320.9 229.2L322.1 228.9L323.4 228.7L324.6 228.5L325.8 228.2L327 227.9L328.2 227.6L329.4 227.3L330.6 226.9L331.9 226.4L333.1 225.9L334.3 225.3L335.5 224.6L336.7 223.9L337.9 223.1L339.1 222.2L340.4 221.3L341.6 220.4L342.8 219.4L344 218.5L345.2 217.5L346.4 216.6L347.6 215.6L348.9 214.8L350.1 213.9L351.3 213.2L352.5 212.5L353.7 211.8L354.9 211.3L356.1 210.8L357.3 210.4L358.6 210L359.8 209.6L361 209.3L362.2 209.1L363.4 208.9L364.6 208.7L365.8 208.5L367.1 208.4L368.3 208.3L369.5 208.3L370.7 208.2L371.9 208.2L373.1 208.3L374.3 208.3L375.6 208.4L376.8 208.5L378 208.6L379.2 208.7L380.4 208.9L381.6 209L382.8 209.2L384.1 209.4L385.3 209.6L386.5 209.8L387.7 210L388.9 210.2L390.1 210.5L391.3 210.7L392.6 211L393.8 211.3L395 211.7L396.2 212L397.4 212.4L398.6 212.8L399.8 213.2L401.1 213.6L402.3 214L403.5 214.3L404.7 214.6L405.9 214.8L407.1 215L408.3 215.2L409.6 215.3L410.8 215.4L412 215.4L413.2 215.4L414.4 215.3L415.6 215.2L416.8 215.1L418 214.9L419.3 214.8L420.5 214.7L421.7 214.7L422.9 214.7L424.1 214.7L425.3 214.7L426.5 214.8L427.8 214.9L429 215L430.2 215.1L431.4 215.2L432.6 215.3L433.8 215.4L435 215.6L436.3 215.7L437.5 215.9L438.7 216L439.9 216.2L441.1 216.3L442.3 216.5L443.5 216.7L444.8 216.8L446 217L447.2 217.2L448.4 217.4L449.6 217.5L450.8 217.7L452 217.9L453.3 218.1L454.5 218.3L455.7 218.6L456.9 218.8L458.1 219L459.3 219.3L460.5 219.5L461.8 219.8L463 220.1L464.2 220.4L465.4 220.7L466.6 221L467.8 221.3L469 221.6L470.2 221.9L471.5 222.2L472.7 222.6L473.9 222.9L475.1 223.2L476.3 223.4L477.5 223.7L478.7 224L480 224.2L481.2 224.4L482.4 224.5L483.6 224.7L484.8 224.8L486 225L487.2 225.1L488.5 225.2L489.7 225.3L490.9 225.5L492.1 225.6L493.3 225.7L494.5 225.9L495.7 226L497 226.1L498.2 226.2L499.4 226.3L500.6 226.4L501.8 226.5L503 226.6L504.2 226.7L505.5 226.8L506.7 226.9L507.9 227L509.1 227.1L510.3 227.3L511.5 227.4L512.7 227.5L514 227.6L515.2 227.7L516.4 227.9L517.6 228L518.8 228.1L520 228.2L521.2 228.3L522.5 228.5L523.7 228.6L524.9 228.7L526.1 228.8L527.3 229L528.5 229.1L529.7 229.3L531 229.4L532.2 229.5L533.4 229.7L534.6 229.8L535.8 230L537 230.2L538.2 230.4L539.4 230.6L540.7 230.8L541.9 231L543.1 231.2L544.3 231.5L545.5 231.8L546.7 232.1L547.9 232.4" fill="none" stroke="#2020d8" stroke-width="1.5" stroke-linejoin="round"/>
<path d="M318.5 227.3L320.8 231.3L316.2 231.3z" fill="#fff" stroke="#2020d8" stroke-width="0.7"/>
<path d="M327 225.6L329.3 229.6L324.7 229.6z" fill="#fff" stroke="#2020d8" stroke-width="0.7"/>
<path d="M335.5 222.3L337.8 226.3L333.2 226.3z" fill="#fff" stroke="#2020d8" stroke-width="0.7"/>
<path d="M344 216.1L346.2 220.1L341.7 220.1z" fill="#fff" stroke="#2020d8" stroke-width="0.7"/>
<path d="M352.5 210.1L354.7 214.1L350.2 214.1z" fill="#fff" stroke="#2020d8" stroke-width="0.7"/>
<path d="M361 207L363.2 211L358.7 211z" fill="#fff" stroke="#2020d8" stroke-width="0.7"/>
<path d="M369.5 205.9L371.7 209.9L367.2 209.9z" fill="#fff" stroke="#2020d8" stroke-width="0.7"/>
<path d="M378 206.3L380.2 210.2L375.7 210.2z" fill="#fff" stroke="#2020d8" stroke-width="0.7"/>
<path d="M386.5 207.4L388.7 211.4L384.2 211.4z" fill="#fff" stroke="#2020d8" stroke-width="0.7"/>
<path d="M395 209.3L397.2 213.3L392.7 213.3z" fill="#fff" stroke="#2020d8" stroke-width="0.7"/>
<path d="M403.5 211.9L405.7 215.9L401.2 215.9z" fill="#fff" stroke="#2020d8" stroke-width="0.7"/>
<path d="M412 213L414.2 217L409.7 217z" fill="#fff" stroke="#2020d8" stroke-width="0.7"/>
<path d="M420.5 212.4L422.7 216.4L418.2 216.4z" fill="#fff" stroke="#2020d8" stroke-width="0.7"/>
<path d="M429 212.6L431.2 216.6L426.7 216.6z" fill="#fff" stroke="#2020d8" stroke-width="0.7"/>
<path d="M437.5 213.5L439.7 217.5L435.2 217.5z" fill="#fff" stroke="#2020d8" stroke-width="0.7"/>
<path d="M446 214.6L448.2 218.6L443.7 218.6z" fill="#fff" stroke="#2020d8" stroke-width="0.7"/>
<path d="M454.5 216L456.7 220L452.2 220z" fill="#fff" stroke="#2020d8" stroke-width="0.7"/>
<path d="M463 217.7L465.2 221.7L460.7 221.7z" fill="#fff" stroke="#2020d8" stroke-width="0.7"/>
<path d="M471.5 219.9L473.7 223.9L469.2 223.9z" fill="#fff" stroke="#2020d8" stroke-width="0.7"/>
<path d="M480 221.8L482.2 225.8L477.7 225.8z" fill="#fff" stroke="#2020d8" stroke-width="0.7"/>
<path d="M488.5 222.9L490.7 226.9L486.2 226.9z" fill="#fff" stroke="#2020d8" stroke-width="0.7"/>
<path d="M497 223.8L499.2 227.8L494.7 227.8z" fill="#fff" stroke="#2020d8" stroke-width="0.7"/>
<path d="M505.5 224.5L507.7 228.5L503.2 228.5z" fill="#fff" stroke="#2020d8" stroke-width="0.7"/>
<path d="M514 225.3L516.2 229.3L511.7 229.3z" fill="#fff" stroke="#2020d8" stroke-width="0.7"/>
<path d="M522.5 226.1L524.7 230.1L520.2 230.1z" fill="#fff" stroke="#2020d8" stroke-width="0.7"/>
<path d="M531 227L533.2 231L528.7 231z" fill="#fff" stroke="#2020d8" stroke-width="0.7"/>
<path d="M539.4 228.2L541.7 232.2L537.2 232.2z" fill="#fff" stroke="#2020d8" stroke-width="0.7"/>
<path d="M547.9 230.1L550.2 234.1L545.7 234.1z" fill="#fff" stroke="#2020d8" stroke-width="0.7"/>
<path d="M318.5 225.1L319.7 224.5L320.9 223.9L322.1 223.4L323.4 222.8L324.6 222.2L325.8 221.7L327 221L328.2 220.4L329.4 219.6L330.6 218.8L331.9 217.9L333.1 216.9L334.3 215.8L335.5 214.5L336.7 213.1L337.9 211.5L339.1 209.8L340.4 208.1L341.6 206.3L342.8 204.5L344 202.6L345.2 200.8L346.4 199L347.6 197.3L348.9 195.6L350.1 194.1L351.3 192.6L352.5 191.3L353.7 190.1L354.9 189L356.1 188.1L357.3 187.2L358.6 186.5L359.8 185.9L361 185.3L362.2 184.8L363.4 184.4L364.6 184.1L365.8 183.8L367.1 183.5L368.3 183.4L369.5 183.3L370.7 183.2L371.9 183.2L373.1 183.3L374.3 183.4L375.6 183.5L376.8 183.7L378 183.9L379.2 184.1L380.4 184.4L381.6 184.7L382.8 185L384.1 185.3L385.3 185.7L386.5 186L387.7 186.5L388.9 186.9L390.1 187.4L391.3 187.9L392.6 188.4L393.8 189L395 189.7L396.2 190.4L397.4 191.1L398.6 191.8L399.8 192.6L401.1 193.3L402.3 194L403.5 194.6L404.7 195.2L405.9 195.6L407.1 196L408.3 196.3L409.6 196.5L410.8 196.7L412 196.7L413.2 196.6L414.4 196.5L415.6 196.3L416.8 196L418 195.8L419.3 195.6L420.5 195.4L421.7 195.3L422.9 195.3L424.1 195.3L425.3 195.4L426.5 195.5L427.8 195.7L429 195.9L430.2 196.1L431.4 196.3L432.6 196.5L433.8 196.8L435 197L436.3 197.3L437.5 197.6L438.7 197.9L439.9 198.2L441.1 198.5L442.3 198.8L443.5 199.1L444.8 199.4L446 199.7L447.2 200L448.4 200.4L449.6 200.7L450.8 201.1L452 201.4L453.3 201.8L454.5 202.2L455.7 202.6L456.9 203.1L458.1 203.5L459.3 204L460.5 204.5L461.8 205L463 205.5L464.2 206.1L465.4 206.7L466.6 207.2L467.8 207.8L469 208.4L470.2 209L471.5 209.6L472.7 210.2L473.9 210.7L475.1 211.3L476.3 211.8L477.5 212.3L478.7 212.8L480 213.2L481.2 213.6L482.4 213.9L483.6 214.2L484.8 214.5L486 214.7L487.2 214.9L488.5 215.2L489.7 215.4L490.9 215.7L492.1 215.9L493.3 216.2L494.5 216.4L495.7 216.7L497 216.9L498.2 217.1L499.4 217.3L500.6 217.5L501.8 217.7L503 217.8L504.2 218L505.5 218.2L506.7 218.4L507.9 218.6L509.1 218.8L510.3 219L511.5 219.3L512.7 219.5L514 219.7L515.2 219.9L516.4 220.1L517.6 220.4L518.8 220.6L520 220.8L521.2 221.1L522.5 221.3L523.7 221.5L524.9 221.8L526.1 222L527.3 222.3L528.5 222.5L529.7 222.8L531 223.1L532.2 223.3L533.4 223.6L534.6 223.9L535.8 224.2L537 224.5L538.2 224.9L539.4 225.2L540.7 225.6L541.9 226.1L543.1 226.5L544.3 227L545.5 227.6L546.7 228.1L547.9 228.8" fill="none" stroke="#1f9a72" stroke-width="1.5" stroke-linejoin="round"/>
<path d="M318.5 227.5L320.8 223.5L316.2 223.5z" fill="#fff" stroke="#1f9a72" stroke-width="0.7"/>
<path d="M327 223.4L329.3 219.4L324.7 219.4z" fill="#fff" stroke="#1f9a72" stroke-width="0.7"/>
<path d="M335.5 216.9L337.8 212.9L333.2 212.9z" fill="#fff" stroke="#1f9a72" stroke-width="0.7"/>
<path d="M344 205L346.2 201L341.7 201z" fill="#fff" stroke="#1f9a72" stroke-width="0.7"/>
<path d="M352.5 193.6L354.7 189.6L350.2 189.6z" fill="#fff" stroke="#1f9a72" stroke-width="0.7"/>
<path d="M361 187.7L363.2 183.7L358.7 183.7z" fill="#fff" stroke="#1f9a72" stroke-width="0.7"/>
<path d="M369.5 185.6L371.7 181.6L367.2 181.6z" fill="#fff" stroke="#1f9a72" stroke-width="0.7"/>
<path d="M378 186.2L380.2 182.3L375.7 182.3z" fill="#fff" stroke="#1f9a72" stroke-width="0.7"/>
<path d="M386.5 188.4L388.7 184.4L384.2 184.4z" fill="#fff" stroke="#1f9a72" stroke-width="0.7"/>
<path d="M395 192L397.2 188L392.7 188z" fill="#fff" stroke="#1f9a72" stroke-width="0.7"/>
<path d="M403.5 197L405.7 193L401.2 193z" fill="#fff" stroke="#1f9a72" stroke-width="0.7"/>
<path d="M412 199L414.2 195L409.7 195z" fill="#fff" stroke="#1f9a72" stroke-width="0.7"/>
<path d="M420.5 197.8L422.7 193.8L418.2 193.8z" fill="#fff" stroke="#1f9a72" stroke-width="0.7"/>
<path d="M429 198.2L431.2 194.2L426.7 194.2z" fill="#fff" stroke="#1f9a72" stroke-width="0.7"/>
<path d="M437.5 199.9L439.7 195.9L435.2 195.9z" fill="#fff" stroke="#1f9a72" stroke-width="0.7"/>
<path d="M446 202.1L448.2 198.1L443.7 198.1z" fill="#fff" stroke="#1f9a72" stroke-width="0.7"/>
<path d="M454.5 204.6L456.7 200.6L452.2 200.6z" fill="#fff" stroke="#1f9a72" stroke-width="0.7"/>
<path d="M463 207.9L465.2 203.9L460.7 203.9z" fill="#fff" stroke="#1f9a72" stroke-width="0.7"/>
<path d="M471.5 211.9L473.7 207.9L469.2 207.9z" fill="#fff" stroke="#1f9a72" stroke-width="0.7"/>
<path d="M480 215.6L482.2 211.6L477.7 211.6z" fill="#fff" stroke="#1f9a72" stroke-width="0.7"/>
<path d="M488.5 217.5L490.7 213.5L486.2 213.5z" fill="#fff" stroke="#1f9a72" stroke-width="0.7"/>
<path d="M497 219.3L499.2 215.3L494.7 215.3z" fill="#fff" stroke="#1f9a72" stroke-width="0.7"/>
<path d="M505.5 220.6L507.7 216.6L503.2 216.6z" fill="#fff" stroke="#1f9a72" stroke-width="0.7"/>
<path d="M514 222.1L516.2 218.1L511.7 218.1z" fill="#fff" stroke="#1f9a72" stroke-width="0.7"/>
<path d="M522.5 223.7L524.7 219.7L520.2 219.7z" fill="#fff" stroke="#1f9a72" stroke-width="0.7"/>
<path d="M531 225.4L533.2 221.4L528.7 221.4z" fill="#fff" stroke="#1f9a72" stroke-width="0.7"/>
<path d="M539.4 227.6L541.7 223.6L537.2 223.6z" fill="#fff" stroke="#1f9a72" stroke-width="0.7"/>
<path d="M547.9 231.1L550.2 227.1L545.7 227.1z" fill="#fff" stroke="#1f9a72" stroke-width="0.7"/>
<path d="M318.5 216.9L319.7 216.1L320.9 215.3L322.1 214.5L323.4 213.7L324.6 212.9L325.8 212.1L327 211.2L328.2 210.2L329.4 209.1L330.6 207.8L331.9 206.4L333.1 204.9L334.3 203.1L335.5 201.1L336.7 198.9L337.9 196.4L339.1 193.8L340.4 191L341.6 188.2L342.8 185.3L344 182.4L345.2 179.5L346.4 176.7L347.6 173.9L348.9 171.3L350.1 168.8L351.3 166.5L352.5 164.4L353.7 162.5L354.9 160.8L356.1 159.3L357.3 158L358.6 156.8L359.8 155.8L361 155L362.2 154.2L363.4 153.5L364.6 152.9L365.8 152.5L367.1 152.1L368.3 151.9L369.5 151.7L370.7 151.6L371.9 151.6L373.1 151.7L374.3 151.9L375.6 152.1L376.8 152.4L378 152.7L379.2 153.1L380.4 153.5L381.6 153.9L382.8 154.4L384.1 155L385.3 155.5L386.5 156.1L387.7 156.8L388.9 157.5L390.1 158.3L391.3 159.1L392.6 159.9L393.8 160.9L395 161.9L396.2 163L397.4 164.2L398.6 165.4L399.8 166.5L401.1 167.7L402.3 168.8L403.5 169.8L404.7 170.6L405.9 171.4L407.1 172L408.3 172.5L409.6 172.8L410.8 173L412 173.1L413.2 173L414.4 172.7L415.6 172.4L416.8 172.1L418 171.7L419.3 171.4L420.5 171.1L421.7 170.9L422.9 170.9L424.1 170.9L425.3 171L426.5 171.2L427.8 171.5L429 171.8L430.2 172.1L431.4 172.4L432.6 172.8L433.8 173.2L435 173.6L436.3 174.1L437.5 174.5L438.7 175L439.9 175.4L441.1 175.9L442.3 176.4L443.5 176.9L444.8 177.4L446 177.9L447.2 178.4L448.4 178.9L449.6 179.5L450.8 180L452 180.6L453.3 181.2L454.5 181.9L455.7 182.5L456.9 183.2L458.1 184L459.3 184.7L460.5 185.5L461.8 186.3L463 187.2L464.2 188.1L465.4 189L466.6 189.9L467.8 190.8L469 191.7L470.2 192.7L471.5 193.6L472.7 194.5L473.9 195.5L475.1 196.3L476.3 197.2L477.5 198L478.7 198.7L480 199.4L481.2 200L482.4 200.5L483.6 201L484.8 201.4L486 201.8L487.2 202.1L488.5 202.5L489.7 202.9L490.9 203.3L492.1 203.7L493.3 204.1L494.5 204.5L495.7 204.9L497 205.3L498.2 205.6L499.4 205.9L500.6 206.2L501.8 206.5L503 206.8L504.2 207.1L505.5 207.3L506.7 207.7L507.9 208L509.1 208.3L510.3 208.7L511.5 209L512.7 209.4L514 209.7L515.2 210.1L516.4 210.4L517.6 210.8L518.8 211.1L520 211.5L521.2 211.9L522.5 212.3L523.7 212.6L524.9 213L526.1 213.4L527.3 213.8L528.5 214.2L529.7 214.6L531 215.1L532.2 215.5L533.4 215.9L534.6 216.4L535.8 216.9L537 217.4L538.2 218L539.4 218.5L540.7 219.2L541.9 219.8L543.1 220.6L544.3 221.4L545.5 222.2L546.7 223.1L547.9 224.1" fill="none" stroke="#ff28cc" stroke-width="1.5" stroke-linejoin="round"/>
<path d="M316.1 216.9L320.1 214.7L320.1 219.2z" fill="#fff" stroke="#ff28cc" stroke-width="0.7"/>
<path d="M324.6 211.2L328.6 208.9L328.6 213.4z" fill="#fff" stroke="#ff28cc" stroke-width="0.7"/>
<path d="M333.1 201.1L337.1 198.8L337.1 203.3z" fill="#fff" stroke="#ff28cc" stroke-width="0.7"/>
<path d="M341.6 182.4L345.6 180.1L345.6 184.6z" fill="#fff" stroke="#ff28cc" stroke-width="0.7"/>
<path d="M350.1 164.4L354.1 162.1L354.1 166.6z" fill="#fff" stroke="#ff28cc" stroke-width="0.7"/>
<path d="M358.6 155L362.6 152.7L362.6 157.2z" fill="#fff" stroke="#ff28cc" stroke-width="0.7"/>
<path d="M367.1 151.7L371.1 149.4L371.1 153.9z" fill="#fff" stroke="#ff28cc" stroke-width="0.7"/>
<path d="M375.6 152.7L379.6 150.5L379.6 155z" fill="#fff" stroke="#ff28cc" stroke-width="0.7"/>
<path d="M384.1 156.1L388.1 153.9L388.1 158.4z" fill="#fff" stroke="#ff28cc" stroke-width="0.7"/>
<path d="M392.6 161.9L396.6 159.7L396.6 164.2z" fill="#fff" stroke="#ff28cc" stroke-width="0.7"/>
<path d="M401.1 169.8L405.1 167.5L405.1 172z" fill="#fff" stroke="#ff28cc" stroke-width="0.7"/>
<path d="M409.6 173.1L413.6 170.8L413.6 175.3z" fill="#fff" stroke="#ff28cc" stroke-width="0.7"/>
<path d="M418.1 171.1L422.1 168.8L422.1 173.3z" fill="#fff" stroke="#ff28cc" stroke-width="0.7"/>
<path d="M426.6 171.8L430.6 169.5L430.6 174z" fill="#fff" stroke="#ff28cc" stroke-width="0.7"/>
<path d="M435.1 174.5L439.1 172.3L439.1 176.8z" fill="#fff" stroke="#ff28cc" stroke-width="0.7"/>
<path d="M443.6 177.9L447.6 175.6L447.6 180.1z" fill="#fff" stroke="#ff28cc" stroke-width="0.7"/>
<path d="M452.1 181.9L456.1 179.6L456.1 184.1z" fill="#fff" stroke="#ff28cc" stroke-width="0.7"/>
<path d="M460.6 187.2L464.6 184.9L464.6 189.4z" fill="#fff" stroke="#ff28cc" stroke-width="0.7"/>
<path d="M469.1 193.6L473.1 191.3L473.1 195.9z" fill="#fff" stroke="#ff28cc" stroke-width="0.7"/>
<path d="M477.6 199.4L481.6 197.1L481.6 201.7z" fill="#fff" stroke="#ff28cc" stroke-width="0.7"/>
<path d="M486.1 202.5L490.1 200.3L490.1 204.8z" fill="#fff" stroke="#ff28cc" stroke-width="0.7"/>
<path d="M494.6 205.3L498.6 203L498.6 207.5z" fill="#fff" stroke="#ff28cc" stroke-width="0.7"/>
<path d="M503.1 207.3L507.1 205.1L507.1 209.6z" fill="#fff" stroke="#ff28cc" stroke-width="0.7"/>
<path d="M511.6 209.7L515.6 207.5L515.6 212z" fill="#fff" stroke="#ff28cc" stroke-width="0.7"/>
<path d="M520.1 212.3L524.1 210L524.1 214.5z" fill="#fff" stroke="#ff28cc" stroke-width="0.7"/>
<path d="M528.6 215.1L532.6 212.8L532.6 217.3z" fill="#fff" stroke="#ff28cc" stroke-width="0.7"/>
<path d="M537.1 218.5L541.1 216.3L541.1 220.8z" fill="#fff" stroke="#ff28cc" stroke-width="0.7"/>
<path d="M545.6 224.1L549.6 221.9L549.6 226.4z" fill="#fff" stroke="#ff28cc" stroke-width="0.7"/>
<path d="M318.5 210.3L319.7 208.8L320.9 207.5L322.1 206.1L323.4 204.8L324.6 203.5L325.8 202.2L327 200.8L328.2 199.2L329.4 197.5L330.6 195.6L331.9 193.5L333.1 191.1L334.3 188.5L335.5 185.5L336.7 182.2L337.9 178.6L339.1 174.8L340.4 170.7L341.6 166.6L342.8 162.3L344 158.1L345.2 153.9L346.4 149.7L347.6 145.7L348.9 141.8L350.1 138.2L351.3 134.8L352.5 131.7L353.7 129L354.9 126.5L356.1 124.3L357.3 122.4L358.6 120.7L359.8 119.3L361 118L362.2 116.8L363.4 115.9L364.6 115L365.8 114.4L367.1 113.8L368.3 113.4L369.5 113.2L370.7 113.1L371.9 113.1L373.1 113.2L374.3 113.5L375.6 113.8L376.8 114.2L378 114.7L379.2 115.2L380.4 115.8L381.6 116.5L382.8 117.2L384.1 117.9L385.3 118.8L386.5 119.7L387.7 120.6L388.9 121.6L390.1 122.7L391.3 123.9L392.6 125.2L393.8 126.5L395 128L396.2 129.6L397.4 131.3L398.6 133L399.8 134.8L401.1 136.4L402.3 138L403.5 139.4L404.7 140.7L405.9 141.8L407.1 142.7L408.3 143.4L409.6 143.9L410.8 144.2L412 144.3L413.2 144.1L414.4 143.8L415.6 143.3L416.8 142.8L418 142.3L419.3 141.8L420.5 141.4L421.7 141.1L422.9 141L424.1 141L425.3 141.2L426.5 141.5L427.8 141.9L429 142.4L430.2 142.8L431.4 143.3L432.6 143.9L433.8 144.5L435 145.1L436.3 145.7L437.5 146.4L438.7 147L439.9 147.7L441.1 148.4L442.3 149.1L443.5 149.8L444.8 150.5L446 151.3L447.2 152L448.4 152.8L449.6 153.6L450.8 154.4L452 155.2L453.3 156.1L454.5 157L455.7 158L456.9 159L458.1 160.1L459.3 161.2L460.5 162.4L461.8 163.5L463 164.8L464.2 166L465.4 167.3L466.6 168.7L467.8 170L469 171.4L470.2 172.7L471.5 174.1L472.7 175.5L473.9 176.8L475.1 178.1L476.3 179.3L477.5 180.5L478.7 181.6L480 182.5L481.2 183.4L482.4 184.1L483.6 184.8L484.8 185.4L486 186L487.2 186.5L488.5 187.1L489.7 187.6L490.9 188.2L492.1 188.8L493.3 189.4L494.5 190L495.7 190.5L497 191L498.2 191.5L499.4 192L500.6 192.4L501.8 192.8L503 193.2L504.2 193.7L505.5 194.1L506.7 194.5L507.9 195L509.1 195.5L510.3 196L511.5 196.5L512.7 197L514 197.5L515.2 198.1L516.4 198.6L517.6 199.1L518.8 199.6L520 200.1L521.2 200.7L522.5 201.2L523.7 201.8L524.9 202.3L526.1 202.9L527.3 203.5L528.5 204.1L529.7 204.7L531 205.3L532.2 205.9L533.4 206.6L534.6 207.3L535.8 208L537 208.7L538.2 209.5L539.4 210.4L540.7 211.3L541.9 212.3L543.1 213.3L544.3 214.5L545.5 215.7L546.7 217.1L547.9 218.5" fill="none" stroke="#9c8c14" stroke-width="1.5" stroke-linejoin="round"/>
<path d="M320.9 210.3L316.9 208L316.9 212.5z" fill="#fff" stroke="#9c8c14" stroke-width="0.7"/>
<path d="M329.4 200.8L325.4 198.5L325.4 203z" fill="#fff" stroke="#9c8c14" stroke-width="0.7"/>
<path d="M337.9 185.5L333.9 183.3L333.9 187.8z" fill="#fff" stroke="#9c8c14" stroke-width="0.7"/>
<path d="M346.4 158.1L342.4 155.8L342.4 160.3z" fill="#fff" stroke="#9c8c14" stroke-width="0.7"/>
<path d="M354.8 131.7L350.9 129.5L350.9 134z" fill="#fff" stroke="#9c8c14" stroke-width="0.7"/>
<path d="M363.3 118L359.4 115.7L359.4 120.2z" fill="#fff" stroke="#9c8c14" stroke-width="0.7"/>
<path d="M371.8 113.2L367.8 110.9L367.8 115.5z" fill="#fff" stroke="#9c8c14" stroke-width="0.7"/>
<path d="M380.3 114.7L376.3 112.4L376.3 116.9z" fill="#fff" stroke="#9c8c14" stroke-width="0.7"/>
<path d="M388.8 119.7L384.8 117.4L384.8 121.9z" fill="#fff" stroke="#9c8c14" stroke-width="0.7"/>
<path d="M397.3 128L393.3 125.8L393.3 130.3z" fill="#fff" stroke="#9c8c14" stroke-width="0.7"/>
<path d="M405.8 139.4L401.8 137.2L401.8 141.7z" fill="#fff" stroke="#9c8c14" stroke-width="0.7"/>
<path d="M414.3 144.3L410.3 142L410.3 146.5z" fill="#fff" stroke="#9c8c14" stroke-width="0.7"/>
<path d="M422.8 141.4L418.8 139.1L418.8 143.6z" fill="#fff" stroke="#9c8c14" stroke-width="0.7"/>
<path d="M431.3 142.4L427.3 140.1L427.3 144.6z" fill="#fff" stroke="#9c8c14" stroke-width="0.7"/>
<path d="M439.8 146.4L435.8 144.1L435.8 148.6z" fill="#fff" stroke="#9c8c14" stroke-width="0.7"/>
<path d="M448.3 151.3L444.3 149L444.3 153.5z" fill="#fff" stroke="#9c8c14" stroke-width="0.7"/>
<path d="M456.8 157L452.8 154.8L452.8 159.3z" fill="#fff" stroke="#9c8c14" stroke-width="0.7"/>
<path d="M465.3 164.8L461.3 162.5L461.3 167z" fill="#fff" stroke="#9c8c14" stroke-width="0.7"/>
<path d="M473.8 174.1L469.8 171.9L469.8 176.4z" fill="#fff" stroke="#9c8c14" stroke-width="0.7"/>
<path d="M482.3 182.5L478.3 180.3L478.3 184.8z" fill="#fff" stroke="#9c8c14" stroke-width="0.7"/>
<path d="M490.8 187.1L486.8 184.8L486.8 189.3z" fill="#fff" stroke="#9c8c14" stroke-width="0.7"/>
<path d="M499.3 191L495.3 188.8L495.3 193.3z" fill="#fff" stroke="#9c8c14" stroke-width="0.7"/>
<path d="M507.8 194.1L503.8 191.8L503.8 196.3z" fill="#fff" stroke="#9c8c14" stroke-width="0.7"/>
<path d="M516.3 197.5L512.3 195.3L512.3 199.8z" fill="#fff" stroke="#9c8c14" stroke-width="0.7"/>
<path d="M524.8 201.2L520.8 199L520.8 203.5z" fill="#fff" stroke="#9c8c14" stroke-width="0.7"/>
<path d="M533.3 205.3L529.3 203.1L529.3 207.6z" fill="#fff" stroke="#9c8c14" stroke-width="0.7"/>
<path d="M541.8 210.4L537.8 208.1L537.8 212.6z" fill="#fff" stroke="#9c8c14" stroke-width="0.7"/>
<path d="M550.3 218.5L546.3 216.2L546.3 220.8z" fill="#fff" stroke="#9c8c14" stroke-width="0.7"/>
<path d="M318.5 204.8L319.7 202.5L320.9 200.3L322.1 198.2L323.4 196.2L324.6 194.2L325.8 192.2L327 190L328.2 187.7L329.4 185.3L330.6 182.6L331.9 179.6L333.1 176.3L334.3 172.6L335.5 168.5L336.7 163.9L337.9 159L339.1 153.7L340.4 148.2L341.6 142.5L342.8 136.7L344 130.9L345.2 125.1L346.4 119.5L347.6 114L348.9 108.7L350.1 103.8L351.3 99.2L352.5 95L353.7 91.2L354.9 87.9L356.1 84.9L357.3 82.3L358.6 80L359.8 78L361 76.3L362.2 74.7L363.4 73.4L364.6 72.3L365.8 71.3L367.1 70.6L368.3 70.1L369.5 69.7L370.7 69.6L371.9 69.6L373.1 69.8L374.3 70.1L375.6 70.5L376.8 71.1L378 71.7L379.2 72.4L380.4 73.2L381.6 74.1L382.8 75.1L384.1 76.1L385.3 77.2L386.5 78.4L387.7 79.7L388.9 81.1L390.1 82.6L391.3 84.2L392.6 85.9L393.8 87.7L395 89.8L396.2 91.9L397.4 94.2L398.6 96.5L399.8 98.8L401.1 101.1L402.3 103.2L403.5 105.2L404.7 106.9L405.9 108.4L407.1 109.6L408.3 110.6L409.6 111.3L410.8 111.6L412 111.7L413.2 111.5L414.4 111L415.6 110.4L416.8 109.7L418 109L419.3 108.3L420.5 107.8L421.7 107.5L422.9 107.3L424.1 107.4L425.3 107.5L426.5 107.8L427.8 108.2L429 108.7L430.2 109.2L431.4 109.8L432.6 110.4L433.8 111.1L435 111.8L436.3 112.5L437.5 113.2L438.7 114L439.9 114.8L441.1 115.6L442.3 116.5L443.5 117.3L444.8 118.2L446 119.1L447.2 120L448.4 121L449.6 121.9L450.8 123L452 124L453.3 125.1L454.5 126.3L455.7 127.5L456.9 128.8L458.1 130.2L459.3 131.6L460.5 133.1L461.8 134.7L463 136.3L464.2 138L465.4 139.7L466.6 141.4L467.8 143.2L469 145L470.2 146.9L471.5 148.7L472.7 150.5L473.9 152.3L475.1 154.1L476.3 155.7L477.5 157.3L478.7 158.7L480 160L481.2 161.1L482.4 162.1L483.6 163L484.8 163.7L486 164.5L487.2 165.2L488.5 165.9L489.7 166.6L490.9 167.4L492.1 168.2L493.3 168.9L494.5 169.7L495.7 170.4L497 171.1L498.2 171.7L499.4 172.3L500.6 172.9L501.8 173.4L503 173.9L504.2 174.5L505.5 175L506.7 175.6L507.9 176.2L509.1 176.9L510.3 177.5L511.5 178.2L512.7 178.9L514 179.6L515.2 180.3L516.4 181L517.6 181.7L518.8 182.4L520 183.1L521.2 183.8L522.5 184.6L523.7 185.3L524.9 186.1L526.1 186.9L527.3 187.7L528.5 188.5L529.7 189.4L531 190.2L532.2 191.1L533.4 192L534.6 193L535.8 194L537 195L538.2 196.2L539.4 197.4L540.7 198.7L541.9 200.2L543.1 201.7L544.3 203.4L545.5 205.2L546.7 207.2L547.9 209.4" fill="none" stroke="#1c1c70" stroke-width="1.5" stroke-linejoin="round"/>
<path d="M318.5 202.3L321 204.8L318.5 207.3L316 204.8z" fill="#fff" stroke="#1c1c70" stroke-width="0.7"/>
<path d="M327 187.6L329.5 190L327 192.5L324.5 190z" fill="#fff" stroke="#1c1c70" stroke-width="0.7"/>
<path d="M335.5 166L338 168.5L335.5 170.9L333 168.5z" fill="#fff" stroke="#1c1c70" stroke-width="0.7"/>
<path d="M344 128.4L346.5 130.9L344 133.3L341.5 130.9z" fill="#fff" stroke="#1c1c70" stroke-width="0.7"/>
<path d="M352.5 92.5L355 95L352.5 97.4L350 95z" fill="#fff" stroke="#1c1c70" stroke-width="0.7"/>
<path d="M361 73.8L363.4 76.3L361 78.7L358.5 76.3z" fill="#fff" stroke="#1c1c70" stroke-width="0.7"/>
<path d="M369.5 67.3L371.9 69.7L369.5 72.2L367 69.7z" fill="#fff" stroke="#1c1c70" stroke-width="0.7"/>
<path d="M378 69.2L380.4 71.7L378 74.2L375.5 71.7z" fill="#fff" stroke="#1c1c70" stroke-width="0.7"/>
<path d="M386.5 76L388.9 78.4L386.5 80.9L384 78.4z" fill="#fff" stroke="#1c1c70" stroke-width="0.7"/>
<path d="M395 87.3L397.4 89.8L395 92.2L392.5 89.8z" fill="#fff" stroke="#1c1c70" stroke-width="0.7"/>
<path d="M403.5 102.7L405.9 105.2L403.5 107.7L401 105.2z" fill="#fff" stroke="#1c1c70" stroke-width="0.7"/>
<path d="M412 109.3L414.4 111.7L412 114.2L409.5 111.7z" fill="#fff" stroke="#1c1c70" stroke-width="0.7"/>
<path d="M420.5 105.3L422.9 107.8L420.5 110.3L418 107.8z" fill="#fff" stroke="#1c1c70" stroke-width="0.7"/>
<path d="M429 106.2L431.4 108.7L429 111.1L426.5 108.7z" fill="#fff" stroke="#1c1c70" stroke-width="0.7"/>
<path d="M437.5 110.8L439.9 113.2L437.5 115.7L435 113.2z" fill="#fff" stroke="#1c1c70" stroke-width="0.7"/>
<path d="M446 116.7L448.4 119.1L446 121.6L443.5 119.1z" fill="#fff" stroke="#1c1c70" stroke-width="0.7"/>
<path d="M454.5 123.8L456.9 126.3L454.5 128.8L452 126.3z" fill="#fff" stroke="#1c1c70" stroke-width="0.7"/>
<path d="M463 133.8L465.4 136.3L463 138.8L460.5 136.3z" fill="#fff" stroke="#1c1c70" stroke-width="0.7"/>
<path d="M471.5 146.2L473.9 148.7L471.5 151.2L469 148.7z" fill="#fff" stroke="#1c1c70" stroke-width="0.7"/>
<path d="M480 157.5L482.4 160L480 162.5L477.5 160z" fill="#fff" stroke="#1c1c70" stroke-width="0.7"/>
<path d="M488.5 163.4L490.9 165.9L488.5 168.3L486 165.9z" fill="#fff" stroke="#1c1c70" stroke-width="0.7"/>
<path d="M497 168.6L499.4 171.1L497 173.6L494.5 171.1z" fill="#fff" stroke="#1c1c70" stroke-width="0.7"/>
<path d="M505.5 172.5L507.9 175L505.5 177.5L503 175z" fill="#fff" stroke="#1c1c70" stroke-width="0.7"/>
<path d="M514 177.1L516.4 179.6L514 182L511.5 179.6z" fill="#fff" stroke="#1c1c70" stroke-width="0.7"/>
<path d="M522.5 182.1L524.9 184.6L522.5 187L520 184.6z" fill="#fff" stroke="#1c1c70" stroke-width="0.7"/>
<path d="M531 187.8L533.4 190.2L531 192.7L528.5 190.2z" fill="#fff" stroke="#1c1c70" stroke-width="0.7"/>
<path d="M539.4 195L541.9 197.4L539.4 199.9L537 197.4z" fill="#fff" stroke="#1c1c70" stroke-width="0.7"/>
<path d="M547.9 206.9L550.4 209.4L547.9 211.8L545.5 209.4z" fill="#fff" stroke="#1c1c70" stroke-width="0.7"/>
</g>
<rect x="318.5" y="57.3" width="230.0" height="184.7" fill="none" stroke="#222" stroke-width="0.9"/>
<path d="M318.5 242.0v-3.6M333.7 242.0v-2M348.9 242.0v-3.6M364 242.0v-2M379.2 242.0v-3.6M394.4 242.0v-2M409.6 242.0v-3.6M424.7 242.0v-2M439.9 242.0v-3.6M455.1 242.0v-2M470.2 242.0v-3.6M485.4 242.0v-2M500.6 242.0v-3.6M515.8 242.0v-2M531 242.0v-3.6M546.1 242.0v-2M318.5 242h3.6M318.5 220.2h2M318.5 198.5h3.6M318.5 176.8h2M318.5 155h3.6M318.5 133.2h2M318.5 111.5h3.6M318.5 89.8h2M318.5 68h3.6M341.5 57.3v3M548.5 75.8h-3M364.5 57.3v3M548.5 94.2h-3M387.5 57.3v3M548.5 112.7h-3M410.5 57.3v3M548.5 131.2h-3M433.5 57.3v3M548.5 149.6h-3M456.5 57.3v3M548.5 168.1h-3M479.5 57.3v3M548.5 186.6h-3M502.5 57.3v3M548.5 205.1h-3M525.5 57.3v3M548.5 223.5h-3" stroke="#222" stroke-width="0.8" fill="none"/>
<g font-family='"Liberation Serif", serif' font-size="11" fill="#111">
<text x="318.5" y="256.6" text-anchor="middle">0</text>
<text x="348.9" y="256.6" text-anchor="middle">10</text>
<text x="379.2" y="256.6" text-anchor="middle">20</text>
<text x="409.6" y="256.6" text-anchor="middle">30</text>
<text x="439.9" y="256.6" text-anchor="middle">40</text>
<text x="470.2" y="256.6" text-anchor="middle">50</text>
<text x="500.6" y="256.6" text-anchor="middle">60</text>
<text x="531" y="256.6" text-anchor="middle">70</text>
<text x="313.3" y="245.6" text-anchor="end">20</text>
<text x="313.3" y="202.1" text-anchor="end">40</text>
<text x="313.3" y="158.6" text-anchor="end">60</text>
<text x="313.3" y="115.1" text-anchor="end">80</text>
<text x="313.3" y="71.6" text-anchor="end">100</text>
</g>
<text x="393.3" y="275.4" font-family='"Liberation Serif", serif' font-size="14.4" fill="#111">Distance, m<tspan dx="1.2">m</tspan></text>
<text transform="translate(296 161) rotate(-90)" text-anchor="middle" font-family='"Liberation Serif", serif' font-size="14.4" fill="#111"><tspan font-style="italic">T</tspan>, &#176;C</text>
<text x="281.9" y="273.5" font-family='"Liberation Serif", serif' font-size="14.6" fill="#111">(b)</text>
<g font-family='"Liberation Serif", serif' font-size="10.3" fill="#111">
<path d="M485.1 70.9H508.9" stroke="#222222" stroke-width="1.4"/>
<path d="M495.3 69.2h3.4v3.4h-3.4z" fill="#fff" stroke="#222222" stroke-width="0.7"/>
<text x="511.4" y="74.3">0.26 W</text>
<path d="M485.1 83.6H508.9" stroke="#ff2a18" stroke-width="1.4"/>
<circle cx="497" cy="83.6" r="1.9" fill="#fff" stroke="#ff2a18" stroke-width="0.7"/>
<text x="511.4" y="87">1.05 W</text>
<path d="M485.1 96.4H508.9" stroke="#2020d8" stroke-width="1.4"/>
<path d="M497 94.1L499.2 98L494.8 98z" fill="#fff" stroke="#2020d8" stroke-width="0.7"/>
<text x="511.4" y="99.8">2.40 W</text>
<path d="M485.1 109.1H508.9" stroke="#1f9a72" stroke-width="1.4"/>
<path d="M497 111.4L499.2 107.5L494.8 107.5z" fill="#fff" stroke="#1f9a72" stroke-width="0.7"/>
<text x="511.4" y="112.5">4.40 W</text>
<path d="M485.1 121.8H508.9" stroke="#ff28cc" stroke-width="1.4"/>
<path d="M494.7 121.8L498.6 119.6L498.6 124z" fill="#fff" stroke="#ff28cc" stroke-width="0.7"/>
<text x="511.4" y="125.2">7.00 W</text>
<path d="M485.1 134.6H508.9" stroke="#9c8c14" stroke-width="1.4"/>
<path d="M499.3 134.6L495.4 132.4L495.4 136.8z" fill="#fff" stroke="#9c8c14" stroke-width="0.7"/>
<text x="511.4" y="138">10.0 W</text>
<path d="M485.1 147.3H508.9" stroke="#1c1c70" stroke-width="1.4"/>
<path d="M497 144.9L499.4 147.3L497 149.7L494.6 147.3z" fill="#fff" stroke="#1c1c70" stroke-width="0.7"/>
<text x="511.4" y="150.7">14.0 W</text>
</g>
<rect x="332.4" y="57.3" width="69.4" height="184.7" fill="#ffc000" fill-opacity="0.6"/><rect x="405.5" y="57.3" width="64" height="184.7" fill="#ffc000" fill-opacity="0.4"/><rect x="472.7" y="57.3" width="65.3" height="184.7" fill="#ffc000" fill-opacity="0.2"/>
</g>
<g id="photo">
<defs>
<clipPath id="pc"><rect x="318" y="0.6" width="233" height="47.7"/></clipPath>
<linearGradient id="bgl" x1="0" y1="0" x2="0.6" y2="1"><stop offset="0" stop-color="#6c6768"/><stop offset="1" stop-color="#9a9492"/></linearGradient>
<linearGradient id="cu" x1="0" y1="0" x2="0" y2="1"><stop offset="0" stop-color="#dc9c74"/><stop offset="0.45" stop-color="#c88056"/><stop offset="1" stop-color="#b8724a"/></linearGradient>
<linearGradient id="cub" x1="0" y1="0" x2="0" y2="1"><stop offset="0" stop-color="#efb084"/><stop offset="0.4" stop-color="#de8c58"/><stop offset="1" stop-color="#c8784a"/></linearGradient>
<linearGradient id="fade" x1="0" y1="0" x2="1" y2="0"><stop offset="0" stop-color="#d8b8a0" stop-opacity="0"/><stop offset="0.6" stop-color="#d8b8a0" stop-opacity="0"/><stop offset="1" stop-color="#d8b8a0" stop-opacity="0.55"/></linearGradient>
<linearGradient id="glass" x1="0" y1="0" x2="0" y2="1"><stop offset="0" stop-color="#a09b72"/><stop offset="0.27" stop-color="#a9a37e"/><stop offset="0.36" stop-color="#c4bd9c"/><stop offset="0.55" stop-color="#c7c0a1"/><stop offset="1" stop-color="#bdb696"/></linearGradient>
<linearGradient id="glassl" x1="0" y1="0" x2="0" y2="1"><stop offset="0" stop-color="#989368"/><stop offset="0.27" stop-color="#9f9978"/><stop offset="0.36" stop-color="#bab390"/><stop offset="0.6" stop-color="#beb796"/><stop offset="1" stop-color="#b6af8e"/></linearGradient>
<linearGradient id="glassr" x1="0" y1="0" x2="0" y2="1"><stop offset="0" stop-color="#c6c6a8"/><stop offset="0.5" stop-color="#ccccb0"/><stop offset="0.62" stop-color="#dadac4"/><stop offset="1" stop-color="#dedecb"/></linearGradient>
<linearGradient id="st1" x1="0" y1="0" x2="0" y2="1"><stop offset="0" stop-color="#d0ceb4"/><stop offset="1" stop-color="#e3e2d0"/></linearGradient>
<linearGradient id="und" x1="0" y1="0" x2="1" y2="0"><stop offset="0" stop-color="#88837e"/><stop offset="0.5" stop-color="#a8a49e"/><stop offset="1" stop-color="#cac8c2"/></linearGradient>
<filter id="bl" x="-5%" y="-20%" width="110%" height="140%"><feGaussianBlur stdDeviation="0.55"/></filter>
</defs>
<g clip-path="url(#pc)">
<rect x="317" y="0" width="235" height="49" fill="#827c7a"/>
<g filter="url(#bl)">
<rect x="339" y="0" width="194" height="3.2" fill="#d8d7d3"/>
<path d="M317 3H338L317 48z" fill="url(#bgl)"/>
<path d="M317 0h23l-1 2.4H317z" fill="#5a5658"/>
<path d="M531 0h21v23h-11z" fill="#6f6f6f"/>
<path d="M541 22h11v27h-1z" fill="#b2b2b0"/>
<circle cx="547" cy="7" r="1.3" fill="#3a3a3a"/>
<path d="M337 7H523L534 41.5H318.5z" fill="url(#glass)"/>
<path d="M337 7H409L400 41.5H318.5z" fill="url(#glassl)"/>
<path d="M413 7h48v6l-20 4-28-1z" fill="#86866a" opacity="0.5"/>
<path d="M466 7H523L534 41.5H465z" fill="url(#glassr)"/>
<path d="M446 7h16l-1 34.5h-16z" fill="#c6c5ac" opacity="0.45"/>
<path d="M494 23.5h27l2 6.5h-31z" fill="#babc9e" opacity="0.45"/>
<path d="M337 7H359.8L347.6 41.5H318.5z" fill="#dbd7b5"/>
<path d="M347.6 7h7.6L338 41.5h-8.5z" fill="#e9e6ca"/>
<path d="M404.7 7h8.1l-7.2 34.5h-7.2z" fill="url(#st1)"/>
<path d="M461 7h6l-1 34.5h-6z" fill="#dfdec7"/>
<path d="M519.5 7L529.5 2.8 551 44v3H534.5z" fill="#e7e7d8"/>
<path d="M336.2 2.8H528l1.5 2.4-1 2.3H335z" fill="url(#cu)"/>
<path d="M318 41H545l1.5 5.6H318z" fill="url(#cub)"/>
<path d="M318 41H545l1.5 5.6H318z" fill="url(#fade)"/>
<path d="M326 41.2l7 0-4 5.2-6 0z" fill="#e8a070"/><path d="M526 3l4 0 2.5 6-3.5 0z" fill="#cf8e68"/><path d="M317 46.6h235v2h-235z" fill="url(#und)"/>
<path d="M317.5 15.6C323.5 13.6 328 10 332.6 6" fill="none" stroke="#e4c62e" stroke-width="1.8"/>
<path d="M332.4 6.2L335.2 5" fill="none" stroke="#eeeeea" stroke-width="1.6"/>
</g>
</g>
</g></svg>
</body></html>
